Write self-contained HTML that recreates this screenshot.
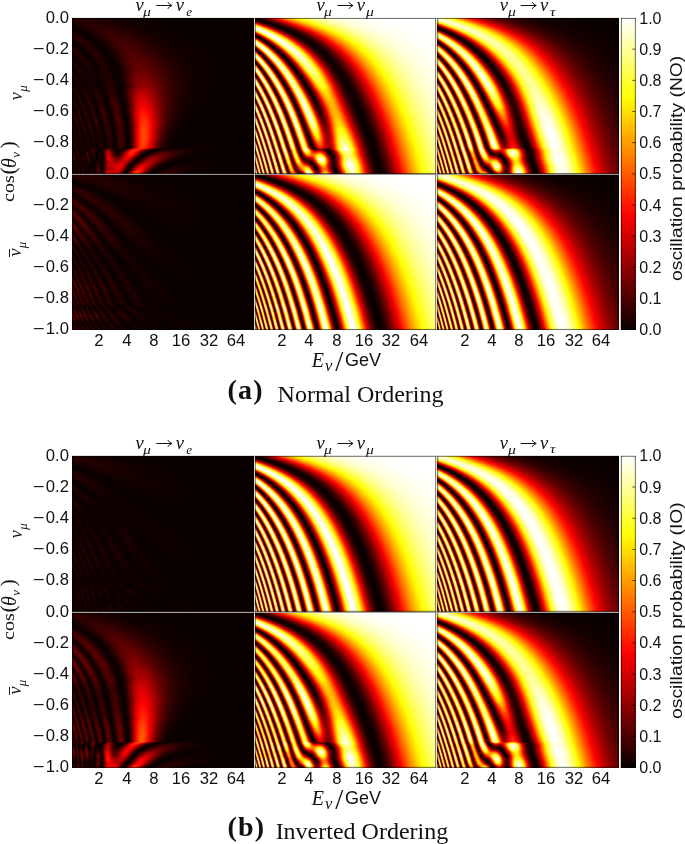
<!DOCTYPE html>
<html><head><meta charset="utf-8"><style>
html,body{margin:0;padding:0;background:#fff}
body{width:685px;height:844px;overflow:hidden;position:relative;font-family:"Liberation Sans",sans-serif;color:#111}
#c{position:absolute;left:0;top:0;width:685px;height:844px}
.t{position:absolute;white-space:nowrap;line-height:1}
.m{font-family:"Liberation Serif",serif;font-style:italic;color:#111}
.m2{font-family:"Liberation Serif",serif;color:#111}
.sans{font-family:"Liberation Sans",sans-serif}
.tk{font-size:16px;font-family:"Liberation Sans",sans-serif}
.yl{width:60px;text-align:right;transform:scaleX(1.04);transform-origin:100% 50%}
.mi{display:inline-block;transform:scaleX(1.2);transform-origin:100% 50%;margin-right:1.6px}
.xl{width:40px;text-align:center;transform:scaleX(1.04);transform-origin:50% 50%}
.cl{transform:scaleX(1.0);transform-origin:0 50%}
.cap{font-family:"Liberation Serif",serif;color:#111}
.capb{font-family:"Liberation Serif",serif;font-weight:bold;color:#111}
.cbl{font-size:17.4px;transform-origin:0 0;transform:rotate(-90deg) scaleX(1.11)}
.rl{font-size:18.5px;transform-origin:0 0;transform:rotate(-90deg)}
.rl .sb{font-size:13px;position:relative;top:4px}
.rm{font-family:"Liberation Serif",serif}
.ov{text-decoration:overline}
.fb{position:absolute}
</style></head><body>
<div class="fb" style="left:72.1px;top:17.90px;width:181.4px;height:8.20px;background:linear-gradient(90deg,#210000 1.9%,#270000 5.8%,#280000 9.6%,#250000 13.5%,#200000 17.3%,#1b0000 21.2%,#160000 25.0%,#130000 28.8%,#100000 32.7%,#0e0000 36.5%,#0d0000 40.4%,#0c0000 44.2%,#0b0000 48.1%,#0b0000 51.9%,#0b0000 55.8%,#0b0000 59.6%,#0b0000 63.5%,#0b0000 67.3%,#0b0000 71.2%,#0b0000 75.0%,#0b0000 78.8%,#0b0000 82.7%,#0b0000 86.5%,#0b0000 90.4%,#0b0000 94.2%,#0a0000 98.1%)"></div>
<div class="fb" style="left:72.1px;top:25.70px;width:181.4px;height:8.20px;background:linear-gradient(90deg,#0f0000 1.9%,#100000 5.8%,#1e0000 9.6%,#2a0000 13.5%,#2f0000 17.3%,#2e0000 21.2%,#290000 25.0%,#220000 28.8%,#1d0000 32.7%,#170000 36.5%,#130000 40.4%,#110000 44.2%,#0e0000 48.1%,#0d0000 51.9%,#0c0000 55.8%,#0b0000 59.6%,#0b0000 63.5%,#0b0000 67.3%,#0b0000 71.2%,#0b0000 75.0%,#0b0000 78.8%,#0b0000 82.7%,#0b0000 86.5%,#0b0000 90.4%,#0b0000 94.2%,#0a0000 98.1%)"></div>
<div class="fb" style="left:72.1px;top:33.50px;width:181.4px;height:8.20px;background:linear-gradient(90deg,#260000 1.9%,#1a0000 5.8%,#0c0000 9.6%,#150000 13.5%,#280000 17.3%,#360000 21.2%,#3a0000 25.0%,#360000 28.8%,#2e0000 32.7%,#260000 36.5%,#1f0000 40.4%,#190000 44.2%,#140000 48.1%,#110000 51.9%,#0f0000 55.8%,#0d0000 59.6%,#0c0000 63.5%,#0b0000 67.3%,#0b0000 71.2%,#0b0000 75.0%,#0b0000 78.8%,#0b0000 82.7%,#0b0000 86.5%,#0b0000 90.4%,#0b0000 94.2%,#0a0000 98.1%)"></div>
<div class="fb" style="left:72.1px;top:41.30px;width:181.4px;height:8.20px;background:linear-gradient(90deg,#0f0000 1.9%,#1e0000 5.8%,#210000 9.6%,#0e0000 13.5%,#110000 17.3%,#270000 21.2%,#3b0000 25.0%,#430000 28.8%,#400000 32.7%,#370000 36.5%,#2d0000 40.4%,#240000 44.2%,#1c0000 48.1%,#170000 51.9%,#130000 55.8%,#100000 59.6%,#0e0000 63.5%,#0d0000 67.3%,#0b0000 71.2%,#0b0000 75.0%,#0b0000 78.8%,#0b0000 82.7%,#0b0000 86.5%,#0b0000 90.4%,#0b0000 94.2%,#0a0000 98.1%)"></div>
<div class="fb" style="left:72.1px;top:49.10px;width:181.4px;height:8.20px;background:linear-gradient(90deg,#200000 1.9%,#110000 5.8%,#190000 9.6%,#210000 13.5%,#0e0000 17.3%,#120000 21.2%,#2c0000 25.0%,#440000 28.8%,#4d0000 32.7%,#490000 36.5%,#3e0000 40.4%,#320000 44.2%,#270000 48.1%,#1f0000 51.9%,#180000 55.8%,#130000 59.6%,#100000 63.5%,#0e0000 67.3%,#0d0000 71.2%,#0b0000 75.0%,#0b0000 78.8%,#0b0000 82.7%,#0b0000 86.5%,#0b0000 90.4%,#0b0000 94.2%,#0a0000 98.1%)"></div>
<div class="fb" style="left:72.1px;top:56.90px;width:181.4px;height:8.20px;background:linear-gradient(90deg,#140000 1.9%,#1c0000 5.8%,#100000 9.6%,#1a0000 13.5%,#1d0000 17.3%,#0c0000 21.2%,#1a0000 25.0%,#3b0000 28.8%,#530000 32.7%,#580000 36.5%,#500000 40.4%,#420000 44.2%,#340000 48.1%,#280000 51.9%,#1f0000 55.8%,#180000 59.6%,#130000 63.5%,#100000 67.3%,#0d0000 71.2%,#0d0000 75.0%,#0b0000 78.8%,#0b0000 82.7%,#0b0000 86.5%,#0b0000 90.4%,#0b0000 94.2%,#0a0000 98.1%)"></div>
<div class="fb" style="left:72.1px;top:64.70px;width:181.4px;height:8.20px;background:linear-gradient(90deg,#180000 1.9%,#100000 5.8%,#180000 9.6%,#100000 13.5%,#200000 17.3%,#140000 21.2%,#0f0000 25.0%,#2e0000 28.8%,#530000 32.7%,#640000 36.5%,#610000 40.4%,#510000 44.2%,#400000 48.1%,#310000 51.9%,#250000 55.8%,#1c0000 59.6%,#160000 63.5%,#120000 67.3%,#0f0000 71.2%,#0d0000 75.0%,#0c0000 78.8%,#0b0000 82.7%,#0b0000 86.5%,#0b0000 90.4%,#0b0000 94.2%,#0a0000 98.1%)"></div>
<div class="fb" style="left:72.1px;top:72.50px;width:181.4px;height:8.20px;background:linear-gradient(90deg,#160000 1.9%,#160000 5.8%,#130000 9.6%,#110000 13.5%,#1a0000 17.3%,#1a0000 21.2%,#0d0000 25.0%,#290000 28.8%,#590000 32.7%,#760000 36.5%,#750000 40.4%,#640000 44.2%,#4e0000 48.1%,#3a0000 51.9%,#2a0000 55.8%,#1f0000 59.6%,#180000 63.5%,#120000 67.3%,#100000 71.2%,#0d0000 75.0%,#0c0000 78.8%,#0b0000 82.7%,#0b0000 86.5%,#0b0000 90.4%,#0b0000 94.2%,#0a0000 98.1%)"></div>
<div class="fb" style="left:72.1px;top:80.30px;width:181.4px;height:8.20px;background:linear-gradient(90deg,#120000 1.9%,#130000 5.8%,#150000 9.6%,#130000 13.5%,#160000 17.3%,#230000 21.2%,#0e0000 25.0%,#1f0000 28.8%,#5a0000 32.7%,#860000 36.5%,#8d0000 40.4%,#790000 44.2%,#5d0000 48.1%,#430000 51.9%,#300000 55.8%,#220000 59.6%,#190000 63.5%,#130000 67.3%,#100000 71.2%,#0d0000 75.0%,#0c0000 78.8%,#0b0000 82.7%,#0b0000 86.5%,#0b0000 90.4%,#0b0000 94.2%,#0a0000 98.1%)"></div>
<div class="fb" style="left:72.1px;top:88.10px;width:181.4px;height:8.20px;background:linear-gradient(90deg,#170000 1.9%,#160000 5.8%,#100000 9.6%,#210000 13.5%,#0e0000 17.3%,#290000 21.2%,#120000 25.0%,#1e0000 28.8%,#6f0000 32.7%,#ad0000 36.5%,#b10000 40.4%,#910000 44.2%,#690000 48.1%,#470000 51.9%,#2f0000 55.8%,#200000 59.6%,#170000 63.5%,#110000 67.3%,#0e0000 71.2%,#0c0000 75.0%,#0b0000 78.8%,#0b0000 82.7%,#0b0000 86.5%,#0b0000 90.4%,#0b0000 94.2%,#0a0000 98.1%)"></div>
<div class="fb" style="left:72.1px;top:95.90px;width:181.4px;height:8.20px;background:linear-gradient(90deg,#150000 1.9%,#160000 5.8%,#200000 9.6%,#1c0000 13.5%,#130000 17.3%,#290000 21.2%,#230000 25.0%,#140000 28.8%,#710000 32.7%,#cb0000 36.5%,#d50000 40.4%,#aa0000 44.2%,#750000 48.1%,#4b0000 51.9%,#2f0000 55.8%,#1e0000 59.6%,#140000 63.5%,#0f0000 67.3%,#0d0000 71.2%,#0b0000 75.0%,#0b0000 78.8%,#0b0000 82.7%,#0b0000 86.5%,#0b0000 90.4%,#0b0000 94.2%,#0a0000 98.1%)"></div>
<div class="fb" style="left:72.1px;top:103.70px;width:181.4px;height:8.20px;background:linear-gradient(90deg,#1b0000 1.9%,#200000 5.8%,#1c0000 9.6%,#110000 13.5%,#260000 17.3%,#1c0000 21.2%,#380000 25.0%,#0e0000 28.8%,#670000 32.7%,#df0000 36.5%,#f50100 40.4%,#c20000 44.2%,#800000 48.1%,#4c0000 51.9%,#2d0000 55.8%,#1b0000 59.6%,#120000 63.5%,#0d0000 67.3%,#0b0000 71.2%,#0b0000 75.0%,#0b0000 78.8%,#0b0000 82.7%,#0b0000 86.5%,#0b0000 90.4%,#0b0000 94.2%,#0a0000 98.1%)"></div>
<div class="fb" style="left:72.1px;top:111.50px;width:181.4px;height:8.20px;background:linear-gradient(90deg,#1c0000 1.9%,#180000 5.8%,#150000 9.6%,#1d0000 13.5%,#2e0000 17.3%,#100000 21.2%,#3f0000 25.0%,#100000 28.8%,#5f0000 32.7%,#f20600 36.5%,#ff1900 40.4%,#d60000 44.2%,#830000 48.1%,#470000 51.9%,#260000 55.8%,#150000 59.6%,#0e0000 63.5%,#0b0000 67.3%,#0b0000 71.2%,#0b0000 75.0%,#0b0000 78.8%,#0b0000 82.7%,#0b0000 86.5%,#0b0000 90.4%,#0b0000 94.2%,#0a0000 98.1%)"></div>
<div class="fb" style="left:72.1px;top:119.30px;width:181.4px;height:8.20px;background:linear-gradient(90deg,#1c0000 1.9%,#1e0000 5.8%,#200000 9.6%,#260000 13.5%,#1f0000 17.3%,#130000 21.2%,#3e0000 25.0%,#190000 28.8%,#4a0000 32.7%,#f00a00 36.5%,#ff2f00 40.4%,#e40100 44.2%,#860000 48.1%,#430000 51.9%,#210000 55.8%,#110000 59.6%,#0c0000 63.5%,#0b0000 67.3%,#0b0000 71.2%,#0b0000 75.0%,#0b0000 78.8%,#0b0000 82.7%,#0b0000 86.5%,#0b0000 90.4%,#0b0000 94.2%,#0a0000 98.1%)"></div>
<div class="fb" style="left:72.1px;top:127.10px;width:181.4px;height:8.20px;background:linear-gradient(90deg,#190000 1.9%,#180000 5.8%,#190000 9.6%,#190000 13.5%,#130000 17.3%,#1e0000 21.2%,#2d0000 25.0%,#1f0000 28.8%,#420000 32.7%,#f21000 36.5%,#ff3c00 40.4%,#e10100 44.2%,#770000 48.1%,#340000 51.9%,#160000 55.8%,#0c0000 59.6%,#0b0000 63.5%,#0b0000 67.3%,#0b0000 71.2%,#0b0000 75.0%,#0b0000 78.8%,#0b0000 82.7%,#0b0000 86.5%,#0b0000 90.4%,#0b0000 94.2%,#0a0000 98.1%)"></div>
<div class="fb" style="left:72.1px;top:134.90px;width:181.4px;height:8.20px;background:linear-gradient(90deg,#170000 1.9%,#150000 5.8%,#130000 9.6%,#130000 13.5%,#120000 17.3%,#220000 21.2%,#230000 25.0%,#260000 28.8%,#380000 32.7%,#f01000 36.5%,#ff3c00 40.4%,#d40000 44.2%,#640000 48.1%,#260000 51.9%,#0f0000 55.8%,#0b0000 59.6%,#0b0000 63.5%,#0b0000 67.3%,#0b0000 71.2%,#0b0000 75.0%,#0b0000 78.8%,#0b0000 82.7%,#0b0000 86.5%,#0b0000 90.4%,#0b0000 94.2%,#0a0000 98.1%)"></div>
<div class="fb" style="left:72.1px;top:142.70px;width:181.4px;height:8.20px;background:linear-gradient(90deg,#130000 1.9%,#140000 5.8%,#130000 9.6%,#130000 13.5%,#140000 17.3%,#270000 21.2%,#1b0000 25.0%,#240000 28.8%,#430000 32.7%,#f31400 36.5%,#fa2900 40.4%,#a90000 44.2%,#420000 48.1%,#150000 51.9%,#0c0000 55.8%,#0c0000 59.6%,#0c0000 63.5%,#0d0000 67.3%,#0d0000 71.2%,#0b0000 75.0%,#0b0000 78.8%,#0b0000 82.7%,#0b0000 86.5%,#0b0000 90.4%,#0b0000 94.2%,#0a0000 98.1%)"></div>
<div class="fb" style="left:72.1px;top:150.50px;width:181.4px;height:8.20px;background:linear-gradient(90deg,#210000 1.9%,#130000 5.8%,#210000 9.6%,#130000 13.5%,#320000 17.3%,#9c0000 21.2%,#250000 25.0%,#900000 28.8%,#f81700 32.7%,#7a0000 36.5%,#190000 40.4%,#3a0000 44.2%,#570000 48.1%,#4e0000 51.9%,#360000 55.8%,#210000 59.6%,#150000 63.5%,#0f0000 67.3%,#0c0000 71.2%,#0b0000 75.0%,#0b0000 78.8%,#0b0000 82.7%,#0b0000 86.5%,#0b0000 90.4%,#0b0000 94.2%,#0a0000 98.1%)"></div>
<div class="fb" style="left:72.1px;top:158.30px;width:181.4px;height:8.20px;background:linear-gradient(90deg,#180000 1.9%,#1a0000 5.8%,#1b0000 9.6%,#150000 13.5%,#280000 17.3%,#c40000 21.2%,#a80000 25.0%,#c60000 28.8%,#420000 32.7%,#370000 36.5%,#a10000 40.4%,#9d0000 44.2%,#560000 48.1%,#220000 51.9%,#0f0000 55.8%,#0c0000 59.6%,#0d0000 63.5%,#0d0000 67.3%,#0d0000 71.2%,#0c0000 75.0%,#0c0000 78.8%,#0b0000 82.7%,#0b0000 86.5%,#0b0000 90.4%,#0b0000 94.2%,#0a0000 98.1%)"></div>
<div class="fb" style="left:72.1px;top:166.10px;width:181.4px;height:8.20px;background:linear-gradient(90deg,#160000 1.9%,#1c0000 5.8%,#120000 9.6%,#2b0000 13.5%,#2f0000 17.3%,#be0000 21.2%,#d30000 25.0%,#500000 28.8%,#5d0000 32.7%,#f21300 36.5%,#a20000 40.4%,#280000 44.2%,#130000 48.1%,#1e0000 51.9%,#220000 55.8%,#1d0000 59.6%,#160000 63.5%,#100000 67.3%,#0d0000 71.2%,#0c0000 75.0%,#0b0000 78.8%,#0b0000 82.7%,#0b0000 86.5%,#0b0000 90.4%,#0b0000 94.2%,#0a0000 98.1%)"></div>
<div class="fb" style="left:254.8px;top:17.90px;width:181.4px;height:8.20px;background:linear-gradient(90deg,#680800 1.9%,#2b0000 5.8%,#470000 9.6%,#970300 13.5%,#dc2300 17.3%,#fd6300 21.2%,#ffb201 25.0%,#ffe615 28.8%,#fffd3f 32.7%,#ffff74 36.5%,#ffff9c 40.4%,#ffffb8 44.2%,#ffffcc 48.1%,#ffffdc 51.9%,#ffffe6 55.8%,#ffffee 59.6%,#fffff4 63.5%,#fffff8 67.3%,#fffffa 71.2%,#fffffd 75.0%,#fffffe 78.8%,#ffffff 82.7%,#ffffff 86.5%,#ffffff 90.4%,#ffffff 94.2%,#ffffff 98.1%)"></div>
<div class="fb" style="left:254.8px;top:25.70px;width:181.4px;height:8.20px;background:linear-gradient(90deg,#fff195 1.9%,#ffd26d 5.8%,#d55808 9.6%,#6b0400 13.5%,#210000 17.3%,#3b0000 21.2%,#8e0000 25.0%,#df1700 28.8%,#fe5a00 32.7%,#ffae00 36.5%,#ffe80d 40.4%,#fffe35 44.2%,#ffff69 48.1%,#ffff95 51.9%,#ffffb4 55.8%,#ffffcb 59.6%,#ffffdb 63.5%,#ffffe6 67.3%,#ffffee 71.2%,#fffff4 75.0%,#fffff8 78.8%,#fffffa 82.7%,#fffffc 86.5%,#fffffe 90.4%,#ffffff 94.2%,#ffffff 98.1%)"></div>
<div class="fb" style="left:254.8px;top:33.50px;width:181.4px;height:8.20px;background:linear-gradient(90deg,#560400 1.9%,#cc5a0c 5.8%,#fff8a7 9.6%,#fff482 13.5%,#f26203 17.3%,#790100 21.2%,#1a0000 25.0%,#2b0000 28.8%,#7e0000 32.7%,#de0800 36.5%,#ff4d00 40.4%,#ff9e00 44.2%,#ffdf02 48.1%,#fffe26 51.9%,#ffff63 55.8%,#ffff90 59.6%,#ffffb1 63.5%,#ffffc9 67.3%,#ffffd9 71.2%,#ffffe5 75.0%,#ffffed 78.8%,#fffff3 82.7%,#fffff7 86.5%,#fffffa 90.4%,#fffffb 94.2%,#fffffe 98.1%)"></div>
<div class="fb" style="left:254.8px;top:41.30px;width:181.4px;height:8.20px;background:linear-gradient(90deg,#fdde81 1.9%,#b45114 5.8%,#5e0600 9.6%,#f5a42f 13.5%,#ffffc6 17.3%,#ffd338 21.2%,#d32300 25.0%,#460000 28.8%,#160000 32.7%,#460000 36.5%,#a40000 40.4%,#f21400 44.2%,#ff6300 48.1%,#ffb500 51.9%,#fff108 55.8%,#ffff3f 59.6%,#ffff76 63.5%,#ffff9e 67.3%,#ffffbb 71.2%,#ffffd0 75.0%,#ffffde 78.8%,#ffffe8 82.7%,#fffff0 86.5%,#fffff5 90.4%,#fffff8 94.2%,#fffffb 98.1%)"></div>
<div class="fb" style="left:254.8px;top:49.10px;width:181.4px;height:8.20px;background:linear-gradient(90deg,#84290a 1.9%,#e7a852 5.8%,#f1a846 9.6%,#420100 13.5%,#d34c04 17.3%,#fffb9b 21.2%,#fff870 25.0%,#f65600 28.8%,#730000 32.7%,#180000 36.5%,#2c0000 40.4%,#780000 44.2%,#d70300 48.1%,#ff4100 51.9%,#ff9a00 55.8%,#ffe101 59.6%,#ffff27 63.5%,#ffff65 67.3%,#ffff91 71.2%,#ffffb1 75.0%,#ffffc9 78.8%,#ffffda 82.7%,#ffffe5 86.5%,#ffffed 90.4%,#fffff3 94.2%,#fffff7 98.1%)"></div>
<div class="fb" style="left:254.8px;top:56.90px;width:181.4px;height:8.20px;background:linear-gradient(90deg,#dca454 1.9%,#943a10 5.8%,#dc8931 9.6%,#fbc95a 13.5%,#480200 17.3%,#bf2a00 21.2%,#fff672 25.0%,#fffc73 28.8%,#fb6500 32.7%,#800000 36.5%,#1a0000 40.4%,#220000 44.2%,#690000 48.1%,#cf0100 51.9%,#ff3800 55.8%,#ff9300 59.6%,#ffdc00 63.5%,#fffe21 67.3%,#ffff5f 71.2%,#ffff8e 75.0%,#ffffaf 78.8%,#ffffc7 82.7%,#ffffd8 86.5%,#ffffe4 90.4%,#ffffec 94.2%,#fffff3 98.1%)"></div>
<div class="fb" style="left:254.8px;top:64.70px;width:181.4px;height:8.20px;background:linear-gradient(90deg,#ac5c28 1.9%,#f4c96f 5.8%,#731902 9.6%,#f3ad40 13.5%,#fab136 17.3%,#2f0000 21.2%,#d73300 25.0%,#fffc6e 28.8%,#fff843 32.7%,#f83e00 36.5%,#670000 40.4%,#160000 44.2%,#260000 48.1%,#760000 51.9%,#dd0200 55.8%,#ff4600 59.6%,#ff9e00 63.5%,#ffe400 67.3%,#ffff2a 71.2%,#ffff66 75.0%,#ffff93 78.8%,#ffffb3 82.7%,#ffffca 86.5%,#ffffda 90.4%,#ffffe5 94.2%,#ffffed 98.1%)"></div>
<div class="fb" style="left:254.8px;top:72.50px;width:181.4px;height:8.20px;background:linear-gradient(90deg,#c17b3c 1.9%,#812406 5.8%,#fedf79 9.6%,#580400 13.5%,#fee276 17.3%,#e3690e 21.2%,#2c0000 25.0%,#f05d01 28.8%,#fffe58 32.7%,#ffd109 36.5%,#dd1000 40.4%,#4a0000 44.2%,#130000 48.1%,#380000 51.9%,#910000 55.8%,#f10900 59.6%,#ff5f00 63.5%,#ffb200 67.3%,#fff203 71.2%,#ffff3c 75.0%,#ffff73 78.8%,#ffff9c 82.7%,#ffffba 86.5%,#ffffcf 90.4%,#ffffdd 94.2%,#ffffe8 98.1%)"></div>
<div class="fb" style="left:254.8px;top:80.30px;width:181.4px;height:8.20px;background:linear-gradient(90deg,#cc8c45 1.9%,#f3c065 5.8%,#8d2e08 9.6%,#edaa4c 13.5%,#7e1800 17.3%,#fffc93 21.2%,#ab2100 25.0%,#4a0000 28.8%,#fd8d02 32.7%,#fffe22 36.5%,#ff7e00 40.4%,#b00000 44.2%,#300000 48.1%,#160000 51.9%,#500000 55.8%,#b20000 59.6%,#fd1e00 63.5%,#ff7b00 67.3%,#ffc900 71.2%,#fffc0e 75.0%,#ffff4f 78.8%,#ffff81 82.7%,#ffffa6 86.5%,#ffffc1 90.4%,#ffffd4 94.2%,#ffffe1 98.1%)"></div>
<div class="fb" style="left:254.8px;top:88.10px;width:181.4px;height:8.20px;background:linear-gradient(90deg,#a75421 1.9%,#90330b 5.8%,#cf893f 9.6%,#e39f48 13.5%,#9b3607 17.3%,#de7517 21.2%,#ffe266 25.0%,#560200 28.8%,#8d0400 32.7%,#ffad00 36.5%,#ffc300 40.4%,#f82300 44.2%,#6f0000 48.1%,#160000 51.9%,#250000 55.8%,#750000 59.6%,#db0100 63.5%,#ff4300 67.3%,#ff9b00 71.2%,#ffe200 75.0%,#ffff27 78.8%,#ffff64 82.7%,#ffff91 86.5%,#ffffb1 90.4%,#ffffc9 94.2%,#ffffda 98.1%)"></div>
<div class="fb" style="left:254.8px;top:95.90px;width:181.4px;height:8.20px;background:linear-gradient(90deg,#d59648 1.9%,#e9ad55 5.8%,#ce8f47 9.6%,#741401 13.5%,#ffe781 17.3%,#4e0100 21.2%,#ffec87 25.0%,#ee760f 28.8%,#280000 32.7%,#de1d00 36.5%,#ffb900 40.4%,#ff7500 44.2%,#c20200 48.1%,#350000 51.9%,#110000 55.8%,#430000 59.6%,#a10000 63.5%,#f91100 67.3%,#ff6c00 71.2%,#ffbc00 75.0%,#fff806 78.8%,#ffff44 82.7%,#ffff7a 86.5%,#ffffa1 90.4%,#ffffbd 94.2%,#ffffd1 98.1%)"></div>
<div class="fb" style="left:254.8px;top:103.70px;width:181.4px;height:8.20px;background:linear-gradient(90deg,#b05c25 1.9%,#a24412 5.8%,#92340d 9.6%,#e5a558 13.5%,#d58639 17.3%,#b9510f 21.2%,#cc5709 25.0%,#fff99d 28.8%,#890700 32.7%,#6e0000 36.5%,#ff7200 40.4%,#ffa700 44.2%,#f72300 48.1%,#6a0000 51.9%,#140000 55.8%,#220000 59.6%,#700000 63.5%,#d70000 67.3%,#ff3f00 71.2%,#ff9800 75.0%,#ffdf00 78.8%,#ffff24 82.7%,#ffff62 86.5%,#ffff8f 90.4%,#ffffb0 94.2%,#ffffc8 98.1%)"></div>
<div class="fb" style="left:254.8px;top:111.50px;width:181.4px;height:8.20px;background:linear-gradient(90deg,#c8833f 1.9%,#dd994a 5.8%,#f1b659 9.6%,#d69855 13.5%,#700c00 17.3%,#ffed8d 21.2%,#490000 25.0%,#fff18f 28.8%,#f7840f 32.7%,#4a0000 36.5%,#ec2300 40.4%,#ffb600 44.2%,#ff7300 48.1%,#b70100 51.9%,#2f0000 55.8%,#0f0000 59.6%,#440000 63.5%,#a40000 67.3%,#fb1200 71.2%,#ff6f00 75.0%,#ffbf00 78.8%,#fff907 82.7%,#ffff46 86.5%,#ffff7b 90.4%,#ffffa2 94.2%,#ffffbe 98.1%)"></div>
<div class="fb" style="left:254.8px;top:119.30px;width:181.4px;height:8.20px;background:linear-gradient(90deg,#bb7234 1.9%,#b16129 5.8%,#a65421 9.6%,#8e2804 13.5%,#cd8441 17.3%,#eaa653 21.2%,#9e3404 25.0%,#de6d0f 28.8%,#fff068 32.7%,#950300 36.5%,#be0500 40.4%,#ffa900 44.2%,#ffbd00 48.1%,#f31e00 51.9%,#5f0000 55.8%,#100000 59.6%,#260000 63.5%,#790000 67.3%,#e00100 71.2%,#ff4800 75.0%,#ff9f00 78.8%,#ffe500 82.7%,#ffff2a 86.5%,#ffff67 90.4%,#ffff93 94.2%,#ffffb3 98.1%)"></div>
<div class="fb" style="left:254.8px;top:127.10px;width:181.4px;height:8.20px;background:linear-gradient(90deg,#c17a3a 1.9%,#c7823f 5.8%,#bc7e41 9.6%,#d89b4f 13.5%,#f6c864 17.3%,#7a1901 21.2%,#fbc45a 25.0%,#580300 28.8%,#fff135 32.7%,#e83200 36.5%,#a90000 40.4%,#ff9900 44.2%,#fffc13 48.1%,#ff8100 51.9%,#aa0000 55.8%,#250000 59.6%,#120000 63.5%,#500000 67.3%,#b30000 71.2%,#fe1f00 75.0%,#ff7c00 78.8%,#ffca00 82.7%,#fffd0e 86.5%,#ffff50 90.4%,#ffff82 94.2%,#ffffa7 98.1%)"></div>
<div class="fb" style="left:254.8px;top:134.90px;width:181.4px;height:8.20px;background:linear-gradient(90deg,#b86f32 1.9%,#bb7135 5.8%,#c38642 9.6%,#c88d46 13.5%,#994411 17.3%,#943f0c 21.2%,#fdd85c 25.0%,#6a0b00 28.8%,#e75400 32.7%,#fe6000 36.5%,#a60000 40.4%,#ff7500 44.2%,#ffff58 48.1%,#ffe314 51.9%,#ed1c00 55.8%,#4f0000 59.6%,#0d0000 63.5%,#300000 67.3%,#8a0000 71.2%,#ee0500 75.0%,#ff5900 78.8%,#ffad00 82.7%,#fff001 86.5%,#ffff38 90.4%,#ffff71 94.2%,#ffff9a 98.1%)"></div>
<div class="fb" style="left:254.8px;top:142.70px;width:181.4px;height:8.20px;background:linear-gradient(90deg,#c88341 1.9%,#bb7435 5.8%,#af5b22 9.6%,#9f3c0a 13.5%,#944113 17.3%,#f4b94c 21.2%,#b75a0e 25.0%,#e17b1b 28.8%,#5e0000 32.7%,#f12400 36.5%,#930000 40.4%,#fc4900 44.2%,#ffff7c 48.1%,#ffff7e 51.9%,#ff6f00 55.8%,#880000 59.6%,#170000 63.5%,#1b0000 67.3%,#670000 71.2%,#cf0000 75.0%,#ff3800 78.8%,#ff9300 82.7%,#ffdc00 86.5%,#ffff20 90.4%,#ffff5f 94.2%,#ffff8e 98.1%)"></div>
<div class="fb" style="left:254.8px;top:150.50px;width:181.4px;height:8.20px;background:linear-gradient(90deg,#b0632e 1.9%,#c27c3c 5.8%,#ce8640 9.6%,#d39247 13.5%,#f1b24a 17.3%,#de921a 21.2%,#620600 25.0%,#fca012 28.8%,#fa5800 32.7%,#f78612 36.5%,#510100 40.4%,#750100 44.2%,#ffba0f 48.1%,#ffff7f 51.9%,#ffb101 55.8%,#c00200 59.6%,#2b0000 63.5%,#100000 67.3%,#4b0000 71.2%,#ae0000 75.0%,#fe1b00 78.8%,#ff7800 82.7%,#ffc700 86.5%,#fffc0c 90.4%,#ffff4e 94.2%,#ffff81 98.1%)"></div>
<div class="fb" style="left:254.8px;top:158.30px;width:181.4px;height:8.20px;background:linear-gradient(90deg,#cc8c46 1.9%,#b86d30 5.8%,#ba6e32 9.6%,#bb7b3b 13.5%,#ae6211 17.3%,#8c1200 21.2%,#ef8302 25.0%,#6a0100 28.8%,#9a1800 32.7%,#fff477 36.5%,#cd2800 40.4%,#3d0000 44.2%,#fd7c01 48.1%,#ffffc5 51.9%,#fff642 55.8%,#f42a00 59.6%,#540000 63.5%,#0d0000 67.3%,#300000 71.2%,#8a0000 75.0%,#ef0500 78.8%,#ff5a00 82.7%,#ffaf00 86.5%,#fff101 90.4%,#ffff39 94.2%,#ffff71 98.1%)"></div>
<div class="fb" style="left:254.8px;top:166.10px;width:181.4px;height:8.20px;background:linear-gradient(90deg,#b36730 1.9%,#c57e39 5.8%,#bb7637 9.6%,#ab5b28 13.5%,#994318 17.3%,#ce5200 21.2%,#bd2b00 25.0%,#fee64e 28.8%,#710d00 32.7%,#e73700 36.5%,#e02d00 40.4%,#1b0000 44.2%,#d82c00 48.1%,#fefc8c 51.9%,#fefe86 55.8%,#fe6900 59.6%,#810000 63.5%,#150000 67.3%,#1e0000 71.2%,#6c0000 75.0%,#d40000 78.8%,#fe3d00 82.7%,#fe9700 86.5%,#fedf00 90.4%,#fefe24 94.2%,#fefe62 98.1%)"></div>
<div class="fb" style="left:437.3px;top:17.90px;width:181.4px;height:8.20px;background:linear-gradient(90deg,#f7d762 1.9%,#ffff9f 5.8%,#fffd7f 9.6%,#ffe235 13.5%,#ffa206 17.3%,#fb4d00 21.2%,#e41500 25.0%,#b80100 28.8%,#890000 32.7%,#650000 36.5%,#4a0000 40.4%,#380000 44.2%,#2a0000 48.1%,#200000 51.9%,#190000 55.8%,#140000 59.6%,#110000 63.5%,#0f0000 67.3%,#0d0000 71.2%,#0c0000 75.0%,#0b0000 78.8%,#0b0000 82.7%,#0b0000 86.5%,#0b0000 90.4%,#0b0000 94.2%,#0b0000 98.1%)"></div>
<div class="fb" style="left:437.3px;top:25.70px;width:181.4px;height:8.20px;background:linear-gradient(90deg,#570600 1.9%,#770e00 5.8%,#e36f0a 9.6%,#ffe251 13.5%,#ffffa2 17.3%,#ffff87 21.2%,#ffed30 25.0%,#ffab02 28.8%,#fe4f00 32.7%,#eb1200 36.5%,#bc0000 40.4%,#8b0000 44.2%,#660000 48.1%,#4c0000 51.9%,#390000 55.8%,#2a0000 59.6%,#210000 63.5%,#1a0000 67.3%,#150000 71.2%,#110000 75.0%,#0f0000 78.8%,#0d0000 82.7%,#0c0000 86.5%,#0b0000 90.4%,#0b0000 94.2%,#0b0000 98.1%)"></div>
<div class="fb" style="left:437.3px;top:33.50px;width:181.4px;height:8.20px;background:linear-gradient(90deg,#f7e36c 1.9%,#ed8d23 5.8%,#540300 9.6%,#500000 13.5%,#e54400 17.3%,#ffe22d 21.2%,#ffff9a 25.0%,#ffff90 28.8%,#fff92f 32.7%,#ffb800 36.5%,#ff5a00 40.4%,#f61100 44.2%,#c40000 48.1%,#910000 51.9%,#6b0000 55.8%,#4f0000 59.6%,#3a0000 63.5%,#2c0000 67.3%,#220000 71.2%,#1a0000 75.0%,#150000 78.8%,#110000 82.7%,#0f0000 86.5%,#0d0000 90.4%,#0c0000 94.2%,#0b0000 98.1%)"></div>
<div class="fb" style="left:437.3px;top:41.30px;width:181.4px;height:8.20px;background:linear-gradient(90deg,#6d1501 1.9%,#d47a22 5.8%,#fff279 9.6%,#c84605 13.5%,#2b0000 17.3%,#860500 21.2%,#fb7c02 25.0%,#fff84c 28.8%,#ffff9c 32.7%,#ffff6a 36.5%,#ffe90f 40.4%,#ff9300 44.2%,#ff3800 48.1%,#e70400 51.9%,#af0000 55.8%,#810000 59.6%,#5f0000 63.5%,#460000 67.3%,#340000 71.2%,#280000 75.0%,#1f0000 78.8%,#180000 82.7%,#140000 86.5%,#110000 90.4%,#0e0000 94.2%,#0d0000 98.1%)"></div>
<div class="fb" style="left:437.3px;top:49.10px;width:181.4px;height:8.20px;background:linear-gradient(90deg,#e1ad48 1.9%,#b05114 5.8%,#902602 9.6%,#fff38a 13.5%,#f89c21 17.3%,#550100 21.2%,#410000 25.0%,#e63100 28.8%,#ffdf19 32.7%,#ffff88 36.5%,#ffff84 40.4%,#fffa24 44.2%,#ffb400 48.1%,#ff5700 51.9%,#f80d00 55.8%,#c30000 59.6%,#900000 63.5%,#6a0000 67.3%,#4e0000 71.2%,#3a0000 75.0%,#2c0000 78.8%,#220000 82.7%,#1a0000 86.5%,#150000 90.4%,#120000 94.2%,#0f0000 98.1%)"></div>
<div class="fb" style="left:437.3px;top:56.90px;width:181.4px;height:8.20px;background:linear-gradient(90deg,#a5551d 1.9%,#dc973c 5.8%,#d07021 9.6%,#731000 13.5%,#ffed83 17.3%,#fec236 21.2%,#6f0300 25.0%,#2e0000 28.8%,#da1a00 32.7%,#ffcf0a 36.5%,#ffff78 40.4%,#ffff85 44.2%,#fffd2b 48.1%,#ffbe00 51.9%,#ff6000 55.8%,#fb1200 59.6%,#c90000 63.5%,#950000 67.3%,#6e0000 71.2%,#510000 75.0%,#3c0000 78.8%,#2d0000 82.7%,#230000 86.5%,#1b0000 90.4%,#160000 94.2%,#110000 98.1%)"></div>
<div class="fb" style="left:437.3px;top:64.70px;width:181.4px;height:8.20px;background:linear-gradient(90deg,#b9702a 1.9%,#8f360c 5.8%,#f4bf5b 9.6%,#bd4b0c 13.5%,#901700 17.3%,#fffcac 21.2%,#feaf1e 25.0%,#560000 28.8%,#380000 32.7%,#eb2300 36.5%,#ffe00c 40.4%,#ffff7f 44.2%,#ffff7c 48.1%,#fffb1d 51.9%,#ffb200 55.8%,#ff5500 59.6%,#f90a00 63.5%,#c20000 67.3%,#8f0000 71.2%,#6a0000 75.0%,#4e0000 78.8%,#3a0000 82.7%,#2c0000 86.5%,#220000 90.4%,#1a0000 94.2%,#150000 98.1%)"></div>
<div class="fb" style="left:437.3px;top:72.50px;width:181.4px;height:8.20px;background:linear-gradient(90deg,#c17e32 1.9%,#ebb959 5.8%,#6b1000 9.6%,#ffec8c 13.5%,#791700 17.3%,#cf4e06 21.2%,#ffffcc 25.0%,#f36d06 28.8%,#320000 32.7%,#600000 36.5%,#fb4d00 40.4%,#fff523 44.2%,#ffff8a 48.1%,#ffff6b 51.9%,#fff20b 55.8%,#ff9c00 59.6%,#ff4100 63.5%,#f00300 67.3%,#b50000 71.2%,#860000 75.0%,#630000 78.8%,#490000 82.7%,#360000 86.5%,#290000 90.4%,#200000 94.2%,#190000 98.1%)"></div>
<div class="fb" style="left:437.3px;top:80.30px;width:181.4px;height:8.20px;background:linear-gradient(90deg,#9e4b19 1.9%,#8d340e 5.8%,#f8cb65 9.6%,#872704 13.5%,#fee07a 17.3%,#3e0000 21.2%,#f8a728 25.0%,#fffc9c 28.8%,#ce2200 32.7%,#200000 36.5%,#9f0100 40.4%,#ff9000 44.2%,#ffff50 48.1%,#ffff94 51.9%,#ffff54 55.8%,#ffe002 59.6%,#ff8200 63.5%,#ff2a00 67.3%,#e00000 71.2%,#a60000 75.0%,#7b0000 78.8%,#5a0000 82.7%,#430000 86.5%,#320000 90.4%,#260000 94.2%,#1d0000 98.1%)"></div>
<div class="fb" style="left:437.3px;top:88.10px;width:181.4px;height:8.20px;background:linear-gradient(90deg,#d49741 1.9%,#e6ad4f 5.8%,#9e4715 9.6%,#b35b1c 13.5%,#e5983a 17.3%,#de741a 21.2%,#640500 25.0%,#ffee64 28.8%,#ffc41b 32.7%,#730000 36.5%,#3f0000 40.4%,#ed2000 44.2%,#ffe40d 48.1%,#ffff92 51.9%,#ffff97 55.8%,#fffe34 59.6%,#ffc200 63.5%,#ff6300 67.3%,#fd1100 71.2%,#ca0000 75.0%,#960000 78.8%,#6e0000 82.7%,#510000 86.5%,#3c0000 90.4%,#2e0000 94.2%,#220000 98.1%)"></div>
<div class="fb" style="left:437.3px;top:95.90px;width:181.4px;height:8.20px;background:linear-gradient(90deg,#a04f1a 1.9%,#9a4011 5.8%,#b9722d 9.6%,#f8ce5f 13.5%,#5e0600 17.3%,#fff578 21.2%,#670900 25.0%,#d23d00 28.8%,#fffd3b 32.7%,#e32a00 36.5%,#310000 40.4%,#9b0000 44.2%,#ff8e00 48.1%,#ffff64 51.9%,#ffffba 55.8%,#ffff82 59.6%,#fff50f 63.5%,#ff9c00 67.3%,#ff3f00 71.2%,#ee0200 75.0%,#b20000 78.8%,#840000 82.7%,#610000 86.5%,#480000 90.4%,#350000 94.2%,#270000 98.1%)"></div>
<div class="fb" style="left:437.3px;top:103.70px;width:181.4px;height:8.20px;background:linear-gradient(90deg,#c78432 1.9%,#e39e3b 5.8%,#dca143 9.6%,#892b05 13.5%,#cb7322 17.3%,#d47014 21.2%,#f08c1b 25.0%,#3b0000 28.8%,#ffac02 32.7%,#ff8300 36.5%,#630000 40.4%,#530000 44.2%,#f83400 48.1%,#fff525 51.9%,#ffffbe 55.8%,#ffffbb 59.6%,#ffff4f 63.5%,#ffd100 67.3%,#ff6d00 71.2%,#fe1700 75.0%,#cf0000 78.8%,#990000 82.7%,#710000 86.5%,#530000 90.4%,#3e0000 94.2%,#2d0000 98.1%)"></div>
<div class="fb" style="left:437.3px;top:111.50px;width:181.4px;height:8.20px;background:linear-gradient(90deg,#ad6321 1.9%,#a64a12 5.8%,#943309 9.6%,#b36b25 13.5%,#fbd24f 17.3%,#540100 21.2%,#fff65d 25.0%,#730800 28.8%,#a80a00 32.7%,#ff7c00 36.5%,#a90100 40.4%,#300000 44.2%,#c90500 48.1%,#ffc503 51.9%,#ffffa5 55.8%,#ffffe3 59.6%,#ffff99 63.5%,#fff915 67.3%,#ff9f00 71.2%,#ff4000 75.0%,#ee0100 78.8%,#b20000 82.7%,#830000 86.5%,#600000 90.4%,#470000 94.2%,#340000 98.1%)"></div>
<div class="fb" style="left:437.3px;top:119.30px;width:181.4px;height:8.20px;background:linear-gradient(90deg,#b97328 1.9%,#d08830 5.8%,#e29d39 9.6%,#eeb343 13.5%,#99430c 17.3%,#b65913 21.2%,#e18119 25.0%,#ee8314 28.8%,#2b0000 32.7%,#f52500 36.5%,#d70600 40.4%,#2f0000 44.2%,#7e0000 48.1%,#ff7400 51.9%,#ffff6a 55.8%,#ffffec 59.6%,#ffffcc 63.5%,#ffff4f 67.3%,#ffcb00 71.2%,#ff6700 75.0%,#fd1200 78.8%,#ca0000 82.7%,#950000 86.5%,#6d0000 90.4%,#510000 94.2%,#3a0000 98.1%)"></div>
<div class="fb" style="left:437.3px;top:127.10px;width:181.4px;height:8.20px;background:linear-gradient(90deg,#b06825 1.9%,#b26020 5.8%,#a9591e 9.6%,#97380a 13.5%,#8d380c 17.3%,#fee062 21.2%,#660900 25.0%,#fffa86 28.8%,#700600 32.7%,#860000 36.5%,#e10000 40.4%,#420000 44.2%,#3d0000 48.1%,#ef2400 51.9%,#fff023 55.8%,#ffffda 59.6%,#fffff1 63.5%,#ffff8e 67.3%,#fff10b 71.2%,#ff9000 75.0%,#ff3200 78.8%,#e40000 82.7%,#a90000 86.5%,#7c0000 90.4%,#5c0000 94.2%,#420000 98.1%)"></div>
<div class="fb" style="left:437.3px;top:134.90px;width:181.4px;height:8.20px;background:linear-gradient(90deg,#bc7830 1.9%,#c27930 5.8%,#b97937 9.6%,#b97b3a 13.5%,#f3bb58 17.3%,#d0873e 21.2%,#832603 25.0%,#fbc25b 28.8%,#ed7612 32.7%,#4e0000 36.5%,#dc0000 40.4%,#710000 44.2%,#170000 48.1%,#b00200 51.9%,#ffb201 55.8%,#ffffa4 59.6%,#fffffb 63.5%,#ffffbe 67.3%,#ffff34 71.2%,#ffb700 75.0%,#ff5400 78.8%,#f80800 82.7%,#be0000 86.5%,#8c0000 90.4%,#670000 94.2%,#4a0000 98.1%)"></div>
<div class="fb" style="left:437.3px;top:142.70px;width:181.4px;height:8.20px;background:linear-gradient(90deg,#a96226 1.9%,#bd7533 5.8%,#c4853e 9.6%,#e0a14c 13.5%,#cc8f4e 17.3%,#7e1600 21.2%,#eca151 25.0%,#ad4205 28.8%,#ffeb6c 32.7%,#9d0100 36.5%,#ed1400 40.4%,#c30700 44.2%,#1c0000 48.1%,#5e0000 51.9%,#fe5600 55.8%,#fffe53 59.6%,#ffffec 63.5%,#ffffdb 67.3%,#ffff65 71.2%,#ffda00 75.0%,#ff7400 78.8%,#ff1b00 82.7%,#d20000 86.5%,#9b0000 90.4%,#720000 94.2%,#520000 98.1%)"></div>
<div class="fb" style="left:437.3px;top:150.50px;width:181.4px;height:8.20px;background:linear-gradient(90deg,#be7b2a 1.9%,#b66d2b 5.8%,#b15d16 9.6%,#a44a14 13.5%,#8a2404 17.3%,#9a3300 21.2%,#fcda68 25.0%,#821000 28.8%,#5e0000 32.7%,#9c0a00 36.5%,#fff272 40.4%,#ffe63b 44.2%,#8d0100 48.1%,#1d0000 51.9%,#d60d00 55.8%,#ffdd0e 59.6%,#ffffc3 63.5%,#ffffeb 67.3%,#ffff91 71.2%,#fff40e 75.0%,#ff9400 78.8%,#ff3600 82.7%,#e70000 86.5%,#ac0000 90.4%,#7e0000 94.2%,#5b0000 98.1%)"></div>
<div class="fb" style="left:437.3px;top:158.30px;width:181.4px;height:8.20px;background:linear-gradient(90deg,#b06424 1.9%,#c47f33 5.8%,#c5792d 9.6%,#c2843e 13.5%,#d99a4c 17.3%,#f16b00 21.2%,#740f00 25.0%,#fc8600 28.8%,#febc3a 32.7%,#4b0200 36.5%,#d62b00 40.4%,#ffdc01 44.2%,#c20d00 48.1%,#130000 51.9%,#9a0000 55.8%,#ffa300 59.6%,#ffff98 63.5%,#fffff6 67.3%,#ffffbb 71.2%,#ffff31 75.0%,#ffb600 78.8%,#ff5300 82.7%,#f80700 86.5%,#bd0000 90.4%,#8b0000 94.2%,#640000 98.1%)"></div>
<div class="fb" style="left:437.3px;top:166.10px;width:181.4px;height:8.20px;background:linear-gradient(90deg,#b36b28 1.9%,#ac6123 5.8%,#ba7130 9.6%,#bd7a24 13.5%,#ca8b28 17.3%,#972100 21.2%,#d04500 25.0%,#4d0100 28.8%,#f6ad30 32.7%,#a31000 36.5%,#c52400 40.4%,#fefeac 44.2%,#fc8706 48.1%,#370000 51.9%,#4b0000 55.8%,#fb4a00 59.6%,#fefc4b 63.5%,#fefee6 67.3%,#fefed5 71.2%,#fefe5e 75.0%,#fed500 78.8%,#fe6f00 82.7%,#fd1800 86.5%,#ce0000 90.4%,#980000 94.2%,#6d0000 98.1%)"></div>
<div class="fb" style="left:72.1px;top:174.90px;width:181.4px;height:8.15px;background:linear-gradient(90deg,#190000 1.9%,#200000 5.8%,#230000 9.6%,#220000 13.5%,#1f0000 17.3%,#1b0000 21.2%,#170000 25.0%,#130000 28.8%,#110000 32.7%,#0f0000 36.5%,#0d0000 40.4%,#0c0000 44.2%,#0b0000 48.1%,#0b0000 51.9%,#0b0000 55.8%,#0b0000 59.6%,#0b0000 63.5%,#0b0000 67.3%,#0b0000 71.2%,#0b0000 75.0%,#0b0000 78.8%,#0b0000 82.7%,#0b0000 86.5%,#0b0000 90.4%,#0b0000 94.2%,#0a0000 98.1%)"></div>
<div class="fb" style="left:72.1px;top:182.65px;width:181.4px;height:8.15px;background:linear-gradient(90deg,#1c0000 1.9%,#0e0000 5.8%,#0e0000 9.6%,#150000 13.5%,#1c0000 17.3%,#1f0000 21.2%,#1f0000 25.0%,#1c0000 28.8%,#180000 32.7%,#150000 36.5%,#120000 40.4%,#100000 44.2%,#0e0000 48.1%,#0d0000 51.9%,#0c0000 55.8%,#0b0000 59.6%,#0b0000 63.5%,#0b0000 67.3%,#0b0000 71.2%,#0b0000 75.0%,#0b0000 78.8%,#0b0000 82.7%,#0b0000 86.5%,#0b0000 90.4%,#0b0000 94.2%,#0a0000 98.1%)"></div>
<div class="fb" style="left:72.1px;top:190.40px;width:181.4px;height:8.15px;background:linear-gradient(90deg,#1c0000 1.9%,#2c0000 5.8%,#240000 9.6%,#130000 13.5%,#0c0000 17.3%,#0e0000 21.2%,#140000 25.0%,#180000 28.8%,#190000 32.7%,#180000 36.5%,#150000 40.4%,#130000 44.2%,#110000 48.1%,#0f0000 51.9%,#0d0000 55.8%,#0d0000 59.6%,#0b0000 63.5%,#0b0000 67.3%,#0b0000 71.2%,#0b0000 75.0%,#0b0000 78.8%,#0b0000 82.7%,#0b0000 86.5%,#0b0000 90.4%,#0b0000 94.2%,#0a0000 98.1%)"></div>
<div class="fb" style="left:72.1px;top:198.15px;width:181.4px;height:8.15px;background:linear-gradient(90deg,#380000 1.9%,#180000 5.8%,#1d0000 9.6%,#2c0000 13.5%,#210000 17.3%,#110000 21.2%,#0b0000 25.0%,#0d0000 28.8%,#100000 32.7%,#130000 36.5%,#140000 40.4%,#140000 44.2%,#120000 48.1%,#110000 51.9%,#100000 55.8%,#0d0000 59.6%,#0d0000 63.5%,#0c0000 67.3%,#0b0000 71.2%,#0b0000 75.0%,#0b0000 78.8%,#0b0000 82.7%,#0b0000 86.5%,#0b0000 90.4%,#0b0000 94.2%,#0a0000 98.1%)"></div>
<div class="fb" style="left:72.1px;top:205.90px;width:181.4px;height:8.15px;background:linear-gradient(90deg,#230000 1.9%,#370000 5.8%,#240000 9.6%,#120000 13.5%,#240000 17.3%,#270000 21.2%,#190000 25.0%,#0e0000 28.8%,#0b0000 32.7%,#0c0000 36.5%,#0f0000 40.4%,#110000 44.2%,#110000 48.1%,#100000 51.9%,#100000 55.8%,#0e0000 59.6%,#0d0000 63.5%,#0d0000 67.3%,#0b0000 71.2%,#0b0000 75.0%,#0b0000 78.8%,#0b0000 82.7%,#0b0000 86.5%,#0b0000 90.4%,#0b0000 94.2%,#0a0000 98.1%)"></div>
<div class="fb" style="left:72.1px;top:213.65px;width:181.4px;height:8.15px;background:linear-gradient(90deg,#410000 1.9%,#210000 5.8%,#310000 9.6%,#280000 13.5%,#0f0000 17.3%,#1e0000 21.2%,#260000 25.0%,#1c0000 28.8%,#100000 32.7%,#0b0000 36.5%,#0b0000 40.4%,#0c0000 44.2%,#0e0000 48.1%,#0f0000 51.9%,#0f0000 55.8%,#0d0000 59.6%,#0d0000 63.5%,#0d0000 67.3%,#0b0000 71.2%,#0b0000 75.0%,#0b0000 78.8%,#0b0000 82.7%,#0b0000 86.5%,#0b0000 90.4%,#0b0000 94.2%,#0a0000 98.1%)"></div>
<div class="fb" style="left:72.1px;top:221.40px;width:181.4px;height:8.15px;background:linear-gradient(90deg,#360000 1.9%,#3c0000 5.8%,#1d0000 9.6%,#2d0000 13.5%,#260000 17.3%,#0f0000 21.2%,#1a0000 25.0%,#230000 28.8%,#1b0000 32.7%,#110000 36.5%,#0b0000 40.4%,#0b0000 44.2%,#0b0000 48.1%,#0c0000 51.9%,#0d0000 55.8%,#0d0000 59.6%,#0d0000 63.5%,#0c0000 67.3%,#0b0000 71.2%,#0b0000 75.0%,#0b0000 78.8%,#0b0000 82.7%,#0b0000 86.5%,#0b0000 90.4%,#0b0000 94.2%,#0a0000 98.1%)"></div>
<div class="fb" style="left:72.1px;top:229.15px;width:181.4px;height:8.15px;background:linear-gradient(90deg,#2b0000 1.9%,#260000 5.8%,#340000 9.6%,#160000 13.5%,#270000 17.3%,#210000 21.2%,#0d0000 25.0%,#150000 28.8%,#1f0000 32.7%,#1b0000 36.5%,#120000 40.4%,#0d0000 44.2%,#0b0000 48.1%,#0b0000 51.9%,#0b0000 55.8%,#0b0000 59.6%,#0b0000 63.5%,#0b0000 67.3%,#0b0000 71.2%,#0b0000 75.0%,#0b0000 78.8%,#0b0000 82.7%,#0b0000 86.5%,#0b0000 90.4%,#0b0000 94.2%,#0a0000 98.1%)"></div>
<div class="fb" style="left:72.1px;top:236.90px;width:181.4px;height:8.15px;background:linear-gradient(90deg,#310000 1.9%,#280000 5.8%,#170000 9.6%,#2c0000 13.5%,#100000 17.3%,#230000 21.2%,#1b0000 25.0%,#0c0000 28.8%,#110000 32.7%,#190000 36.5%,#170000 40.4%,#120000 44.2%,#0d0000 48.1%,#0b0000 51.9%,#0b0000 55.8%,#0b0000 59.6%,#0b0000 63.5%,#0b0000 67.3%,#0b0000 71.2%,#0b0000 75.0%,#0b0000 78.8%,#0b0000 82.7%,#0b0000 86.5%,#0b0000 90.4%,#0b0000 94.2%,#0a0000 98.1%)"></div>
<div class="fb" style="left:72.1px;top:244.65px;width:181.4px;height:8.15px;background:linear-gradient(90deg,#180000 1.9%,#1c0000 5.8%,#220000 9.6%,#110000 13.5%,#1e0000 17.3%,#0d0000 21.2%,#1c0000 25.0%,#150000 28.8%,#0b0000 32.7%,#0e0000 36.5%,#140000 40.4%,#150000 44.2%,#110000 48.1%,#0e0000 51.9%,#0c0000 55.8%,#0b0000 59.6%,#0b0000 63.5%,#0b0000 67.3%,#0b0000 71.2%,#0b0000 75.0%,#0b0000 78.8%,#0b0000 82.7%,#0b0000 86.5%,#0b0000 90.4%,#0b0000 94.2%,#0a0000 98.1%)"></div>
<div class="fb" style="left:72.1px;top:252.40px;width:181.4px;height:8.15px;background:linear-gradient(90deg,#150000 1.9%,#140000 5.8%,#110000 9.6%,#180000 13.5%,#130000 17.3%,#150000 21.2%,#0d0000 25.0%,#190000 28.8%,#130000 32.7%,#0b0000 36.5%,#0c0000 40.4%,#100000 44.2%,#110000 48.1%,#100000 51.9%,#0d0000 55.8%,#0c0000 59.6%,#0b0000 63.5%,#0b0000 67.3%,#0b0000 71.2%,#0b0000 75.0%,#0b0000 78.8%,#0b0000 82.7%,#0b0000 86.5%,#0b0000 90.4%,#0b0000 94.2%,#0a0000 98.1%)"></div>
<div class="fb" style="left:72.1px;top:260.15px;width:181.4px;height:8.15px;background:linear-gradient(90deg,#180000 1.9%,#180000 5.8%,#170000 9.6%,#110000 13.5%,#120000 17.3%,#160000 21.2%,#120000 25.0%,#0d0000 28.8%,#160000 32.7%,#110000 36.5%,#0b0000 40.4%,#0b0000 44.2%,#0d0000 48.1%,#0e0000 51.9%,#0d0000 55.8%,#0d0000 59.6%,#0c0000 63.5%,#0b0000 67.3%,#0b0000 71.2%,#0b0000 75.0%,#0b0000 78.8%,#0b0000 82.7%,#0b0000 86.5%,#0b0000 90.4%,#0b0000 94.2%,#0a0000 98.1%)"></div>
<div class="fb" style="left:72.1px;top:267.90px;width:181.4px;height:8.15px;background:linear-gradient(90deg,#200000 1.9%,#1a0000 5.8%,#170000 9.6%,#1b0000 13.5%,#1a0000 17.3%,#0e0000 21.2%,#190000 25.0%,#100000 28.8%,#0d0000 32.7%,#150000 36.5%,#120000 40.4%,#0c0000 44.2%,#0b0000 48.1%,#0b0000 51.9%,#0c0000 55.8%,#0d0000 59.6%,#0d0000 63.5%,#0b0000 67.3%,#0b0000 71.2%,#0b0000 75.0%,#0b0000 78.8%,#0b0000 82.7%,#0b0000 86.5%,#0b0000 90.4%,#0b0000 94.2%,#0a0000 98.1%)"></div>
<div class="fb" style="left:72.1px;top:275.65px;width:181.4px;height:8.15px;background:linear-gradient(90deg,#280000 1.9%,#230000 5.8%,#210000 9.6%,#1a0000 13.5%,#110000 17.3%,#1f0000 21.2%,#0e0000 25.0%,#1b0000 28.8%,#0c0000 32.7%,#0f0000 36.5%,#150000 40.4%,#110000 44.2%,#0c0000 48.1%,#0b0000 51.9%,#0b0000 55.8%,#0b0000 59.6%,#0b0000 63.5%,#0b0000 67.3%,#0b0000 71.2%,#0b0000 75.0%,#0b0000 78.8%,#0b0000 82.7%,#0b0000 86.5%,#0b0000 90.4%,#0b0000 94.2%,#0a0000 98.1%)"></div>
<div class="fb" style="left:72.1px;top:283.40px;width:181.4px;height:8.15px;background:linear-gradient(90deg,#300000 1.9%,#2b0000 5.8%,#230000 9.6%,#1f0000 13.5%,#250000 17.3%,#1b0000 21.2%,#150000 25.0%,#170000 28.8%,#180000 32.7%,#0b0000 36.5%,#100000 40.4%,#140000 44.2%,#100000 48.1%,#0c0000 51.9%,#0b0000 55.8%,#0b0000 59.6%,#0b0000 63.5%,#0b0000 67.3%,#0b0000 71.2%,#0b0000 75.0%,#0b0000 78.8%,#0b0000 82.7%,#0b0000 86.5%,#0b0000 90.4%,#0b0000 94.2%,#0a0000 98.1%)"></div>
<div class="fb" style="left:72.1px;top:291.15px;width:181.4px;height:8.15px;background:linear-gradient(90deg,#2e0000 1.9%,#2a0000 5.8%,#280000 9.6%,#260000 13.5%,#1c0000 17.3%,#130000 21.2%,#220000 25.0%,#0d0000 28.8%,#1b0000 32.7%,#120000 36.5%,#0b0000 40.4%,#100000 44.2%,#120000 48.1%,#0f0000 51.9%,#0c0000 55.8%,#0b0000 59.6%,#0b0000 63.5%,#0b0000 67.3%,#0b0000 71.2%,#0b0000 75.0%,#0b0000 78.8%,#0b0000 82.7%,#0b0000 86.5%,#0b0000 90.4%,#0b0000 94.2%,#0a0000 98.1%)"></div>
<div class="fb" style="left:72.1px;top:298.90px;width:181.4px;height:8.15px;background:linear-gradient(90deg,#250000 1.9%,#220000 5.8%,#1f0000 9.6%,#1a0000 13.5%,#190000 17.3%,#200000 21.2%,#130000 25.0%,#160000 28.8%,#0f0000 32.7%,#180000 36.5%,#100000 40.4%,#0c0000 44.2%,#0e0000 48.1%,#0f0000 51.9%,#0d0000 55.8%,#0b0000 59.6%,#0b0000 63.5%,#0b0000 67.3%,#0b0000 71.2%,#0b0000 75.0%,#0b0000 78.8%,#0b0000 82.7%,#0b0000 86.5%,#0b0000 90.4%,#0b0000 94.2%,#0a0000 98.1%)"></div>
<div class="fb" style="left:72.1px;top:306.65px;width:181.4px;height:8.15px;background:linear-gradient(90deg,#250000 1.9%,#230000 5.8%,#1b0000 9.6%,#190000 13.5%,#170000 17.3%,#150000 21.2%,#180000 25.0%,#0f0000 28.8%,#190000 32.7%,#110000 36.5%,#0c0000 40.4%,#0e0000 44.2%,#0d0000 48.1%,#0b0000 51.9%,#0b0000 55.8%,#0b0000 59.6%,#0b0000 63.5%,#0b0000 67.3%,#0b0000 71.2%,#0b0000 75.0%,#0b0000 78.8%,#0b0000 82.7%,#0b0000 86.5%,#0b0000 90.4%,#0b0000 94.2%,#0a0000 98.1%)"></div>
<div class="fb" style="left:72.1px;top:314.40px;width:181.4px;height:8.15px;background:linear-gradient(90deg,#350000 1.9%,#290000 5.8%,#2a0000 9.6%,#250000 13.5%,#1e0000 17.3%,#1a0000 21.2%,#170000 25.0%,#200000 28.8%,#0f0000 32.7%,#120000 36.5%,#100000 40.4%,#0b0000 44.2%,#0d0000 48.1%,#100000 51.9%,#0e0000 55.8%,#0c0000 59.6%,#0b0000 63.5%,#0b0000 67.3%,#0b0000 71.2%,#0b0000 75.0%,#0b0000 78.8%,#0b0000 82.7%,#0b0000 86.5%,#0b0000 90.4%,#0b0000 94.2%,#0a0000 98.1%)"></div>
<div class="fb" style="left:72.1px;top:322.15px;width:181.4px;height:8.15px;background:linear-gradient(90deg,#1c0000 1.9%,#1b0000 5.8%,#1a0000 9.6%,#140000 13.5%,#160000 17.3%,#190000 21.2%,#130000 25.0%,#110000 28.8%,#0f0000 32.7%,#0d0000 36.5%,#0c0000 40.4%,#0f0000 44.2%,#0d0000 48.1%,#0b0000 51.9%,#0b0000 55.8%,#0c0000 59.6%,#0c0000 63.5%,#0c0000 67.3%,#0b0000 71.2%,#0b0000 75.0%,#0b0000 78.8%,#0b0000 82.7%,#0b0000 86.5%,#0b0000 90.4%,#0b0000 94.2%,#0a0000 98.1%)"></div>
<div class="fb" style="left:254.8px;top:174.90px;width:181.4px;height:8.15px;background:linear-gradient(90deg,#8b1c00 1.9%,#360000 5.8%,#320000 9.6%,#750000 13.5%,#c51200 17.3%,#f54600 21.2%,#ff9500 25.0%,#ffd60a 28.8%,#fff82c 32.7%,#ffff5f 36.5%,#ffff8e 40.4%,#ffffad 44.2%,#ffffc4 48.1%,#ffffd6 51.9%,#ffffe3 55.8%,#ffffec 59.6%,#fffff2 63.5%,#fffff6 67.3%,#fffff9 71.2%,#fffffc 75.0%,#fffffe 78.8%,#ffffff 82.7%,#ffffff 86.5%,#ffffff 90.4%,#ffffff 94.2%,#ffffff 98.1%)"></div>
<div class="fb" style="left:254.8px;top:182.65px;width:181.4px;height:8.15px;background:linear-gradient(90deg,#ffef91 1.9%,#ffe774 5.8%,#e76107 9.6%,#760300 13.5%,#1d0000 17.3%,#2e0000 21.2%,#7f0000 25.0%,#da0d00 28.8%,#fe4e00 32.7%,#ffa400 36.5%,#ffe407 40.4%,#fffe2c 44.2%,#ffff63 48.1%,#ffff90 51.9%,#ffffb1 55.8%,#ffffc9 59.6%,#ffffd9 63.5%,#ffffe5 67.3%,#ffffed 71.2%,#fffff3 75.0%,#fffff7 78.8%,#fffffa 82.7%,#fffffc 86.5%,#fffffe 90.4%,#ffffff 94.2%,#ffffff 98.1%)"></div>
<div class="fb" style="left:254.8px;top:190.40px;width:181.4px;height:8.15px;background:linear-gradient(90deg,#660c00 1.9%,#b54d0a 5.8%,#ffea81 9.6%,#fff27e 13.5%,#f16f08 17.3%,#830400 21.2%,#1d0000 25.0%,#260000 28.8%,#740000 32.7%,#d40700 36.5%,#fe4400 40.4%,#ff9500 44.2%,#ffd802 48.1%,#fffc21 51.9%,#ffff5d 55.8%,#ffff8c 59.6%,#ffffae 63.5%,#ffffc6 67.3%,#ffffd8 71.2%,#ffffe4 75.0%,#ffffec 78.8%,#fffff2 82.7%,#fffff7 86.5%,#fffffa 90.4%,#fffffb 94.2%,#fffffe 98.1%)"></div>
<div class="fb" style="left:254.8px;top:198.15px;width:181.4px;height:8.15px;background:linear-gradient(90deg,#f5c650 1.9%,#cc6a19 5.8%,#4a0100 9.6%,#e97e15 13.5%,#fffead 17.3%,#ffe248 21.2%,#e23400 25.0%,#540000 28.8%,#120000 32.7%,#370000 36.5%,#910000 40.4%,#e80b00 44.2%,#ff5200 48.1%,#ffa800 51.9%,#ffea04 55.8%,#ffff33 59.6%,#ffff6d 63.5%,#ffff98 67.3%,#ffffb6 71.2%,#ffffcc 75.0%,#ffffdc 78.8%,#ffffe7 82.7%,#ffffee 86.5%,#fffff4 90.4%,#fffff8 94.2%,#fffffb 98.1%)"></div>
<div class="fb" style="left:254.8px;top:205.90px;width:181.4px;height:8.15px;background:linear-gradient(90deg,#8f3609 1.9%,#d58025 5.8%,#f8b93e 9.6%,#480200 13.5%,#bf3201 17.3%,#fff57f 21.2%,#fffb83 25.0%,#fa6c02 28.8%,#820100 32.7%,#180000 36.5%,#210000 40.4%,#690000 44.2%,#c80100 48.1%,#fe3400 51.9%,#ff8e00 55.8%,#ffd800 59.6%,#fffe1e 63.5%,#ffff5c 67.3%,#ffff8c 71.2%,#ffffad 75.0%,#ffffc6 78.8%,#ffffd8 82.7%,#ffffe4 86.5%,#ffffec 90.4%,#fffff2 94.2%,#fffff7 98.1%)"></div>
<div class="fb" style="left:254.8px;top:213.65px;width:181.4px;height:8.15px;background:linear-gradient(90deg,#da9427 1.9%,#913005 5.8%,#db791a 9.6%,#fdc840 13.5%,#400100 17.3%,#c12500 21.2%,#fff97c 25.0%,#fffe88 28.8%,#fd6e00 32.7%,#830000 36.5%,#160000 40.4%,#1b0000 44.2%,#600000 48.1%,#c70000 51.9%,#ff3100 55.8%,#ff8d00 59.6%,#ffd800 63.5%,#fffe1c 67.3%,#ffff5c 71.2%,#ffff8b 75.0%,#ffffad 78.8%,#ffffc6 82.7%,#ffffd8 86.5%,#ffffe3 90.4%,#ffffec 94.2%,#fffff2 98.1%)"></div>
<div class="fb" style="left:254.8px;top:221.40px;width:181.4px;height:8.15px;background:linear-gradient(90deg,#a75211 1.9%,#efb939 5.8%,#701801 9.6%,#efa531 13.5%,#f6a328 17.3%,#2f0000 21.2%,#dc4301 25.0%,#fffe9b 28.8%,#fffa6b 32.7%,#f94f00 36.5%,#6c0000 40.4%,#130000 44.2%,#1f0000 48.1%,#6e0000 51.9%,#d50100 55.8%,#ff3f00 59.6%,#ff9900 63.5%,#ffe100 67.3%,#ffff26 71.2%,#ffff64 75.0%,#ffff91 78.8%,#ffffb1 82.7%,#ffffc9 86.5%,#ffffda 90.4%,#ffffe5 94.2%,#ffffed 98.1%)"></div>
<div class="fb" style="left:254.8px;top:229.15px;width:181.4px;height:8.15px;background:linear-gradient(90deg,#b5661a 1.9%,#7e2304 5.8%,#fed852 9.6%,#540400 13.5%,#fedd62 17.3%,#e1650c 21.2%,#2d0000 25.0%,#f67c07 28.8%,#ffffc2 32.7%,#ffef3e 36.5%,#ec2600 40.4%,#560000 44.2%,#100000 48.1%,#2b0000 51.9%,#830000 55.8%,#e80500 59.6%,#ff5400 63.5%,#ffaa00 67.3%,#ffed02 71.2%,#ffff35 75.0%,#ffff6f 78.8%,#ffff99 82.7%,#ffffb7 86.5%,#ffffcd 90.4%,#ffffdc 94.2%,#ffffe7 98.1%)"></div>
<div class="fb" style="left:254.8px;top:236.90px;width:181.4px;height:8.15px;background:linear-gradient(90deg,#ce892e 1.9%,#efb745 5.8%,#872805 9.6%,#eca63e 13.5%,#7f1800 17.3%,#fffb90 21.2%,#9c1900 25.0%,#650200 28.8%,#ffd32e 32.7%,#ffffd0 36.5%,#ffc610 40.4%,#d30900 44.2%,#3b0000 48.1%,#0e0000 51.9%,#410000 55.8%,#a30000 59.6%,#fa1400 63.5%,#ff7000 67.3%,#ffc000 71.2%,#fffa09 75.0%,#ffff49 78.8%,#ffff7d 82.7%,#ffffa3 86.5%,#ffffbf 90.4%,#ffffd3 94.2%,#ffffe0 98.1%)"></div>
<div class="fb" style="left:254.8px;top:244.65px;width:181.4px;height:8.15px;background:linear-gradient(90deg,#a6531c 1.9%,#8d2b05 5.8%,#c57b35 9.6%,#edaf54 13.5%,#872402 17.3%,#ed9429 21.2%,#fec94a 25.0%,#310000 28.8%,#d52e00 32.7%,#fffea4 36.5%,#ffff92 40.4%,#ff7700 44.2%,#940000 48.1%,#190000 51.9%,#1a0000 55.8%,#670000 59.6%,#cf0000 63.5%,#ff3a00 67.3%,#ff9400 71.2%,#ffdd00 75.0%,#ffff22 78.8%,#ffff61 82.7%,#ffff8f 86.5%,#ffffb0 90.4%,#ffffc8 94.2%,#ffffd9 98.1%)"></div>
<div class="fb" style="left:254.8px;top:252.40px;width:181.4px;height:8.15px;background:linear-gradient(90deg,#d19148 1.9%,#e7ab55 5.8%,#dfa658 9.6%,#761401 13.5%,#fcd474 17.3%,#600800 21.2%,#fffbaf 25.0%,#c33602 28.8%,#480000 32.7%,#ffbd1d 36.5%,#ffffeb 40.4%,#ffef2e 44.2%,#ec2200 48.1%,#4a0000 51.9%,#0e0000 55.8%,#380000 59.6%,#960000 63.5%,#f60c00 67.3%,#ff6600 71.2%,#ffb900 75.0%,#fff605 78.8%,#ffff42 82.7%,#ffff78 86.5%,#ffffa0 90.4%,#ffffbc 94.2%,#ffffd1 98.1%)"></div>
<div class="fb" style="left:254.8px;top:260.15px;width:181.4px;height:8.15px;background:linear-gradient(90deg,#b15f28 1.9%,#a44b19 5.8%,#91330c 9.6%,#d8944d 13.5%,#e29c4f 17.3%,#9c3807 21.2%,#e48221 25.0%,#ffdc67 28.8%,#3d0000 32.7%,#c92400 36.5%,#fffe9f 40.4%,#ffffc0 44.2%,#ff9e03 48.1%,#a00000 51.9%,#1d0000 55.8%,#180000 59.6%,#610000 63.5%,#ca0000 67.3%,#ff3400 71.2%,#ff9000 75.0%,#ffda00 78.8%,#ffff1f 82.7%,#ffff5e 86.5%,#ffff8d 90.4%,#ffffae 94.2%,#ffffc7 98.1%)"></div>
<div class="fb" style="left:254.8px;top:267.90px;width:181.4px;height:8.15px;background:linear-gradient(90deg,#c67e35 1.9%,#d59241 5.8%,#ecae51 9.6%,#dfa557 13.5%,#731000 17.3%,#fdd876 21.2%,#5d0600 25.0%,#fffcb4 28.8%,#c53601 32.7%,#450000 36.5%,#ffbd1c 40.4%,#fffff2 44.2%,#fff343 48.1%,#ed2200 51.9%,#4a0000 55.8%,#0d0000 59.6%,#380000 63.5%,#960000 67.3%,#f60c00 71.2%,#ff6600 75.0%,#ffb800 78.8%,#fff605 82.7%,#ffff42 86.5%,#ffff78 90.4%,#ffffa0 94.2%,#ffffbc 98.1%)"></div>
<div class="fb" style="left:254.8px;top:275.65px;width:181.4px;height:8.15px;background:linear-gradient(90deg,#b86a22 1.9%,#af5e21 5.8%,#a65821 9.6%,#8c2302 13.5%,#b96c29 17.3%,#f6bf64 21.2%,#791700 25.0%,#f6a436 28.8%,#febf3d 32.7%,#280000 36.5%,#e03a00 40.4%,#ffffa9 44.2%,#ffffb0 48.1%,#ff7f00 51.9%,#8b0000 55.8%,#170000 59.6%,#1d0000 63.5%,#6b0000 67.3%,#d50000 71.2%,#ff3f00 75.0%,#ff9900 78.8%,#ffe100 82.7%,#ffff26 86.5%,#ffff64 90.4%,#ffff91 94.2%,#ffffb1 98.1%)"></div>
<div class="fb" style="left:254.8px;top:283.40px;width:181.4px;height:8.15px;background:linear-gradient(90deg,#bb6d1e 1.9%,#bd7524 5.8%,#ac6723 9.6%,#c07f30 13.5%,#fccd53 17.3%,#923707 21.2%,#e79134 25.0%,#962300 28.8%,#fffda2 32.7%,#880a00 36.5%,#7c0200 40.4%,#ffe22c 44.2%,#ffffe3 48.1%,#ffd817 51.9%,#d20900 55.8%,#320000 59.6%,#0f0000 63.5%,#480000 67.3%,#ab0000 71.2%,#fd1900 75.0%,#ff7800 78.8%,#ffc700 82.7%,#fffc0d 86.5%,#ffff4e 90.4%,#ffff81 94.2%,#ffffa6 98.1%)"></div>
<div class="fb" style="left:254.8px;top:291.15px;width:181.4px;height:8.15px;background:linear-gradient(90deg,#b86a1a 1.9%,#b86e20 5.8%,#ce8a2d 9.6%,#db9d3a 13.5%,#ad6421 17.3%,#781b01 21.2%,#ffef70 25.0%,#460000 28.8%,#ffe877 32.7%,#e96908 36.5%,#270000 40.4%,#fa6900 44.2%,#ffffc7 48.1%,#fffd69 51.9%,#fa4000 55.8%,#610000 59.6%,#0f0000 63.5%,#2b0000 67.3%,#830000 71.2%,#eb0400 75.0%,#ff5500 78.8%,#ffab00 82.7%,#ffee01 86.5%,#ffff36 90.4%,#ffff6f 94.2%,#ffff9a 98.1%)"></div>
<div class="fb" style="left:254.8px;top:298.90px;width:181.4px;height:8.15px;background:linear-gradient(90deg,#c2782d 1.9%,#b96d28 5.8%,#ad5619 9.6%,#a03f0c 13.5%,#8c2907 17.3%,#da9343 21.2%,#e29740 25.0%,#9c3404 28.8%,#e47c17 32.7%,#ffdc5c 36.5%,#390000 40.4%,#bc0d00 44.2%,#fff86a 48.1%,#ffffc6 51.9%,#ff9d01 55.8%,#a00000 59.6%,#1d0000 63.5%,#170000 67.3%,#600000 71.2%,#c80000 75.0%,#ff3300 78.8%,#ff8e00 82.7%,#ffd900 86.5%,#ffff1d 90.4%,#ffff5d 94.2%,#ffff8c 98.1%)"></div>
<div class="fb" style="left:254.8px;top:306.65px;width:181.4px;height:8.15px;background:linear-gradient(90deg,#b06022 1.9%,#c0752b 5.8%,#c78134 9.6%,#b77b39 13.5%,#d09346 17.3%,#fbd167 21.2%,#862903 25.0%,#f3a64c 28.8%,#871800 32.7%,#ffffb8 36.5%,#981000 40.4%,#550000 44.2%,#ffc31d 48.1%,#fffff0 51.9%,#ffe321 55.8%,#db0d00 59.6%,#380000 63.5%,#0e0000 67.3%,#440000 71.2%,#a60000 75.0%,#fc1500 78.8%,#ff7300 82.7%,#ffc300 86.5%,#fffb0a 90.4%,#ffff4b 94.2%,#ffff7f 98.1%)"></div>
<div class="fb" style="left:254.8px;top:314.40px;width:181.4px;height:8.15px;background:linear-gradient(90deg,#c77c26 1.9%,#bd6f20 5.8%,#b97123 9.6%,#d79032 13.5%,#e6a742 17.3%,#b7712b 21.2%,#711200 25.0%,#fff073 28.8%,#450000 32.7%,#fff28c 36.5%,#e45d05 40.4%,#1d0000 44.2%,#f46101 48.1%,#ffffd2 51.9%,#fffc62 55.8%,#f93900 59.6%,#5d0000 63.5%,#0e0000 67.3%,#2d0000 71.2%,#860000 75.0%,#ed0400 78.8%,#ff5800 82.7%,#ffad00 86.5%,#fff001 90.4%,#ffff38 94.2%,#ffff70 98.1%)"></div>
<div class="fb" style="left:254.8px;top:322.15px;width:181.4px;height:8.15px;background:linear-gradient(90deg,#ab5e25 1.9%,#bb6f2e 5.8%,#b97031 9.6%,#af5d23 13.5%,#a4521f 17.3%,#8d2302 21.2%,#c17635 25.0%,#f3b867 28.8%,#7f1c00 32.7%,#f39f34 36.5%,#fdc748 40.4%,#2f0000 44.2%,#bb1700 48.1%,#fefc8b 51.9%,#fefeba 55.8%,#fe8800 59.6%,#900000 63.5%,#180000 67.3%,#1b0000 71.2%,#670000 75.0%,#d00000 78.8%,#fe3b00 82.7%,#fe9500 86.5%,#fedd00 90.4%,#fefe23 94.2%,#fefe61 98.1%)"></div>
<div class="fb" style="left:437.3px;top:174.90px;width:181.4px;height:8.15px;background:linear-gradient(90deg,#f4bb48 1.9%,#fffc97 5.8%,#ffffa1 9.6%,#fff257 13.5%,#ffc114 17.3%,#fe6e00 21.2%,#f02700 25.0%,#cc0500 28.8%,#9b0000 32.7%,#720000 36.5%,#540000 40.4%,#3e0000 44.2%,#2f0000 48.1%,#240000 51.9%,#1c0000 55.8%,#160000 59.6%,#120000 63.5%,#100000 67.3%,#0e0000 71.2%,#0c0000 75.0%,#0c0000 78.8%,#0b0000 82.7%,#0b0000 86.5%,#0b0000 90.4%,#0b0000 94.2%,#0b0000 98.1%)"></div>
<div class="fb" style="left:437.3px;top:182.65px;width:181.4px;height:8.15px;background:linear-gradient(90deg,#520500 1.9%,#680500 5.8%,#e76404 9.6%,#ffea55 13.5%,#ffffc4 17.3%,#ffffaf 21.2%,#fff846 25.0%,#ffbf05 28.8%,#ff6000 32.7%,#f31700 36.5%,#c60000 40.4%,#920000 44.2%,#6b0000 48.1%,#4f0000 51.9%,#3b0000 55.8%,#2c0000 59.6%,#220000 63.5%,#1a0000 67.3%,#150000 71.2%,#120000 75.0%,#0f0000 78.8%,#0d0000 82.7%,#0c0000 86.5%,#0b0000 90.4%,#0b0000 94.2%,#0b0000 98.1%)"></div>
<div class="fb" style="left:437.3px;top:190.40px;width:181.4px;height:8.15px;background:linear-gradient(90deg,#f5d768 1.9%,#ea9435 5.8%,#600800 9.6%,#570100 13.5%,#e25302 17.3%,#ffe74c 21.2%,#ffffcd 25.0%,#ffffc5 28.8%,#fffc59 32.7%,#ffcd07 36.5%,#ff6d00 40.4%,#f81c00 44.2%,#cd0000 48.1%,#980000 51.9%,#700000 55.8%,#520000 59.6%,#3d0000 63.5%,#2e0000 67.3%,#230000 71.2%,#1b0000 75.0%,#160000 78.8%,#120000 82.7%,#0f0000 86.5%,#0d0000 90.4%,#0c0000 94.2%,#0b0000 98.1%)"></div>
<div class="fb" style="left:437.3px;top:198.15px;width:181.4px;height:8.15px;background:linear-gradient(90deg,#7b2505 1.9%,#c36519 5.8%,#fff892 9.6%,#d65b0c 13.5%,#300000 17.3%,#830500 21.2%,#fb8806 25.0%,#fffc7f 28.8%,#ffffe7 32.7%,#ffffb5 36.5%,#fffa38 40.4%,#ffb500 44.2%,#ff5300 48.1%,#f30c00 51.9%,#bd0000 55.8%,#8b0000 59.6%,#660000 63.5%,#4b0000 67.3%,#380000 71.2%,#2a0000 75.0%,#210000 78.8%,#1a0000 82.7%,#150000 86.5%,#110000 90.4%,#0f0000 94.2%,#0d0000 98.1%)"></div>
<div class="fb" style="left:437.3px;top:205.90px;width:181.4px;height:8.15px;background:linear-gradient(90deg,#d69b46 1.9%,#c36723 5.8%,#821d01 9.6%,#ffef92 13.5%,#faab2f 17.3%,#5a0200 21.2%,#450000 25.0%,#ed4400 28.8%,#fff247 32.7%,#ffffe1 36.5%,#ffffda 40.4%,#ffff67 44.2%,#ffd804 48.1%,#ff7400 51.9%,#fd1c00 55.8%,#d10000 59.6%,#9a0000 63.5%,#710000 67.3%,#530000 71.2%,#3e0000 75.0%,#2e0000 78.8%,#240000 82.7%,#1c0000 86.5%,#160000 90.4%,#120000 94.2%,#0f0000 98.1%)"></div>
<div class="fb" style="left:437.3px;top:213.65px;width:181.4px;height:8.15px;background:linear-gradient(90deg,#a8551e 1.9%,#e19b42 5.8%,#d36e1f 9.6%,#760f00 13.5%,#fff59b 17.3%,#febb2d 21.2%,#5c0100 25.0%,#3c0000 28.8%,#f03a00 32.7%,#fff541 36.5%,#ffffe6 40.4%,#ffffe1 44.2%,#ffff6e 48.1%,#ffdd03 51.9%,#ff7700 55.8%,#fe1e00 59.6%,#d30000 63.5%,#9c0000 67.3%,#720000 71.2%,#540000 75.0%,#3e0000 78.8%,#2f0000 82.7%,#240000 86.5%,#1c0000 90.4%,#160000 94.2%,#110000 98.1%)"></div>
<div class="fb" style="left:437.3px;top:221.40px;width:181.4px;height:8.15px;background:linear-gradient(90deg,#b97331 1.9%,#913a11 5.8%,#f2c064 9.6%,#b5490f 13.5%,#9a2301 17.3%,#fffcb8 21.2%,#fa9919 25.0%,#420000 28.8%,#510000 32.7%,#f85600 36.5%,#fffb5c 40.4%,#fffff0 44.2%,#ffffd9 48.1%,#ffff5d 51.9%,#ffd201 55.8%,#ff6b00 59.6%,#fd1500 63.5%,#cc0000 67.3%,#960000 71.2%,#6e0000 75.0%,#510000 78.8%,#3c0000 82.7%,#2d0000 86.5%,#220000 90.4%,#1b0000 94.2%,#150000 98.1%)"></div>
<div class="fb" style="left:437.3px;top:229.15px;width:181.4px;height:8.15px;background:linear-gradient(90deg,#ca8b3d 1.9%,#e5b158 5.8%,#6e1301 9.6%,#feea8d 13.5%,#7e1a01 17.3%,#ce4f07 21.2%,#ffffcc 25.0%,#ee6005 28.8%,#240000 32.7%,#770000 36.5%,#fe8401 40.4%,#ffff85 44.2%,#fffff8 48.1%,#ffffc7 51.9%,#fffe41 55.8%,#ffbe00 59.6%,#ff5900 63.5%,#f90a00 67.3%,#c00000 71.2%,#8d0000 75.0%,#670000 78.8%,#4c0000 82.7%,#380000 86.5%,#2b0000 90.4%,#210000 94.2%,#190000 98.1%)"></div>
<div class="fb" style="left:437.3px;top:236.90px;width:181.4px;height:8.15px;background:linear-gradient(90deg,#9a4617 1.9%,#933b13 5.8%,#face6a 9.6%,#832303 13.5%,#fee27e 17.3%,#3e0100 21.2%,#f9ac2e 25.0%,#fffa97 28.8%,#bd1900 32.7%,#170000 36.5%,#b80700 40.4%,#ffc70a 44.2%,#ffffbb 48.1%,#fffff6 51.9%,#ffffa4 55.8%,#fff81a 59.6%,#ff9f00 63.5%,#ff3e00 67.3%,#ec0200 71.2%,#af0000 75.0%,#810000 78.8%,#5e0000 82.7%,#460000 86.5%,#340000 90.4%,#270000 94.2%,#1e0000 98.1%)"></div>
<div class="fb" style="left:437.3px;top:244.65px;width:181.4px;height:8.15px;background:linear-gradient(90deg,#d99a43 1.9%,#ebb353 5.8%,#a04c16 9.6%,#ac5416 13.5%,#eda445 17.3%,#d66612 21.2%,#790a00 25.0%,#fffba3 28.8%,#ffbb20 32.7%,#530000 36.5%,#3b0000 40.4%,#f63900 44.2%,#fff940 48.1%,#ffffe6 51.9%,#ffffde 55.8%,#ffff69 59.6%,#ffdb01 63.5%,#ff7400 67.3%,#fe1b00 71.2%,#d20000 75.0%,#9a0000 78.8%,#710000 82.7%,#530000 86.5%,#3e0000 90.4%,#2e0000 94.2%,#220000 98.1%)"></div>
<div class="fb" style="left:437.3px;top:252.40px;width:181.4px;height:8.15px;background:linear-gradient(90deg,#a14e1a 1.9%,#983c0e 5.8%,#aa5f24 9.6%,#fcd768 13.5%,#660a00 17.3%,#fff58b 21.2%,#4c0300 25.0%,#ef8111 28.8%,#fffead 32.7%,#d72b00 36.5%,#160000 40.4%,#9d0100 44.2%,#ffac02 48.1%,#ffffa2 51.9%,#fffff3 55.8%,#ffffaf 59.6%,#fffc25 63.5%,#ffaa00 67.3%,#ff4800 71.2%,#f20300 75.0%,#b60000 78.8%,#860000 82.7%,#620000 86.5%,#480000 90.4%,#360000 94.2%,#280000 98.1%)"></div>
<div class="fb" style="left:437.3px;top:260.15px;width:181.4px;height:8.15px;background:linear-gradient(90deg,#c78436 1.9%,#e09e40 5.8%,#e1a84b 9.6%,#933b0c 13.5%,#bc651f 17.3%,#e49032 21.2%,#e07518 25.0%,#690500 28.8%,#fff88e 32.7%,#ffc527 36.5%,#5c0000 40.4%,#350000 44.2%,#f23000 48.1%,#fff736 51.9%,#ffffe2 55.8%,#ffffe1 59.6%,#ffff6f 63.5%,#ffe002 67.3%,#ff7900 71.2%,#ff1f00 75.0%,#d50000 78.8%,#9d0000 82.7%,#730000 86.5%,#550000 90.4%,#3f0000 94.2%,#2e0000 98.1%)"></div>
<div class="fb" style="left:437.3px;top:267.90px;width:181.4px;height:8.15px;background:linear-gradient(90deg,#ad6524 1.9%,#a74f18 5.8%,#96360a 9.6%,#a75c23 13.5%,#fedc68 17.3%,#650900 21.2%,#fff68b 25.0%,#470100 28.8%,#f38712 32.7%,#ffffad 36.5%,#d52600 40.4%,#150000 44.2%,#a20100 48.1%,#ffb102 51.9%,#ffffa7 55.8%,#fffff6 59.6%,#ffffaf 63.5%,#fffc24 67.3%,#ffa900 71.2%,#ff4800 75.0%,#f20300 78.8%,#b50000 82.7%,#850000 86.5%,#620000 90.4%,#480000 94.2%,#340000 98.1%)"></div>
<div class="fb" style="left:437.3px;top:275.65px;width:181.4px;height:8.15px;background:linear-gradient(90deg,#bb7632 1.9%,#d38b3a 5.8%,#df9c45 9.6%,#f7c155 13.5%,#af6321 17.3%,#973d09 21.2%,#f9bb59 25.0%,#c54d06 28.8%,#911000 32.7%,#ffffb9 36.5%,#ffa511 40.4%,#410000 44.2%,#480000 48.1%,#fc4a00 51.9%,#fffd52 55.8%,#ffffee 59.6%,#ffffdb 63.5%,#ffff61 67.3%,#ffd500 71.2%,#ff6e00 75.0%,#fe1600 78.8%,#ce0000 82.7%,#970000 86.5%,#6f0000 90.4%,#520000 94.2%,#3b0000 98.1%)"></div>
<div class="fb" style="left:437.3px;top:283.40px;width:181.4px;height:8.15px;background:linear-gradient(90deg,#b36b2c 1.9%,#b4682b 5.8%,#b36e35 9.6%,#a2531f 13.5%,#821f03 17.3%,#f8c569 21.2%,#9a3704 25.0%,#fed26a 28.8%,#330000 32.7%,#ffce46 36.5%,#fff77a 40.4%,#a50800 44.2%,#190000 48.1%,#cf0c00 51.9%,#ffdc10 55.8%,#ffffcc 59.6%,#fffff5 63.5%,#ffff99 67.3%,#fff510 71.2%,#ff9500 75.0%,#ff3600 78.8%,#e70000 82.7%,#ab0000 86.5%,#7e0000 90.4%,#5c0000 94.2%,#420000 98.1%)"></div>
<div class="fb" style="left:437.3px;top:291.15px;width:181.4px;height:8.15px;background:linear-gradient(90deg,#bd7838 1.9%,#bf7a37 5.8%,#af6932 9.6%,#a65f2d 13.5%,#dc9e54 17.3%,#efb768 21.2%,#600700 25.0%,#fff69f 28.8%,#7c1000 32.7%,#d54d02 36.5%,#ffffdb 40.4%,#f25901 44.2%,#1f0000 48.1%,#780000 51.9%,#ff8800 55.8%,#ffff8a 59.6%,#fffffa 63.5%,#ffffc8 67.3%,#ffff3f 71.2%,#ffbe00 75.0%,#ff5900 78.8%,#fa0900 82.7%,#c00000 86.5%,#8d0000 90.4%,#680000 94.2%,#4a0000 98.1%)"></div>
<div class="fb" style="left:437.3px;top:298.90px;width:181.4px;height:8.15px;background:linear-gradient(90deg,#ac6229 1.9%,#be7635 5.8%,#cc8a3d 9.6%,#e8a44a 13.5%,#e1a958 17.3%,#8e3709 21.2%,#c16b24 25.0%,#e69037 28.8%,#e57c1d 32.7%,#670300 36.5%,#fffa9a 40.4%,#ffcc2c 44.2%,#5e0000 48.1%,#330000 51.9%,#f33000 55.8%,#fff838 59.6%,#ffffe8 63.5%,#ffffe7 67.3%,#ffff75 71.2%,#ffe302 75.0%,#ff7b00 78.8%,#ff2000 82.7%,#d60000 86.5%,#9e0000 90.4%,#740000 94.2%,#530000 98.1%)"></div>
<div class="fb" style="left:437.3px;top:306.65px;width:181.4px;height:8.15px;background:linear-gradient(90deg,#c18439 1.9%,#b76b2b 5.8%,#b46323 9.6%,#aa5b27 13.5%,#99400f 17.3%,#842905 21.2%,#fed56b 25.0%,#882300 28.8%,#ffdf72 32.7%,#2e0000 36.5%,#ffc135 40.4%,#fffc8a 44.2%,#b40c00 48.1%,#150000 51.9%,#c50600 55.8%,#ffd30a 59.6%,#ffffc2 63.5%,#fffff5 67.3%,#ffff9f 71.2%,#fff814 75.0%,#ff9a00 78.8%,#ff3b00 82.7%,#eb0100 86.5%,#ae0000 90.4%,#800000 94.2%,#5b0000 98.1%)"></div>
<div class="fb" style="left:437.3px;top:314.40px;width:181.4px;height:8.15px;background:linear-gradient(90deg,#a75e24 1.9%,#c37c36 5.8%,#be7935 9.6%,#ab602d 13.5%,#a05424 17.3%,#d3934f 21.2%,#f5c26d 25.0%,#5b0300 28.8%,#fffaa2 32.7%,#700900 36.5%,#de5803 40.4%,#ffffda 44.2%,#ef4e00 48.1%,#1b0000 51.9%,#7f0000 55.8%,#ff9000 59.6%,#ffff90 63.5%,#fffffb 67.3%,#ffffc4 71.2%,#ffff3b 75.0%,#ffba00 78.8%,#ff5600 82.7%,#f90800 86.5%,#be0000 90.4%,#8c0000 94.2%,#650000 98.1%)"></div>
<div class="fb" style="left:437.3px;top:322.15px;width:181.4px;height:8.15px;background:linear-gradient(90deg,#c07d34 1.9%,#b76a26 5.8%,#bc762f 9.6%,#d68a3b 13.5%,#e7a143 17.3%,#f4bc50 21.2%,#a45616 25.0%,#a0470c 28.8%,#f5b052 32.7%,#ce5809 36.5%,#850b00 40.4%,#fefdb3 44.2%,#feb116 48.1%,#480000 51.9%,#400000 55.8%,#f94000 59.6%,#fefb47 63.5%,#fefeea 67.3%,#fefedc 71.2%,#fefe66 75.0%,#fed800 78.8%,#fe7200 82.7%,#fd1900 86.5%,#cf0000 90.4%,#990000 94.2%,#6e0000 98.1%)"></div>
<div class="fb" style="left:620.9px;top:17.9px;width:14.9px;height:312px;background:linear-gradient(0deg,#0b0000,#ff0000 36.5%,#ffff00 74.6%,#fff);box-shadow:inset 0 0 0 1px rgba(0,0,0,.55)"></div>
<div class="fb" style="left:72.1px;top:455.80px;width:181.4px;height:8.20px;background:linear-gradient(90deg,#220000 1.9%,#230000 5.8%,#210000 9.6%,#1d0000 13.5%,#190000 17.3%,#150000 21.2%,#120000 25.0%,#100000 28.8%,#0e0000 32.7%,#0c0000 36.5%,#0c0000 40.4%,#0b0000 44.2%,#0b0000 48.1%,#0b0000 51.9%,#0b0000 55.8%,#0b0000 59.6%,#0b0000 63.5%,#0b0000 67.3%,#0b0000 71.2%,#0b0000 75.0%,#0b0000 78.8%,#0b0000 82.7%,#0b0000 86.5%,#0b0000 90.4%,#0b0000 94.2%,#0a0000 98.1%)"></div>
<div class="fb" style="left:72.1px;top:463.60px;width:181.4px;height:8.20px;background:linear-gradient(90deg,#0c0000 1.9%,#100000 5.8%,#170000 9.6%,#1d0000 13.5%,#1e0000 17.3%,#1d0000 21.2%,#190000 25.0%,#160000 28.8%,#130000 32.7%,#110000 36.5%,#0f0000 40.4%,#0d0000 44.2%,#0c0000 48.1%,#0b0000 51.9%,#0b0000 55.8%,#0b0000 59.6%,#0b0000 63.5%,#0b0000 67.3%,#0b0000 71.2%,#0b0000 75.0%,#0b0000 78.8%,#0b0000 82.7%,#0b0000 86.5%,#0b0000 90.4%,#0b0000 94.2%,#0a0000 98.1%)"></div>
<div class="fb" style="left:72.1px;top:471.40px;width:181.4px;height:8.20px;background:linear-gradient(90deg,#200000 1.9%,#160000 5.8%,#0d0000 9.6%,#0c0000 13.5%,#0f0000 17.3%,#140000 21.2%,#160000 25.0%,#170000 28.8%,#150000 32.7%,#130000 36.5%,#120000 40.4%,#100000 44.2%,#0e0000 48.1%,#0d0000 51.9%,#0c0000 55.8%,#0b0000 59.6%,#0b0000 63.5%,#0b0000 67.3%,#0b0000 71.2%,#0b0000 75.0%,#0b0000 78.8%,#0b0000 82.7%,#0b0000 86.5%,#0b0000 90.4%,#0b0000 94.2%,#0a0000 98.1%)"></div>
<div class="fb" style="left:72.1px;top:479.20px;width:181.4px;height:8.20px;background:linear-gradient(90deg,#0e0000 1.9%,#140000 5.8%,#1a0000 9.6%,#130000 13.5%,#0c0000 17.3%,#0b0000 21.2%,#0d0000 25.0%,#100000 28.8%,#110000 32.7%,#120000 36.5%,#120000 40.4%,#100000 44.2%,#100000 48.1%,#0e0000 51.9%,#0d0000 55.8%,#0d0000 59.6%,#0b0000 63.5%,#0b0000 67.3%,#0b0000 71.2%,#0b0000 75.0%,#0b0000 78.8%,#0b0000 82.7%,#0b0000 86.5%,#0b0000 90.4%,#0b0000 94.2%,#0a0000 98.1%)"></div>
<div class="fb" style="left:72.1px;top:487.00px;width:181.4px;height:8.20px;background:linear-gradient(90deg,#1b0000 1.9%,#120000 5.8%,#0d0000 9.6%,#150000 13.5%,#150000 17.3%,#0f0000 21.2%,#0b0000 25.0%,#0b0000 28.8%,#0c0000 32.7%,#0e0000 36.5%,#0f0000 40.4%,#100000 44.2%,#100000 48.1%,#0d0000 51.9%,#0d0000 55.8%,#0d0000 59.6%,#0c0000 63.5%,#0b0000 67.3%,#0b0000 71.2%,#0b0000 75.0%,#0b0000 78.8%,#0b0000 82.7%,#0b0000 86.5%,#0b0000 90.4%,#0b0000 94.2%,#0a0000 98.1%)"></div>
<div class="fb" style="left:72.1px;top:494.80px;width:181.4px;height:8.20px;background:linear-gradient(90deg,#140000 1.9%,#140000 5.8%,#120000 9.6%,#0c0000 13.5%,#100000 17.3%,#120000 21.2%,#100000 25.0%,#0d0000 28.8%,#0b0000 32.7%,#0b0000 36.5%,#0b0000 40.4%,#0c0000 44.2%,#0d0000 48.1%,#0d0000 51.9%,#0d0000 55.8%,#0d0000 59.6%,#0b0000 63.5%,#0b0000 67.3%,#0b0000 71.2%,#0b0000 75.0%,#0b0000 78.8%,#0b0000 82.7%,#0b0000 86.5%,#0b0000 90.4%,#0b0000 94.2%,#0a0000 98.1%)"></div>
<div class="fb" style="left:72.1px;top:502.60px;width:181.4px;height:8.20px;background:linear-gradient(90deg,#160000 1.9%,#0f0000 5.8%,#120000 9.6%,#100000 13.5%,#0c0000 17.3%,#0e0000 21.2%,#100000 25.0%,#100000 28.8%,#0e0000 32.7%,#0b0000 36.5%,#0b0000 40.4%,#0b0000 44.2%,#0b0000 48.1%,#0b0000 51.9%,#0b0000 55.8%,#0b0000 59.6%,#0b0000 63.5%,#0b0000 67.3%,#0b0000 71.2%,#0b0000 75.0%,#0b0000 78.8%,#0b0000 82.7%,#0b0000 86.5%,#0b0000 90.4%,#0b0000 94.2%,#0a0000 98.1%)"></div>
<div class="fb" style="left:72.1px;top:510.40px;width:181.4px;height:8.20px;background:linear-gradient(90deg,#150000 1.9%,#140000 5.8%,#0d0000 9.6%,#100000 13.5%,#0d0000 17.3%,#0e0000 21.2%,#0c0000 25.0%,#0e0000 28.8%,#100000 32.7%,#0f0000 36.5%,#0d0000 40.4%,#0b0000 44.2%,#0b0000 48.1%,#0b0000 51.9%,#0b0000 55.8%,#0b0000 59.6%,#0b0000 63.5%,#0b0000 67.3%,#0b0000 71.2%,#0b0000 75.0%,#0b0000 78.8%,#0b0000 82.7%,#0b0000 86.5%,#0b0000 90.4%,#0b0000 94.2%,#0a0000 98.1%)"></div>
<div class="fb" style="left:72.1px;top:518.20px;width:181.4px;height:8.20px;background:linear-gradient(90deg,#110000 1.9%,#0e0000 5.8%,#110000 9.6%,#0f0000 13.5%,#0e0000 17.3%,#0f0000 21.2%,#100000 25.0%,#0b0000 28.8%,#0c0000 32.7%,#100000 36.5%,#100000 40.4%,#0e0000 44.2%,#0c0000 48.1%,#0b0000 51.9%,#0b0000 55.8%,#0b0000 59.6%,#0b0000 63.5%,#0b0000 67.3%,#0b0000 71.2%,#0b0000 75.0%,#0b0000 78.8%,#0b0000 82.7%,#0b0000 86.5%,#0b0000 90.4%,#0b0000 94.2%,#0a0000 98.1%)"></div>
<div class="fb" style="left:72.1px;top:526.00px;width:181.4px;height:8.20px;background:linear-gradient(90deg,#130000 1.9%,#130000 5.8%,#120000 9.6%,#0d0000 13.5%,#140000 17.3%,#0c0000 21.2%,#120000 25.0%,#110000 28.8%,#0b0000 32.7%,#0c0000 36.5%,#100000 40.4%,#120000 44.2%,#100000 48.1%,#0d0000 51.9%,#0c0000 55.8%,#0b0000 59.6%,#0b0000 63.5%,#0b0000 67.3%,#0b0000 71.2%,#0b0000 75.0%,#0b0000 78.8%,#0b0000 82.7%,#0b0000 86.5%,#0b0000 90.4%,#0b0000 94.2%,#0a0000 98.1%)"></div>
<div class="fb" style="left:72.1px;top:533.80px;width:181.4px;height:8.20px;background:linear-gradient(90deg,#110000 1.9%,#100000 5.8%,#0f0000 9.6%,#160000 13.5%,#0f0000 17.3%,#140000 21.2%,#0c0000 25.0%,#160000 28.8%,#120000 32.7%,#0b0000 36.5%,#0b0000 40.4%,#0e0000 44.2%,#100000 48.1%,#100000 51.9%,#0d0000 55.8%,#0c0000 59.6%,#0b0000 63.5%,#0b0000 67.3%,#0b0000 71.2%,#0b0000 75.0%,#0b0000 78.8%,#0b0000 82.7%,#0b0000 86.5%,#0b0000 90.4%,#0b0000 94.2%,#0a0000 98.1%)"></div>
<div class="fb" style="left:72.1px;top:541.60px;width:181.4px;height:8.20px;background:linear-gradient(90deg,#160000 1.9%,#170000 5.8%,#180000 9.6%,#120000 13.5%,#0f0000 17.3%,#180000 21.2%,#0f0000 25.0%,#0e0000 28.8%,#170000 32.7%,#100000 36.5%,#0b0000 40.4%,#0b0000 44.2%,#0d0000 48.1%,#0e0000 51.9%,#0d0000 55.8%,#0d0000 59.6%,#0b0000 63.5%,#0b0000 67.3%,#0b0000 71.2%,#0b0000 75.0%,#0b0000 78.8%,#0b0000 82.7%,#0b0000 86.5%,#0b0000 90.4%,#0b0000 94.2%,#0a0000 98.1%)"></div>
<div class="fb" style="left:72.1px;top:549.40px;width:181.4px;height:8.20px;background:linear-gradient(90deg,#150000 1.9%,#130000 5.8%,#110000 9.6%,#110000 13.5%,#1b0000 17.3%,#0d0000 21.2%,#180000 25.0%,#0c0000 28.8%,#100000 32.7%,#150000 36.5%,#0e0000 40.4%,#0b0000 44.2%,#0b0000 48.1%,#0c0000 51.9%,#0d0000 55.8%,#0d0000 59.6%,#0d0000 63.5%,#0b0000 67.3%,#0b0000 71.2%,#0b0000 75.0%,#0b0000 78.8%,#0b0000 82.7%,#0b0000 86.5%,#0b0000 90.4%,#0b0000 94.2%,#0a0000 98.1%)"></div>
<div class="fb" style="left:72.1px;top:557.20px;width:181.4px;height:8.20px;background:linear-gradient(90deg,#160000 1.9%,#170000 5.8%,#170000 9.6%,#190000 13.5%,#100000 17.3%,#110000 21.2%,#120000 25.0%,#120000 28.8%,#0b0000 32.7%,#110000 36.5%,#120000 40.4%,#0d0000 44.2%,#0b0000 48.1%,#0b0000 51.9%,#0b0000 55.8%,#0b0000 59.6%,#0b0000 63.5%,#0b0000 67.3%,#0b0000 71.2%,#0b0000 75.0%,#0b0000 78.8%,#0b0000 82.7%,#0b0000 86.5%,#0b0000 90.4%,#0b0000 94.2%,#0a0000 98.1%)"></div>
<div class="fb" style="left:72.1px;top:565.00px;width:181.4px;height:8.20px;background:linear-gradient(90deg,#150000 1.9%,#130000 5.8%,#110000 9.6%,#0e0000 13.5%,#0f0000 17.3%,#150000 21.2%,#0c0000 25.0%,#130000 28.8%,#0e0000 32.7%,#0b0000 36.5%,#0f0000 40.4%,#100000 44.2%,#0c0000 48.1%,#0b0000 51.9%,#0b0000 55.8%,#0b0000 59.6%,#0b0000 63.5%,#0b0000 67.3%,#0b0000 71.2%,#0b0000 75.0%,#0b0000 78.8%,#0b0000 82.7%,#0b0000 86.5%,#0b0000 90.4%,#0b0000 94.2%,#0a0000 98.1%)"></div>
<div class="fb" style="left:72.1px;top:572.80px;width:181.4px;height:8.20px;background:linear-gradient(90deg,#150000 1.9%,#130000 5.8%,#110000 9.6%,#110000 13.5%,#110000 17.3%,#0d0000 21.2%,#100000 25.0%,#0c0000 28.8%,#100000 32.7%,#0c0000 36.5%,#0b0000 40.4%,#0d0000 44.2%,#0d0000 48.1%,#0c0000 51.9%,#0b0000 55.8%,#0b0000 59.6%,#0b0000 63.5%,#0b0000 67.3%,#0b0000 71.2%,#0b0000 75.0%,#0b0000 78.8%,#0b0000 82.7%,#0b0000 86.5%,#0b0000 90.4%,#0b0000 94.2%,#0a0000 98.1%)"></div>
<div class="fb" style="left:72.1px;top:580.60px;width:181.4px;height:8.20px;background:linear-gradient(90deg,#120000 1.9%,#100000 5.8%,#0f0000 9.6%,#0f0000 13.5%,#0e0000 17.3%,#100000 21.2%,#0e0000 25.0%,#0e0000 28.8%,#0c0000 32.7%,#100000 36.5%,#0d0000 40.4%,#0b0000 44.2%,#0c0000 48.1%,#0d0000 51.9%,#0c0000 55.8%,#0b0000 59.6%,#0b0000 63.5%,#0b0000 67.3%,#0b0000 71.2%,#0b0000 75.0%,#0b0000 78.8%,#0b0000 82.7%,#0b0000 86.5%,#0b0000 90.4%,#0b0000 94.2%,#0a0000 98.1%)"></div>
<div class="fb" style="left:72.1px;top:588.40px;width:181.4px;height:8.20px;background:linear-gradient(90deg,#170000 1.9%,#160000 5.8%,#130000 9.6%,#140000 13.5%,#100000 17.3%,#0e0000 21.2%,#150000 25.0%,#0e0000 28.8%,#170000 32.7%,#0c0000 36.5%,#0d0000 40.4%,#0e0000 44.2%,#0b0000 48.1%,#0b0000 51.9%,#0b0000 55.8%,#0b0000 59.6%,#0b0000 63.5%,#0b0000 67.3%,#0b0000 71.2%,#0b0000 75.0%,#0b0000 78.8%,#0b0000 82.7%,#0b0000 86.5%,#0b0000 90.4%,#0b0000 94.2%,#0a0000 98.1%)"></div>
<div class="fb" style="left:72.1px;top:596.20px;width:181.4px;height:8.20px;background:linear-gradient(90deg,#170000 1.9%,#140000 5.8%,#130000 9.6%,#0f0000 13.5%,#0d0000 17.3%,#100000 21.2%,#0f0000 25.0%,#0f0000 28.8%,#0d0000 32.7%,#0c0000 36.5%,#0c0000 40.4%,#0b0000 44.2%,#0b0000 48.1%,#0c0000 51.9%,#0c0000 55.8%,#0b0000 59.6%,#0b0000 63.5%,#0b0000 67.3%,#0b0000 71.2%,#0b0000 75.0%,#0b0000 78.8%,#0b0000 82.7%,#0b0000 86.5%,#0b0000 90.4%,#0b0000 94.2%,#0a0000 98.1%)"></div>
<div class="fb" style="left:72.1px;top:604.00px;width:181.4px;height:8.20px;background:linear-gradient(90deg,#140000 1.9%,#140000 5.8%,#140000 9.6%,#120000 13.5%,#140000 17.3%,#190000 21.2%,#110000 25.0%,#0e0000 28.8%,#0f0000 32.7%,#0c0000 36.5%,#0c0000 40.4%,#0f0000 44.2%,#0c0000 48.1%,#0b0000 51.9%,#0b0000 55.8%,#0c0000 59.6%,#0c0000 63.5%,#0c0000 67.3%,#0b0000 71.2%,#0b0000 75.0%,#0b0000 78.8%,#0b0000 82.7%,#0b0000 86.5%,#0b0000 90.4%,#0b0000 94.2%,#0a0000 98.1%)"></div>
<div class="fb" style="left:254.8px;top:455.80px;width:181.4px;height:8.20px;background:linear-gradient(90deg,#6c0a00 1.9%,#2c0000 5.8%,#440000 9.6%,#930300 13.5%,#da2100 17.3%,#fc6000 21.2%,#ffaf01 25.0%,#ffe514 28.8%,#fffc3c 32.7%,#ffff71 36.5%,#ffff9a 40.4%,#ffffb7 44.2%,#ffffcb 48.1%,#ffffdb 51.9%,#ffffe6 55.8%,#ffffee 59.6%,#fffff4 63.5%,#fffff8 67.3%,#fffffa 71.2%,#fffffd 75.0%,#fffffe 78.8%,#ffffff 82.7%,#ffffff 86.5%,#ffffff 90.4%,#ffffff 94.2%,#ffffff 98.1%)"></div>
<div class="fb" style="left:254.8px;top:463.60px;width:181.4px;height:8.20px;background:linear-gradient(90deg,#fffcad 1.9%,#ffcd57 5.8%,#d03f01 9.6%,#560000 13.5%,#1a0000 17.3%,#400000 21.2%,#9a0000 25.0%,#e91900 28.8%,#ff6600 32.7%,#ffb800 36.5%,#ffef0e 40.4%,#ffff3c 44.2%,#ffff70 48.1%,#ffff9a 51.9%,#ffffb8 55.8%,#ffffce 59.6%,#ffffdc 63.5%,#ffffe7 67.3%,#ffffef 71.2%,#fffff4 75.0%,#fffff8 78.8%,#fffffb 82.7%,#fffffc 86.5%,#ffffff 90.4%,#ffffff 94.2%,#ffffff 98.1%)"></div>
<div class="fb" style="left:254.8px;top:471.40px;width:181.4px;height:8.20px;background:linear-gradient(90deg,#660700 1.9%,#d1721e 5.8%,#fff8ab 9.6%,#ffe672 13.5%,#e45504 17.3%,#6b0100 21.2%,#190000 25.0%,#320000 28.8%,#870000 32.7%,#e10f00 36.5%,#ff5500 40.4%,#ffa500 44.2%,#ffe205 48.1%,#fffe2d 51.9%,#ffff67 55.8%,#ffff94 59.6%,#ffffb3 63.5%,#ffffca 67.3%,#ffffda 71.2%,#ffffe6 75.0%,#ffffee 78.8%,#fffff3 82.7%,#fffff8 86.5%,#fffffa 90.4%,#fffffc 94.2%,#fffffe 98.1%)"></div>
<div class="fb" style="left:254.8px;top:479.20px;width:181.4px;height:8.20px;background:linear-gradient(90deg,#fcdd80 1.9%,#b75516 5.8%,#5c0600 9.6%,#f5a22f 13.5%,#ffffcf 17.3%,#ffd63f 21.2%,#d52600 25.0%,#460000 28.8%,#120000 32.7%,#410000 36.5%,#9f0000 40.4%,#f01200 44.2%,#ff5f00 48.1%,#ffb300 51.9%,#fff008 55.8%,#ffff3d 59.6%,#ffff74 63.5%,#ffff9d 67.3%,#ffffba 71.2%,#ffffcf 75.0%,#ffffde 78.8%,#ffffe8 82.7%,#ffffef 86.5%,#fffff5 90.4%,#fffff8 94.2%,#fffffb 98.1%)"></div>
<div class="fb" style="left:254.8px;top:487.00px;width:181.4px;height:8.20px;background:linear-gradient(90deg,#862b0b 1.9%,#e6a550 5.8%,#f2ab4b 9.6%,#420100 13.5%,#d34e04 17.3%,#fffcae 21.2%,#fff985 25.0%,#f75f01 28.8%,#750000 32.7%,#150000 36.5%,#270000 40.4%,#720000 44.2%,#d20200 48.1%,#ff3d00 51.9%,#ff9700 55.8%,#ffdf01 59.6%,#fffe25 63.5%,#ffff62 67.3%,#ffff90 71.2%,#ffffb1 75.0%,#ffffc9 78.8%,#ffffd9 82.7%,#ffffe4 86.5%,#ffffed 90.4%,#fffff3 94.2%,#fffff7 98.1%)"></div>
<div class="fb" style="left:254.8px;top:494.80px;width:181.4px;height:8.20px;background:linear-gradient(90deg,#dba153 1.9%,#963c11 5.8%,#db8833 9.6%,#fcca62 13.5%,#470200 17.3%,#c43001 21.2%,#fff997 25.0%,#fffe9d 28.8%,#fc7502 32.7%,#850000 36.5%,#170000 40.4%,#1c0000 44.2%,#610000 48.1%,#c80000 51.9%,#ff3300 55.8%,#ff8e00 59.6%,#ffd900 63.5%,#fffe1e 67.3%,#ffff5d 71.2%,#ffff8c 75.0%,#ffffae 78.8%,#ffffc6 82.7%,#ffffd8 86.5%,#ffffe3 90.4%,#ffffec 94.2%,#fffff2 98.1%)"></div>
<div class="fb" style="left:254.8px;top:502.60px;width:181.4px;height:8.20px;background:linear-gradient(90deg,#ae5f2a 1.9%,#f3c871 5.8%,#741a02 9.6%,#f3b048 13.5%,#fab23c 17.3%,#2e0000 21.2%,#e04601 25.0%,#ffffb7 28.8%,#fffd80 32.7%,#fb5500 36.5%,#6e0000 40.4%,#130000 44.2%,#1e0000 48.1%,#6d0000 51.9%,#d60100 55.8%,#ff3f00 59.6%,#ff9900 63.5%,#ffe100 67.3%,#ffff26 71.2%,#ffff64 75.0%,#ffff91 78.8%,#ffffb2 82.7%,#ffffc9 86.5%,#ffffda 90.4%,#ffffe5 94.2%,#ffffed 98.1%)"></div>
<div class="fb" style="left:254.8px;top:510.40px;width:181.4px;height:8.20px;background:linear-gradient(90deg,#c07a3c 1.9%,#822507 5.8%,#fedf81 9.6%,#590500 13.5%,#ffe78c 17.3%,#df640f 21.2%,#320000 25.0%,#f98d0c 28.8%,#ffffda 32.7%,#ffef42 36.5%,#ea2500 40.4%,#530000 44.2%,#0f0000 48.1%,#2d0000 51.9%,#860000 55.8%,#eb0600 59.6%,#ff5700 63.5%,#ffad00 67.3%,#ffef02 71.2%,#ffff37 75.0%,#ffff70 78.8%,#ffff9a 82.7%,#ffffb8 86.5%,#ffffce 90.4%,#ffffdd 94.2%,#ffffe7 98.1%)"></div>
<div class="fb" style="left:254.8px;top:518.20px;width:181.4px;height:8.20px;background:linear-gradient(90deg,#cd8d47 1.9%,#f2c069 5.8%,#8e300a 9.6%,#eca850 13.5%,#871f01 17.3%,#fffcac 21.2%,#9a1900 25.0%,#6c0300 28.8%,#ffda39 32.7%,#ffffdc 36.5%,#ffc611 40.4%,#d10800 44.2%,#390000 48.1%,#0e0000 51.9%,#430000 55.8%,#a50000 59.6%,#fa1500 63.5%,#ff7200 67.3%,#ffc200 71.2%,#fffa0a 75.0%,#ffff4a 78.8%,#ffff7e 82.7%,#ffffa4 86.5%,#ffffbf 90.4%,#ffffd3 94.2%,#ffffe0 98.1%)"></div>
<div class="fb" style="left:254.8px;top:526.00px;width:181.4px;height:8.20px;background:linear-gradient(90deg,#a75522 1.9%,#91340b 5.8%,#cc8641 9.6%,#e6a856 13.5%,#912e06 17.3%,#e88c29 21.2%,#fed058 25.0%,#380000 28.8%,#cf2b00 32.7%,#fffea1 36.5%,#ffff9c 40.4%,#ff7f00 44.2%,#990000 48.1%,#1b0000 51.9%,#190000 55.8%,#640000 59.6%,#cd0000 63.5%,#ff3700 67.3%,#ff9200 71.2%,#ffdc00 75.0%,#ffff21 78.8%,#ffff5f 82.7%,#ffff8e 86.5%,#ffffaf 90.4%,#ffffc7 94.2%,#ffffd9 98.1%)"></div>
<div class="fb" style="left:254.8px;top:533.80px;width:181.4px;height:8.20px;background:linear-gradient(90deg,#d59648 1.9%,#e9ad57 5.8%,#d1944e 9.6%,#751300 13.5%,#fee180 17.3%,#550400 21.2%,#fff7a6 25.0%,#d14804 28.8%,#3b0000 32.7%,#feac14 36.5%,#ffffec 40.4%,#fff53c 44.2%,#f22c00 48.1%,#520000 51.9%,#0d0000 55.8%,#330000 59.6%,#900000 63.5%,#f20900 67.3%,#ff6000 71.2%,#ffb400 75.0%,#fff404 78.8%,#ffff3e 82.7%,#ffff75 86.5%,#ffff9e 90.4%,#ffffbb 94.2%,#ffffd0 98.1%)"></div>
<div class="fb" style="left:254.8px;top:541.60px;width:181.4px;height:8.20px;background:linear-gradient(90deg,#b05c25 1.9%,#a24613 5.8%,#91320c 9.6%,#de9c53 13.5%,#df9447 17.3%,#a33d08 21.2%,#e17a1a 25.0%,#ffe26e 28.8%,#400000 32.7%,#c51e00 36.5%,#fffe98 40.4%,#ffffc6 44.2%,#ffa403 48.1%,#a50000 51.9%,#1e0000 55.8%,#160000 59.6%,#5e0000 63.5%,#c70000 67.3%,#ff3100 71.2%,#ff8e00 75.0%,#ffd800 78.8%,#ffff1d 82.7%,#ffff5d 86.5%,#ffff8c 90.4%,#ffffae 94.2%,#ffffc7 98.1%)"></div>
<div class="fb" style="left:254.8px;top:549.40px;width:181.4px;height:8.20px;background:linear-gradient(90deg,#c88240 1.9%,#d59449 5.8%,#ebaf57 9.6%,#e2aa5e 13.5%,#751100 17.3%,#fcd679 21.2%,#5f0700 25.0%,#fffdb9 28.8%,#c43501 32.7%,#470000 36.5%,#ffc01e 40.4%,#fffff3 44.2%,#fff343 48.1%,#ed2100 51.9%,#490000 55.8%,#0d0000 59.6%,#380000 63.5%,#960000 67.3%,#f60c00 71.2%,#ff6600 75.0%,#ffb900 78.8%,#fff705 82.7%,#ffff42 86.5%,#ffff79 90.4%,#ffffa0 94.2%,#ffffbc 98.1%)"></div>
<div class="fb" style="left:254.8px;top:557.20px;width:181.4px;height:8.20px;background:linear-gradient(90deg,#bb7234 1.9%,#b1632b 5.8%,#a85825 9.6%,#8f2a04 13.5%,#c07537 17.3%,#f3ba69 21.2%,#801f01 25.0%,#f3a035 28.8%,#fec74a 32.7%,#2d0000 36.5%,#dc3600 40.4%,#ffffa6 44.2%,#ffffb8 48.1%,#ff8700 51.9%,#900000 55.8%,#180000 59.6%,#1b0000 63.5%,#690000 67.3%,#d20000 71.2%,#ff3c00 75.0%,#ff9600 78.8%,#ffdf00 82.7%,#ffff24 86.5%,#ffff62 90.4%,#ffff90 94.2%,#ffffb1 98.1%)"></div>
<div class="fb" style="left:254.8px;top:565.00px;width:181.4px;height:8.20px;background:linear-gradient(90deg,#c07a3a 1.9%,#c5813f 5.8%,#b87a3f 9.6%,#cf924d 13.5%,#facf6c 17.3%,#892c04 21.2%,#f1a74f 25.0%,#881a00 28.8%,#fffeb9 32.7%,#991200 36.5%,#6d0100 40.4%,#ffda24 44.2%,#ffffeb 48.1%,#ffe121 51.9%,#da0e00 55.8%,#380000 59.6%,#0e0000 63.5%,#430000 67.3%,#a60000 71.2%,#fc1500 75.0%,#ff7300 78.8%,#ffc300 82.7%,#fffb0a 86.5%,#ffff4b 90.4%,#ffff7f 94.2%,#ffffa4 98.1%)"></div>
<div class="fb" style="left:254.8px;top:572.80px;width:181.4px;height:8.20px;background:linear-gradient(90deg,#b87033 1.9%,#bb7337 5.8%,#c78a47 9.6%,#cf9750 13.5%,#a35720 17.3%,#842d07 21.2%,#ffef88 25.0%,#4c0200 28.8%,#ffe075 32.7%,#f17f12 36.5%,#230000 40.4%,#f75800 44.2%,#ffffc3 48.1%,#fffe7d 51.9%,#fc4e00 55.8%,#6a0000 59.6%,#100000 63.5%,#270000 67.3%,#7e0000 71.2%,#e60200 75.0%,#ff5000 78.8%,#ffa700 82.7%,#ffec00 86.5%,#ffff32 90.4%,#ffff6d 94.2%,#ffff98 98.1%)"></div>
<div class="fb" style="left:254.8px;top:580.60px;width:181.4px;height:8.20px;background:linear-gradient(90deg,#c88442 1.9%,#bb7337 5.8%,#b05c22 9.6%,#a23f0c 13.5%,#90340b 17.3%,#e5a156 21.2%,#db8d3e 25.0%,#a84107 28.8%,#de7213 32.7%,#ffe66d 36.5%,#410000 40.4%,#b20900 44.2%,#fff663 48.1%,#ffffd0 51.9%,#ffa702 55.8%,#a70000 59.6%,#1f0000 63.5%,#150000 67.3%,#5d0000 71.2%,#c50000 75.0%,#ff2f00 78.8%,#ff8c00 82.7%,#ffd700 86.5%,#ffff1b 90.4%,#ffff5b 94.2%,#ffff8b 98.1%)"></div>
<div class="fb" style="left:254.8px;top:588.40px;width:181.4px;height:8.20px;background:linear-gradient(90deg,#b2642e 1.9%,#c17c3b 5.8%,#ca843f 9.6%,#bf8344 13.5%,#d99d53 17.3%,#f9cd6e 21.2%,#812302 25.0%,#f5b15a 28.8%,#801400 32.7%,#ffffc1 36.5%,#a11600 40.4%,#4d0000 44.2%,#ffbb19 48.1%,#fffff1 51.9%,#ffe727 55.8%,#df1100 59.6%,#3b0000 63.5%,#0d0000 67.3%,#410000 71.2%,#a20000 75.0%,#fb1300 78.8%,#ff7000 82.7%,#ffc100 86.5%,#fffa08 90.4%,#ffff49 94.2%,#ffff7d 98.1%)"></div>
<div class="fb" style="left:254.8px;top:596.20px;width:181.4px;height:8.20px;background:linear-gradient(90deg,#cc8d47 1.9%,#bc7234 5.8%,#bb7538 9.6%,#cd9149 13.5%,#d9a155 17.3%,#aa6329 21.2%,#7c2102 25.0%,#fff489 28.8%,#470000 32.7%,#ffea85 36.5%,#ed720c 40.4%,#1a0000 44.2%,#ee5200 48.1%,#ffffce 51.9%,#fffe74 55.8%,#fc4600 59.6%,#650000 63.5%,#0f0000 67.3%,#290000 71.2%,#810000 75.0%,#e90300 78.8%,#ff5300 82.7%,#ffa900 86.5%,#ffed00 90.4%,#ffff34 94.2%,#ffff6e 98.1%)"></div>
<div class="fb" style="left:254.8px;top:604.00px;width:181.4px;height:8.20px;background:linear-gradient(90deg,#aa6129 1.9%,#bf7735 5.8%,#b87035 9.6%,#ae591f 13.5%,#a04714 17.3%,#8b2403 21.2%,#cd8645 25.0%,#e9a659 28.8%,#8e2902 32.7%,#ea8c26 36.5%,#fbd258 40.4%,#390000 44.2%,#ad0f00 48.1%,#fbf77a 51.9%,#fbfbc3 55.8%,#fb9301 59.6%,#970000 63.5%,#1a0000 67.3%,#180000 71.2%,#610000 75.0%,#c80000 78.8%,#fb3500 82.7%,#fb8f00 86.5%,#fbd700 90.4%,#fbfb1f 94.2%,#fbfb5d 98.1%)"></div>
<div class="fb" style="left:437.3px;top:455.80px;width:181.4px;height:8.20px;background:linear-gradient(90deg,#f7d35e 1.9%,#ffffa4 5.8%,#fffe8d 9.6%,#ffe740 13.5%,#ffab0a 17.3%,#fc5600 21.2%,#e71a00 25.0%,#be0200 28.8%,#8e0000 32.7%,#680000 36.5%,#4d0000 40.4%,#390000 44.2%,#2b0000 48.1%,#210000 51.9%,#1a0000 55.8%,#150000 59.6%,#110000 63.5%,#0f0000 67.3%,#0d0000 71.2%,#0c0000 75.0%,#0b0000 78.8%,#0b0000 82.7%,#0b0000 86.5%,#0b0000 90.4%,#0b0000 94.2%,#0b0000 98.1%)"></div>
<div class="fb" style="left:437.3px;top:463.60px;width:181.4px;height:8.20px;background:linear-gradient(90deg,#420100 1.9%,#870f00 5.8%,#f4850d 9.6%,#fff570 13.5%,#ffffc9 17.3%,#ffff9a 21.2%,#fff031 25.0%,#ffaa01 28.8%,#ff4c00 32.7%,#ec0e00 36.5%,#b90000 40.4%,#890000 44.2%,#640000 48.1%,#4a0000 51.9%,#370000 55.8%,#2a0000 59.6%,#200000 63.5%,#190000 67.3%,#140000 71.2%,#110000 75.0%,#0f0000 78.8%,#0d0000 82.7%,#0c0000 86.5%,#0b0000 90.4%,#0b0000 94.2%,#0b0000 98.1%)"></div>
<div class="fb" style="left:437.3px;top:471.40px;width:181.4px;height:8.20px;background:linear-gradient(90deg,#f7df67 1.9%,#da7a22 5.8%,#4d0300 9.6%,#6d0500 13.5%,#ee6c05 17.3%,#fff160 21.2%,#ffffd3 25.0%,#ffffb7 28.8%,#fff946 32.7%,#ffbf04 36.5%,#ff5f00 40.4%,#f41500 44.2%,#c50000 48.1%,#910000 51.9%,#6b0000 55.8%,#4e0000 59.6%,#3a0000 63.5%,#2c0000 67.3%,#220000 71.2%,#1a0000 75.0%,#150000 78.8%,#110000 82.7%,#0f0000 86.5%,#0d0000 90.4%,#0c0000 94.2%,#0b0000 98.1%)"></div>
<div class="fb" style="left:437.3px;top:479.20px;width:181.4px;height:8.20px;background:linear-gradient(90deg,#6f1702 1.9%,#d47b26 5.8%,#fff285 9.6%,#c64505 13.5%,#2a0000 17.3%,#960a00 21.2%,#fd9c0b 25.0%,#fffe90 28.8%,#ffffe6 32.7%,#ffffa9 36.5%,#fff62c 40.4%,#ffaa00 44.2%,#ff4900 48.1%,#ee0800 51.9%,#b70000 55.8%,#860000 59.6%,#630000 63.5%,#490000 67.3%,#360000 71.2%,#290000 75.0%,#200000 78.8%,#190000 82.7%,#140000 86.5%,#110000 90.4%,#0f0000 94.2%,#0d0000 98.1%)"></div>
<div class="fb" style="left:437.3px;top:487.00px;width:181.4px;height:8.20px;background:linear-gradient(90deg,#e0ac4c 1.9%,#b15317 5.8%,#922902 9.6%,#fff598 13.5%,#f69721 17.3%,#4b0100 21.2%,#510000 25.0%,#f35300 28.8%,#fff654 32.7%,#ffffe5 36.5%,#ffffd3 40.4%,#ffff5b 44.2%,#ffd103 48.1%,#ff6c00 51.9%,#fb1700 55.8%,#cd0000 59.6%,#970000 63.5%,#6f0000 67.3%,#510000 71.2%,#3c0000 75.0%,#2d0000 78.8%,#220000 82.7%,#1b0000 86.5%,#160000 90.4%,#120000 94.2%,#0f0000 98.1%)"></div>
<div class="fb" style="left:437.3px;top:494.80px;width:181.4px;height:8.20px;background:linear-gradient(90deg,#a7581f 1.9%,#db973f 5.8%,#cf6f22 9.6%,#771300 13.5%,#fff092 17.3%,#fdb830 21.2%,#5e0200 25.0%,#3d0000 28.8%,#ed3c00 32.7%,#fff341 36.5%,#ffffe4 40.4%,#ffffe1 44.2%,#ffff6e 48.1%,#ffdd05 51.9%,#ff7800 55.8%,#fe1f00 59.6%,#d40000 63.5%,#9c0000 67.3%,#730000 71.2%,#540000 75.0%,#3e0000 78.8%,#2f0000 82.7%,#230000 86.5%,#1c0000 90.4%,#160000 94.2%,#120000 98.1%)"></div>
<div class="fb" style="left:437.3px;top:502.60px;width:181.4px;height:8.20px;background:linear-gradient(90deg,#b76e2a 1.9%,#90370d 5.8%,#f4c05e 9.6%,#b9480c 13.5%,#971d00 17.3%,#fffdb9 21.2%,#fc9d16 25.0%,#420000 28.8%,#4e0000 32.7%,#f95200 36.5%,#fffc59 40.4%,#fffff0 44.2%,#ffffda 48.1%,#ffff5f 51.9%,#ffd301 55.8%,#ff6d00 59.6%,#fd1600 63.5%,#cc0000 67.3%,#960000 71.2%,#6e0000 75.0%,#510000 78.8%,#3c0000 82.7%,#2d0000 86.5%,#220000 90.4%,#1b0000 94.2%,#150000 98.1%)"></div>
<div class="fb" style="left:437.3px;top:510.40px;width:181.4px;height:8.20px;background:linear-gradient(90deg,#c28033 1.9%,#eab959 5.8%,#6b1000 9.6%,#ffed8c 13.5%,#741500 17.3%,#d55909 21.2%,#ffffc9 25.0%,#ea5503 28.8%,#210000 32.7%,#7f0000 36.5%,#ff8c01 40.4%,#ffff8c 44.2%,#fffff9 48.1%,#ffffc4 51.9%,#fffe3c 55.8%,#ffbb00 59.6%,#ff5600 63.5%,#f80900 67.3%,#be0000 71.2%,#8c0000 75.0%,#670000 78.8%,#4b0000 82.7%,#380000 86.5%,#2a0000 90.4%,#210000 94.2%,#190000 98.1%)"></div>
<div class="fb" style="left:437.3px;top:518.20px;width:181.4px;height:8.20px;background:linear-gradient(90deg,#9d4a19 1.9%,#8e350f 5.8%,#f8ca66 9.6%,#892904 13.5%,#fedd78 17.3%,#3d0000 21.2%,#fab435 25.0%,#fff992 28.8%,#b71500 32.7%,#180000 36.5%,#bd0900 40.4%,#ffcc0c 44.2%,#ffffbf 48.1%,#fffff6 51.9%,#ffffa2 55.8%,#fff818 59.6%,#ff9c00 63.5%,#ff3c00 67.3%,#eb0100 71.2%,#ae0000 75.0%,#800000 78.8%,#5e0000 82.7%,#450000 86.5%,#340000 90.4%,#270000 94.2%,#1e0000 98.1%)"></div>
<div class="fb" style="left:437.3px;top:526.00px;width:181.4px;height:8.20px;background:linear-gradient(90deg,#d59843 1.9%,#e5ac52 5.8%,#9e4816 9.6%,#b25b1e 13.5%,#e89d42 17.3%,#d96d19 21.2%,#740a00 25.0%,#fff99f 28.8%,#ffbf27 32.7%,#580000 36.5%,#390000 40.4%,#f33600 44.2%,#fff73d 48.1%,#ffffe5 51.9%,#ffffe1 55.8%,#ffff6d 59.6%,#ffde02 63.5%,#ff7700 67.3%,#ff1d00 71.2%,#d30000 75.0%,#9c0000 78.8%,#720000 82.7%,#540000 86.5%,#3e0000 90.4%,#2f0000 94.2%,#230000 98.1%)"></div>
<div class="fb" style="left:437.3px;top:533.80px;width:181.4px;height:8.20px;background:linear-gradient(90deg,#a1511c 1.9%,#9b4214 5.8%,#b97431 9.6%,#f9d169 13.5%,#610700 17.3%,#fff792 21.2%,#5b0600 25.0%,#e76e0b 28.8%,#ffffbb 32.7%,#e13900 36.5%,#180000 40.4%,#900000 44.2%,#ff9f01 48.1%,#ffff98 51.9%,#fffff5 55.8%,#ffffb6 59.6%,#fffd2d 63.5%,#ffb000 67.3%,#ff4e00 71.2%,#f50500 75.0%,#b90000 78.8%,#880000 82.7%,#640000 86.5%,#4a0000 90.4%,#370000 94.2%,#280000 98.1%)"></div>
<div class="fb" style="left:437.3px;top:541.60px;width:181.4px;height:8.20px;background:linear-gradient(90deg,#c78538 1.9%,#e3a042 5.8%,#dda34d 9.6%,#8d3208 13.5%,#c46e24 17.3%,#e0872b 21.2%,#e77e1d 25.0%,#610300 28.8%,#fff787 32.7%,#ffcd2c 36.5%,#620000 40.4%,#300000 44.2%,#f02b00 48.1%,#fff531 51.9%,#ffffe0 55.8%,#ffffe3 59.6%,#ffff74 63.5%,#ffe302 67.3%,#ff7c00 71.2%,#ff2100 75.0%,#d70000 78.8%,#9e0000 82.7%,#740000 86.5%,#550000 90.4%,#3f0000 94.2%,#2e0000 98.1%)"></div>
<div class="fb" style="left:437.3px;top:549.40px;width:181.4px;height:8.20px;background:linear-gradient(90deg,#ad6424 1.9%,#a74f18 5.8%,#96360a 9.6%,#a65c22 13.5%,#fedc67 17.3%,#650900 21.2%,#fff68a 25.0%,#470100 28.8%,#f38712 32.7%,#ffffac 36.5%,#d42600 40.4%,#150000 44.2%,#a20100 48.1%,#ffb202 51.9%,#ffffa7 55.8%,#fffff6 59.6%,#ffffb0 63.5%,#fffc24 67.3%,#ffa900 71.2%,#ff4800 75.0%,#f20300 78.8%,#b50000 82.7%,#860000 86.5%,#620000 90.4%,#480000 94.2%,#350000 98.1%)"></div>
<div class="fb" style="left:437.3px;top:557.20px;width:181.4px;height:8.20px;background:linear-gradient(90deg,#b9752e 1.9%,#d08a36 5.8%,#e09d41 9.6%,#f2ba50 13.5%,#a8581a 17.3%,#a0460e 21.2%,#f4b14f 25.0%,#cc560a 28.8%,#870d00 32.7%,#fffeaf 36.5%,#ffad16 40.4%,#470000 44.2%,#430000 48.1%,#fa4400 51.9%,#fffc4b 55.8%,#ffffed 59.6%,#ffffde 63.5%,#ffff65 67.3%,#ffd801 71.2%,#ff7200 75.0%,#ff1900 78.8%,#d00000 82.7%,#990000 86.5%,#700000 90.4%,#530000 94.2%,#3c0000 98.1%)"></div>
<div class="fb" style="left:437.3px;top:565.00px;width:181.4px;height:8.20px;background:linear-gradient(90deg,#b16928 1.9%,#b46324 5.8%,#ab6027 9.6%,#9b4312 13.5%,#862a08 17.3%,#fcd36b 21.2%,#8a2601 25.0%,#ffdf77 28.8%,#320000 32.7%,#febe36 36.5%,#fffa8b 40.4%,#b30d00 44.2%,#160000 48.1%,#c50700 51.9%,#ffd30b 55.8%,#ffffc5 59.6%,#fffff7 63.5%,#ffffa0 67.3%,#fff815 71.2%,#ff9b00 75.0%,#ff3b00 78.8%,#ea0100 82.7%,#ae0000 86.5%,#7f0000 90.4%,#5e0000 94.2%,#430000 98.1%)"></div>
<div class="fb" style="left:437.3px;top:572.80px;width:181.4px;height:8.20px;background:linear-gradient(90deg,#bc7a32 1.9%,#c17933 5.8%,#b57436 9.6%,#af6f37 13.5%,#e8ac57 17.3%,#e4a45a 21.2%,#670e00 25.0%,#ffee94 28.8%,#8d1a00 32.7%,#c93c00 36.5%,#ffffdc 40.4%,#f76a02 44.2%,#240000 48.1%,#6c0000 51.9%,#ff7900 55.8%,#ffff7e 59.6%,#fffffa 63.5%,#ffffcd 67.3%,#ffff47 71.2%,#ffc400 75.0%,#ff5e00 78.8%,#fb0c00 82.7%,#c30000 86.5%,#900000 90.4%,#690000 94.2%,#4c0000 98.1%)"></div>
<div class="fb" style="left:437.3px;top:580.60px;width:181.4px;height:8.20px;background:linear-gradient(90deg,#a86127 1.9%,#be7634 5.8%,#c8883f 9.6%,#e6a34b 13.5%,#daa258 17.3%,#882e05 21.2%,#cb762d 25.0%,#e0862e 28.8%,#ec8724 32.7%,#5d0200 36.5%,#fff992 40.4%,#ffd535 44.2%,#660000 48.1%,#2e0000 51.9%,#f12a00 55.8%,#fff632 59.6%,#ffffe6 63.5%,#ffffea 67.3%,#ffff7a 71.2%,#ffe603 75.0%,#ff7f00 78.8%,#ff2300 82.7%,#d80000 86.5%,#9f0000 90.4%,#750000 94.2%,#540000 98.1%)"></div>
<div class="fb" style="left:437.3px;top:588.40px;width:181.4px;height:8.20px;background:linear-gradient(90deg,#c08034 1.9%,#b56b29 5.8%,#b36323 9.6%,#a8561e 13.5%,#97390a 17.3%,#89330a 21.2%,#fedc6c 25.0%,#7f1b00 28.8%,#ffe678 32.7%,#310000 36.5%,#feb52c 40.4%,#fffd94 44.2%,#bc1000 48.1%,#140000 51.9%,#be0500 55.8%,#ffcd07 59.6%,#ffffbe 63.5%,#fffff6 67.3%,#ffffa3 71.2%,#fff918 75.0%,#ff9e00 78.8%,#ff3e00 82.7%,#ec0100 86.5%,#b00000 90.4%,#810000 94.2%,#5c0000 98.1%)"></div>
<div class="fb" style="left:437.3px;top:596.20px;width:181.4px;height:8.20px;background:linear-gradient(90deg,#ac6023 1.9%,#c57e37 5.8%,#c07932 9.6%,#af6d34 13.5%,#a76532 17.3%,#e1a355 21.2%,#edb063 25.0%,#600800 28.8%,#fff59c 32.7%,#811100 36.5%,#d24701 40.4%,#ffffdd 44.2%,#f55e01 48.1%,#200000 51.9%,#730000 55.8%,#ff8200 59.6%,#ffff85 63.5%,#fffffa 67.3%,#ffffca 71.2%,#ffff43 75.0%,#ffc000 78.8%,#ff5b00 82.7%,#fb0a00 86.5%,#c20000 90.4%,#8f0000 94.2%,#660000 98.1%)"></div>
<div class="fb" style="left:437.3px;top:604.00px;width:181.4px;height:8.20px;background:linear-gradient(90deg,#b7752f 1.9%,#af6227 5.8%,#ba7530 9.6%,#d0893a 13.5%,#e8a245 17.3%,#e8b150 21.2%,#94430d 25.0%,#af5815 28.8%,#ec9d41 32.7%,#d86910 36.5%,#730500 40.4%,#fbf9a3 44.2%,#fbbe20 48.1%,#520000 51.9%,#370000 55.8%,#f33500 59.6%,#fbf63c 63.5%,#fbfbe4 67.3%,#fbfbdf 71.2%,#fbfb6d 75.0%,#fbdb01 78.8%,#fb7600 82.7%,#fb1d00 86.5%,#d10000 90.4%,#9a0000 94.2%,#6e0000 98.1%)"></div>
<div class="fb" style="left:72.1px;top:612.80px;width:181.4px;height:8.15px;background:linear-gradient(90deg,#290000 1.9%,#2b0000 5.8%,#280000 9.6%,#220000 13.5%,#1d0000 17.3%,#180000 21.2%,#140000 25.0%,#110000 28.8%,#0f0000 32.7%,#0d0000 36.5%,#0c0000 40.4%,#0b0000 44.2%,#0b0000 48.1%,#0b0000 51.9%,#0b0000 55.8%,#0b0000 59.6%,#0b0000 63.5%,#0b0000 67.3%,#0b0000 71.2%,#0b0000 75.0%,#0b0000 78.8%,#0b0000 82.7%,#0b0000 86.5%,#0b0000 90.4%,#0b0000 94.2%,#0a0000 98.1%)"></div>
<div class="fb" style="left:72.1px;top:620.55px;width:181.4px;height:8.15px;background:linear-gradient(90deg,#100000 1.9%,#1f0000 5.8%,#2f0000 9.6%,#350000 13.5%,#320000 17.3%,#2c0000 21.2%,#240000 25.0%,#1e0000 28.8%,#180000 32.7%,#140000 36.5%,#110000 40.4%,#0f0000 44.2%,#0d0000 48.1%,#0c0000 51.9%,#0b0000 55.8%,#0b0000 59.6%,#0b0000 63.5%,#0b0000 67.3%,#0b0000 71.2%,#0b0000 75.0%,#0b0000 78.8%,#0b0000 82.7%,#0b0000 86.5%,#0b0000 90.4%,#0b0000 94.2%,#0a0000 98.1%)"></div>
<div class="fb" style="left:72.1px;top:628.30px;width:181.4px;height:8.15px;background:linear-gradient(90deg,#310000 1.9%,#120000 5.8%,#140000 9.6%,#2c0000 13.5%,#3f0000 17.3%,#430000 21.2%,#3e0000 25.0%,#340000 28.8%,#2a0000 32.7%,#210000 36.5%,#1a0000 40.4%,#150000 44.2%,#110000 48.1%,#0f0000 51.9%,#0d0000 55.8%,#0c0000 59.6%,#0b0000 63.5%,#0b0000 67.3%,#0b0000 71.2%,#0b0000 75.0%,#0b0000 78.8%,#0b0000 82.7%,#0b0000 86.5%,#0b0000 90.4%,#0b0000 94.2%,#0a0000 98.1%)"></div>
<div class="fb" style="left:72.1px;top:636.05px;width:181.4px;height:8.15px;background:linear-gradient(90deg,#270000 1.9%,#460000 5.8%,#230000 9.6%,#0f0000 13.5%,#270000 17.3%,#450000 21.2%,#520000 25.0%,#4e0000 28.8%,#420000 32.7%,#350000 36.5%,#290000 40.4%,#200000 44.2%,#190000 48.1%,#140000 51.9%,#110000 55.8%,#0e0000 59.6%,#0d0000 63.5%,#0b0000 67.3%,#0b0000 71.2%,#0b0000 75.0%,#0b0000 78.8%,#0b0000 82.7%,#0b0000 86.5%,#0b0000 90.4%,#0b0000 94.2%,#0a0000 98.1%)"></div>
<div class="fb" style="left:72.1px;top:643.80px;width:181.4px;height:8.15px;background:linear-gradient(90deg,#460000 1.9%,#1f0000 5.8%,#4d0000 9.6%,#2d0000 13.5%,#0f0000 17.3%,#280000 21.2%,#4f0000 25.0%,#610000 28.8%,#5d0000 32.7%,#4e0000 36.5%,#3d0000 40.4%,#2e0000 44.2%,#230000 48.1%,#1b0000 51.9%,#150000 55.8%,#110000 59.6%,#0f0000 63.5%,#0d0000 67.3%,#0c0000 71.2%,#0b0000 75.0%,#0b0000 78.8%,#0b0000 82.7%,#0b0000 86.5%,#0b0000 90.4%,#0b0000 94.2%,#0a0000 98.1%)"></div>
<div class="fb" style="left:72.1px;top:651.55px;width:181.4px;height:8.15px;background:linear-gradient(90deg,#350000 1.9%,#430000 5.8%,#210000 9.6%,#520000 13.5%,#270000 17.3%,#100000 21.2%,#380000 25.0%,#640000 28.8%,#720000 32.7%,#680000 36.5%,#540000 40.4%,#3f0000 44.2%,#2f0000 48.1%,#230000 51.9%,#1a0000 55.8%,#140000 59.6%,#110000 63.5%,#0e0000 67.3%,#0d0000 71.2%,#0b0000 75.0%,#0b0000 78.8%,#0b0000 82.7%,#0b0000 86.5%,#0b0000 90.4%,#0b0000 94.2%,#0a0000 98.1%)"></div>
<div class="fb" style="left:72.1px;top:659.30px;width:181.4px;height:8.15px;background:linear-gradient(90deg,#4a0000 1.9%,#430000 5.8%,#2e0000 9.6%,#310000 13.5%,#4f0000 17.3%,#180000 21.2%,#1b0000 25.0%,#540000 28.8%,#7d0000 32.7%,#800000 36.5%,#6e0000 40.4%,#540000 44.2%,#3e0000 48.1%,#2d0000 51.9%,#210000 55.8%,#190000 59.6%,#130000 63.5%,#100000 67.3%,#0d0000 71.2%,#0c0000 75.0%,#0b0000 78.8%,#0b0000 82.7%,#0b0000 86.5%,#0b0000 90.4%,#0b0000 94.2%,#0a0000 98.1%)"></div>
<div class="fb" style="left:72.1px;top:667.05px;width:181.4px;height:8.15px;background:linear-gradient(90deg,#340000 1.9%,#290000 5.8%,#4e0000 9.6%,#170000 13.5%,#450000 17.3%,#350000 21.2%,#0e0000 25.0%,#410000 28.8%,#840000 32.7%,#9c0000 36.5%,#8d0000 40.4%,#6d0000 44.2%,#4f0000 48.1%,#370000 51.9%,#270000 55.8%,#1c0000 59.6%,#150000 63.5%,#110000 67.3%,#0e0000 71.2%,#0d0000 75.0%,#0b0000 78.8%,#0b0000 82.7%,#0b0000 86.5%,#0b0000 90.4%,#0b0000 94.2%,#0a0000 98.1%)"></div>
<div class="fb" style="left:72.1px;top:674.80px;width:181.4px;height:8.15px;background:linear-gradient(90deg,#3a0000 1.9%,#410000 5.8%,#200000 9.6%,#360000 13.5%,#1f0000 17.3%,#4b0000 21.2%,#150000 25.0%,#260000 28.8%,#7b0000 32.7%,#ae0000 36.5%,#aa0000 40.4%,#870000 44.2%,#610000 48.1%,#420000 51.9%,#2d0000 55.8%,#1f0000 59.6%,#170000 63.5%,#110000 67.3%,#0e0000 71.2%,#0d0000 75.0%,#0b0000 78.8%,#0b0000 82.7%,#0b0000 86.5%,#0b0000 90.4%,#0b0000 94.2%,#0a0000 98.1%)"></div>
<div class="fb" style="left:72.1px;top:682.55px;width:181.4px;height:8.15px;background:linear-gradient(90deg,#210000 1.9%,#1a0000 5.8%,#1b0000 9.6%,#390000 13.5%,#0f0000 17.3%,#3b0000 21.2%,#1b0000 25.0%,#1f0000 28.8%,#820000 32.7%,#c90000 36.5%,#c70000 40.4%,#9c0000 44.2%,#6c0000 48.1%,#460000 51.9%,#2d0000 55.8%,#1e0000 59.6%,#150000 63.5%,#100000 67.3%,#0d0000 71.2%,#0b0000 75.0%,#0b0000 78.8%,#0b0000 82.7%,#0b0000 86.5%,#0b0000 90.4%,#0b0000 94.2%,#0a0000 98.1%)"></div>
<div class="fb" style="left:72.1px;top:690.30px;width:181.4px;height:8.15px;background:linear-gradient(90deg,#190000 1.9%,#1c0000 5.8%,#290000 9.6%,#200000 13.5%,#160000 17.3%,#2e0000 21.2%,#280000 25.0%,#150000 28.8%,#7a0000 32.7%,#d80000 36.5%,#df0000 40.4%,#af0000 44.2%,#760000 48.1%,#490000 51.9%,#2d0000 55.8%,#1d0000 59.6%,#130000 63.5%,#0f0000 67.3%,#0c0000 71.2%,#0b0000 75.0%,#0b0000 78.8%,#0b0000 82.7%,#0b0000 86.5%,#0b0000 90.4%,#0b0000 94.2%,#0a0000 98.1%)"></div>
<div class="fb" style="left:72.1px;top:698.05px;width:181.4px;height:8.15px;background:linear-gradient(90deg,#200000 1.9%,#240000 5.8%,#200000 9.6%,#120000 13.5%,#250000 17.3%,#200000 21.2%,#360000 25.0%,#0f0000 28.8%,#700000 32.7%,#e50000 36.5%,#f40000 40.4%,#be0000 44.2%,#7b0000 48.1%,#490000 51.9%,#2a0000 55.8%,#1a0000 59.6%,#110000 63.5%,#0d0000 67.3%,#0b0000 71.2%,#0b0000 75.0%,#0b0000 78.8%,#0b0000 82.7%,#0b0000 86.5%,#0b0000 90.4%,#0b0000 94.2%,#0a0000 98.1%)"></div>
<div class="fb" style="left:72.1px;top:705.80px;width:181.4px;height:8.15px;background:linear-gradient(90deg,#240000 1.9%,#1e0000 5.8%,#180000 9.6%,#180000 13.5%,#330000 17.3%,#160000 21.2%,#410000 25.0%,#0e0000 28.8%,#710000 32.7%,#f50500 36.5%,#fe0c00 40.4%,#c40000 44.2%,#770000 48.1%,#410000 51.9%,#230000 55.8%,#140000 59.6%,#0e0000 63.5%,#0b0000 67.3%,#0b0000 71.2%,#0b0000 75.0%,#0b0000 78.8%,#0b0000 82.7%,#0b0000 86.5%,#0b0000 90.4%,#0b0000 94.2%,#0a0000 98.1%)"></div>
<div class="fb" style="left:72.1px;top:713.55px;width:181.4px;height:8.15px;background:linear-gradient(90deg,#310000 1.9%,#2b0000 5.8%,#260000 9.6%,#2f0000 13.5%,#340000 17.3%,#120000 21.2%,#4f0000 25.0%,#130000 28.8%,#650000 32.7%,#f90f00 36.5%,#ff1e00 40.4%,#cb0000 44.2%,#740000 48.1%,#3a0000 51.9%,#1d0000 55.8%,#100000 59.6%,#0c0000 63.5%,#0b0000 67.3%,#0b0000 71.2%,#0b0000 75.0%,#0b0000 78.8%,#0b0000 82.7%,#0b0000 86.5%,#0b0000 90.4%,#0b0000 94.2%,#0a0000 98.1%)"></div>
<div class="fb" style="left:72.1px;top:721.30px;width:181.4px;height:8.15px;background:linear-gradient(90deg,#3a0000 1.9%,#380000 5.8%,#390000 9.6%,#3b0000 13.5%,#2b0000 17.3%,#1c0000 21.2%,#4f0000 25.0%,#1a0000 28.8%,#670000 32.7%,#fe2300 36.5%,#ff2d00 40.4%,#c30000 44.2%,#610000 48.1%,#2a0000 51.9%,#130000 55.8%,#0c0000 59.6%,#0b0000 63.5%,#0b0000 67.3%,#0b0000 71.2%,#0b0000 75.0%,#0b0000 78.8%,#0b0000 82.7%,#0b0000 86.5%,#0b0000 90.4%,#0b0000 94.2%,#0a0000 98.1%)"></div>
<div class="fb" style="left:72.1px;top:729.05px;width:181.4px;height:8.15px;background:linear-gradient(90deg,#360000 1.9%,#320000 5.8%,#2f0000 9.6%,#2c0000 13.5%,#1c0000 17.3%,#330000 21.2%,#460000 25.0%,#290000 28.8%,#590000 32.7%,#fe2f00 36.5%,#ff3800 40.4%,#b90000 44.2%,#4f0000 48.1%,#1d0000 51.9%,#0d0000 55.8%,#0b0000 59.6%,#0b0000 63.5%,#0b0000 67.3%,#0b0000 71.2%,#0b0000 75.0%,#0b0000 78.8%,#0b0000 82.7%,#0b0000 86.5%,#0b0000 90.4%,#0b0000 94.2%,#0a0000 98.1%)"></div>
<div class="fb" style="left:72.1px;top:736.80px;width:181.4px;height:8.15px;background:linear-gradient(90deg,#2e0000 1.9%,#2e0000 5.8%,#260000 9.6%,#210000 13.5%,#200000 17.3%,#500000 21.2%,#2a0000 25.0%,#2b0000 28.8%,#730100 32.7%,#fe3400 36.5%,#e32500 40.4%,#7d0000 44.2%,#2c0000 48.1%,#130000 51.9%,#100000 55.8%,#100000 59.6%,#0f0000 63.5%,#0e0000 67.3%,#0c0000 71.2%,#0c0000 75.0%,#0b0000 78.8%,#0b0000 82.7%,#0b0000 86.5%,#0b0000 90.4%,#0b0000 94.2%,#0a0000 98.1%)"></div>
<div class="fb" style="left:72.1px;top:744.55px;width:181.4px;height:8.15px;background:linear-gradient(90deg,#330000 1.9%,#220000 5.8%,#230000 9.6%,#160000 13.5%,#490000 17.3%,#880000 21.2%,#2b0000 25.0%,#a90000 28.8%,#dd0100 32.7%,#460000 36.5%,#1a0000 40.4%,#470000 44.2%,#590000 48.1%,#490000 51.9%,#300000 55.8%,#1d0000 59.6%,#120000 63.5%,#0d0000 67.3%,#0c0000 71.2%,#0b0000 75.0%,#0b0000 78.8%,#0b0000 82.7%,#0b0000 86.5%,#0b0000 90.4%,#0b0000 94.2%,#0a0000 98.1%)"></div>
<div class="fb" style="left:72.1px;top:752.30px;width:181.4px;height:8.15px;background:linear-gradient(90deg,#3a0000 1.9%,#410000 5.8%,#300000 9.6%,#350000 13.5%,#590000 17.3%,#c50200 21.2%,#830000 25.0%,#cc0000 28.8%,#300000 32.7%,#590000 36.5%,#c20000 40.4%,#960000 44.2%,#430000 48.1%,#180000 51.9%,#0d0000 55.8%,#0d0000 59.6%,#0d0000 63.5%,#0d0000 67.3%,#0d0000 71.2%,#0c0000 75.0%,#0b0000 78.8%,#0b0000 82.7%,#0b0000 86.5%,#0b0000 90.4%,#0b0000 94.2%,#0a0000 98.1%)"></div>
<div class="fb" style="left:72.1px;top:760.05px;width:181.4px;height:8.15px;background:linear-gradient(90deg,#220000 1.9%,#230000 5.8%,#190000 9.6%,#340000 13.5%,#3f0000 17.3%,#ec0000 21.2%,#b70000 25.0%,#2d0000 28.8%,#7a0200 32.7%,#f00700 36.5%,#890000 40.4%,#210000 44.2%,#120000 48.1%,#1d0000 51.9%,#200000 55.8%,#1b0000 59.6%,#150000 63.5%,#100000 67.3%,#0d0000 71.2%,#0b0000 75.0%,#0b0000 78.8%,#0b0000 82.7%,#0b0000 86.5%,#0b0000 90.4%,#0b0000 94.2%,#0a0000 98.1%)"></div>
<div class="fb" style="left:254.8px;top:612.80px;width:181.4px;height:8.15px;background:linear-gradient(90deg,#902000 1.9%,#390000 5.8%,#310000 9.6%,#710000 13.5%,#c31000 17.3%,#f44300 21.2%,#ff9100 25.0%,#ffd409 28.8%,#fff72a 32.7%,#ffff5d 36.5%,#ffff8c 40.4%,#ffffac 44.2%,#ffffc3 48.1%,#ffffd5 51.9%,#ffffe2 55.8%,#ffffeb 59.6%,#fffff2 63.5%,#fffff6 67.3%,#fffff9 71.2%,#fffffc 75.0%,#fffffd 78.8%,#ffffff 82.7%,#ffffff 86.5%,#ffffff 90.4%,#ffffff 94.2%,#ffffff 98.1%)"></div>
<div class="fb" style="left:254.8px;top:620.55px;width:181.4px;height:8.15px;background:linear-gradient(90deg,#ffec8c 1.9%,#ffea77 5.8%,#e96708 9.6%,#7b0400 13.5%,#1f0000 17.3%,#2d0000 21.2%,#7d0000 25.0%,#d80c00 28.8%,#fe4b00 32.7%,#ffa100 36.5%,#ffe306 40.4%,#fffd2a 44.2%,#ffff61 48.1%,#ffff8f 51.9%,#ffffb0 55.8%,#ffffc8 59.6%,#ffffd9 63.5%,#ffffe4 67.3%,#ffffed 71.2%,#fffff3 75.0%,#fffff7 78.8%,#fffffa 82.7%,#fffffc 86.5%,#fffffe 90.4%,#ffffff 94.2%,#ffffff 98.1%)"></div>
<div class="fb" style="left:254.8px;top:628.30px;width:181.4px;height:8.15px;background:linear-gradient(90deg,#6a0f00 1.9%,#ad4507 5.8%,#ffe374 9.6%,#fff47a 13.5%,#f37308 17.3%,#890500 21.2%,#210000 25.0%,#270000 28.8%,#720000 32.7%,#d20700 36.5%,#fe4200 40.4%,#ff9300 44.2%,#ffd701 48.1%,#fffc20 51.9%,#ffff5b 55.8%,#ffff8b 59.6%,#ffffad 63.5%,#ffffc6 67.3%,#ffffd7 71.2%,#ffffe3 75.0%,#ffffec 78.8%,#fffff2 82.7%,#fffff7 86.5%,#fffffa 90.4%,#fffffb 94.2%,#fffffe 98.1%)"></div>
<div class="fb" style="left:254.8px;top:636.05px;width:181.4px;height:8.15px;background:linear-gradient(90deg,#f0b944 1.9%,#d4741b 5.8%,#470100 9.6%,#e16d0d 13.5%,#fffc8e 17.3%,#ffe33f 21.2%,#e43500 25.0%,#590000 28.8%,#150000 32.7%,#370000 36.5%,#900000 40.4%,#e80a00 44.2%,#ff5000 48.1%,#ffa600 51.9%,#ffe904 55.8%,#ffff31 59.6%,#ffff6c 63.5%,#ffff97 67.3%,#ffffb6 71.2%,#ffffcc 75.0%,#ffffdc 78.8%,#ffffe6 82.7%,#ffffee 86.5%,#fffff4 90.4%,#fffff8 94.2%,#fffffb 98.1%)"></div>
<div class="fb" style="left:254.8px;top:643.80px;width:181.4px;height:8.15px;background:linear-gradient(90deg,#9d430b 1.9%,#c66917 5.8%,#fac43a 9.6%,#530400 13.5%,#ab2100 17.3%,#ffe94d 21.2%,#fffa61 25.0%,#fb6801 28.8%,#850000 32.7%,#1b0000 36.5%,#230000 40.4%,#690000 44.2%,#c80100 48.1%,#fe3200 51.9%,#ff8d00 55.8%,#ffd700 59.6%,#fffe1d 63.5%,#ffff5b 67.3%,#ffff8b 71.2%,#ffffad 75.0%,#ffffc6 78.8%,#ffffd7 82.7%,#ffffe3 86.5%,#ffffec 90.4%,#fffff2 94.2%,#fffff7 98.1%)"></div>
<div class="fb" style="left:254.8px;top:651.55px;width:181.4px;height:8.15px;background:linear-gradient(90deg,#c67316 1.9%,#a84308 5.8%,#c5560a 9.6%,#fed53a 13.5%,#520200 17.3%,#a11000 21.2%,#ffe530 25.0%,#fffc4d 28.8%,#fd6100 32.7%,#830000 36.5%,#190000 40.4%,#1d0000 44.2%,#610000 48.1%,#c70000 51.9%,#ff3000 55.8%,#ff8c00 59.6%,#ffd600 63.5%,#fffe1b 67.3%,#ffff5b 71.2%,#ffff8a 75.0%,#ffffac 78.8%,#ffffc5 82.7%,#ffffd7 86.5%,#ffffe3 90.4%,#ffffec 94.2%,#fffff2 98.1%)"></div>
<div class="fb" style="left:254.8px;top:659.30px;width:181.4px;height:8.15px;background:linear-gradient(90deg,#bf6e11 1.9%,#dd9720 5.8%,#892903 9.6%,#dc7713 13.5%,#fbb926 17.3%,#3d0000 21.2%,#b61900 25.0%,#ffea29 28.8%,#fff221 32.7%,#f73c00 36.5%,#6a0000 40.4%,#160000 44.2%,#220000 48.1%,#6f0000 51.9%,#d50100 55.8%,#ff3e00 59.6%,#ff9800 63.5%,#ffdf00 67.3%,#ffff24 71.2%,#ffff62 75.0%,#ffff90 78.8%,#ffffb0 82.7%,#ffffc8 86.5%,#ffffd9 90.4%,#ffffe4 94.2%,#ffffed 98.1%)"></div>
<div class="fb" style="left:254.8px;top:667.05px;width:181.4px;height:8.15px;background:linear-gradient(90deg,#9d410b 1.9%,#943b0b 5.8%,#f8c835 9.6%,#5f0b00 13.5%,#f6b029 17.3%,#f38d14 21.2%,#280000 25.0%,#d12500 28.8%,#ffee12 32.7%,#ffc901 36.5%,#e21200 40.4%,#510000 44.2%,#120000 48.1%,#2e0000 51.9%,#850000 55.8%,#e90500 59.6%,#ff5300 63.5%,#ffa900 67.3%,#ffec01 71.2%,#ffff33 75.0%,#ffff6d 78.8%,#ffff98 82.7%,#ffffb6 86.5%,#ffffcc 90.4%,#ffffdc 94.2%,#ffffe6 98.1%)"></div>
<div class="fb" style="left:254.8px;top:674.80px;width:181.4px;height:8.15px;background:linear-gradient(90deg,#de9a2c 1.9%,#da9a2d 5.8%,#731300 9.6%,#facb44 13.5%,#560400 17.3%,#ffef5b 21.2%,#cf4002 25.0%,#2b0000 28.8%,#f24a00 32.7%,#ffea00 36.5%,#ff7c00 40.4%,#b90100 44.2%,#350000 48.1%,#110000 51.9%,#450000 55.8%,#a50000 59.6%,#fa1400 63.5%,#ff7000 67.3%,#ffc000 71.2%,#fff908 75.0%,#ffff47 78.8%,#ffff7c 82.7%,#ffffa2 86.5%,#ffffbe 90.4%,#ffffd2 94.2%,#ffffdf 98.1%)"></div>
<div class="fb" style="left:254.8px;top:682.55px;width:181.4px;height:8.15px;background:linear-gradient(90deg,#a04312 1.9%,#943b12 5.8%,#e8aa4a 9.6%,#cb7724 13.5%,#ba520f 17.3%,#c44c06 21.2%,#fff37c 25.0%,#760500 28.8%,#690000 32.7%,#ff8200 36.5%,#ffb700 40.4%,#fa2600 44.2%,#750000 48.1%,#160000 51.9%,#1f0000 55.8%,#6b0000 59.6%,#d20000 63.5%,#ff3a00 67.3%,#ff9400 71.2%,#ffdc00 75.0%,#ffff21 78.8%,#ffff60 82.7%,#ffff8e 86.5%,#ffffaf 90.4%,#ffffc7 94.2%,#ffffd8 98.1%)"></div>
<div class="fb" style="left:254.8px;top:690.30px;width:181.4px;height:8.15px;background:linear-gradient(90deg,#d59548 1.9%,#e4a953 5.8%,#bf7a38 9.6%,#791b03 13.5%,#ffec84 17.3%,#4e0200 21.2%,#ffe175 25.0%,#f68e19 28.8%,#2e0000 32.7%,#d41400 36.5%,#ffb000 40.4%,#ff7900 44.2%,#c80300 48.1%,#380000 51.9%,#0e0000 55.8%,#3d0000 59.6%,#9a0000 63.5%,#f70d00 67.3%,#ff6700 71.2%,#ffb800 75.0%,#fff605 78.8%,#ffff41 82.7%,#ffff77 86.5%,#ffff9e 90.4%,#ffffbb 94.2%,#ffffd0 98.1%)"></div>
<div class="fb" style="left:254.8px;top:698.05px;width:181.4px;height:8.15px;background:linear-gradient(90deg,#b2662b 1.9%,#a34a19 5.8%,#9e4e20 9.6%,#f2be66 13.5%,#bd6823 17.3%,#d17022 21.2%,#b33d04 25.0%,#fffdb4 28.8%,#a61200 32.7%,#690000 36.5%,#ff6d00 40.4%,#ffb500 44.2%,#fb3300 48.1%,#770000 51.9%,#160000 55.8%,#1c0000 59.6%,#660000 63.5%,#cd0000 67.3%,#ff3500 71.2%,#ff9000 75.0%,#ffd900 78.8%,#ffff1d 82.7%,#ffff5d 86.5%,#ffff8c 90.4%,#ffffad 94.2%,#ffffc6 98.1%)"></div>
<div class="fb" style="left:254.8px;top:705.80px;width:181.4px;height:8.15px;background:linear-gradient(90deg,#c07a33 1.9%,#d99541 5.8%,#e8ac50 9.6%,#bf7c3b 13.5%,#771701 17.3%,#fff086 21.2%,#4b0100 25.0%,#ffde69 28.8%,#fb9815 32.7%,#5b0000 36.5%,#ee2900 40.4%,#ffcd00 44.2%,#ff9200 48.1%,#cb0400 51.9%,#370000 55.8%,#0d0000 59.6%,#3c0000 63.5%,#9a0000 67.3%,#f70c00 71.2%,#ff6600 75.0%,#ffb800 78.8%,#fff604 82.7%,#ffff40 86.5%,#ffff77 90.4%,#ffff9f 94.2%,#ffffbb 98.1%)"></div>
<div class="fb" style="left:254.8px;top:713.55px;width:181.4px;height:8.15px;background:linear-gradient(90deg,#b86b20 1.9%,#ad5316 5.8%,#9f3e0c 9.6%,#8c2905 13.5%,#e09943 17.3%,#d9862f 21.2%,#b24506 25.0%,#ca4a03 28.8%,#fff24f 32.7%,#a40300 36.5%,#c80800 40.4%,#ffc200 44.2%,#ffe001 48.1%,#fb3400 51.9%,#6e0000 55.8%,#120000 59.6%,#200000 63.5%,#6f0000 67.3%,#d60000 71.2%,#ff3f00 75.0%,#ff9800 78.8%,#ffe000 82.7%,#ffff24 86.5%,#ffff62 90.4%,#ffff90 94.2%,#ffffb1 98.1%)"></div>
<div class="fb" style="left:254.8px;top:721.30px;width:181.4px;height:8.15px;background:linear-gradient(90deg,#bd6e19 1.9%,#c6781d 5.8%,#c57f25 9.6%,#e19c30 13.5%,#edb23a 17.3%,#6d0c00 21.2%,#fcca3f 25.0%,#460100 28.8%,#ffcf05 32.7%,#e22300 36.5%,#b20100 40.4%,#ffb100 44.2%,#ffff3e 48.1%,#ff9d00 51.9%,#b90200 55.8%,#2a0000 59.6%,#100000 63.5%,#4a0000 67.3%,#ac0000 71.2%,#fd1900 75.0%,#ff7700 78.8%,#ffc600 82.7%,#fffc0b 86.5%,#ffff4c 90.4%,#ffff80 94.2%,#ffffa5 98.1%)"></div>
<div class="fb" style="left:254.8px;top:729.05px;width:181.4px;height:8.15px;background:linear-gradient(90deg,#af5d13 1.9%,#b56316 5.8%,#b66f1d 9.6%,#b5721f 13.5%,#8c2a04 17.3%,#a24a0b 21.2%,#f8bb2c 25.0%,#7a1100 28.8%,#cc2300 32.7%,#f72e00 36.5%,#9a0000 40.4%,#ff7f00 44.2%,#ffff7c 48.1%,#fff029 51.9%,#f42900 55.8%,#580000 59.6%,#0e0000 63.5%,#2c0000 67.3%,#830000 71.2%,#ea0300 75.0%,#ff5300 78.8%,#ffa900 82.7%,#ffed01 86.5%,#ffff34 90.4%,#ffff6e 94.2%,#ffff98 98.1%)"></div>
<div class="fb" style="left:254.8px;top:736.80px;width:181.4px;height:8.15px;background:linear-gradient(90deg,#c58028 1.9%,#b96c21 5.8%,#af6423 9.6%,#9d4410 13.5%,#a75d22 17.3%,#fac02e 21.2%,#963302 25.0%,#f1a235 28.8%,#4c0000 32.7%,#bf0100 36.5%,#630000 40.4%,#f43a00 44.2%,#fffe80 48.1%,#ffffa1 51.9%,#ff8800 55.8%,#980000 59.6%,#1b0000 63.5%,#170000 67.3%,#5f0000 71.2%,#c60000 75.0%,#ff3000 78.8%,#ff8c00 82.7%,#ffd700 86.5%,#ffff1b 90.4%,#ffff5b 94.2%,#ffff8b 98.1%)"></div>
<div class="fb" style="left:254.8px;top:744.55px;width:181.4px;height:8.15px;background:linear-gradient(90deg,#ac5d20 1.9%,#c0782d 5.8%,#cc8639 9.6%,#e39c45 13.5%,#f4a826 17.3%,#d38327 21.2%,#6f1300 25.0%,#e96101 28.8%,#ff9201 32.7%,#ffd23c 36.5%,#730400 40.4%,#580000 44.2%,#ffa605 48.1%,#ffff8b 51.9%,#ffc606 55.8%,#cf0600 59.6%,#330000 63.5%,#0e0000 67.3%,#430000 71.2%,#a50000 75.0%,#fc1400 78.8%,#ff7100 82.7%,#ffc100 86.5%,#fffa09 90.4%,#ffff49 94.2%,#ffff7d 98.1%)"></div>
<div class="fb" style="left:254.8px;top:752.30px;width:181.4px;height:8.15px;background:linear-gradient(90deg,#c2751e 1.9%,#ad5a0f 5.8%,#b4621b 9.6%,#ae6217 13.5%,#972900 17.3%,#7e0d00 21.2%,#fab916 25.0%,#790c00 28.8%,#750b00 32.7%,#ffdc46 36.5%,#c92200 40.4%,#330000 44.2%,#fc7501 48.1%,#ffffd0 51.9%,#fffa57 55.8%,#f83600 59.6%,#5c0000 63.5%,#0e0000 67.3%,#2b0000 71.2%,#840000 75.0%,#eb0300 78.8%,#ff5400 82.7%,#ffaa00 86.5%,#ffee01 90.4%,#ffff35 94.2%,#ffff6e 98.1%)"></div>
<div class="fb" style="left:254.8px;top:760.05px;width:181.4px;height:8.15px;background:linear-gradient(90deg,#ba712d 1.9%,#c4843e 5.8%,#bb7434 9.6%,#ae652f 13.5%,#a55a28 17.3%,#cd3f00 21.2%,#9b2100 25.0%,#fbf176 28.8%,#8a1300 32.7%,#e54100 36.5%,#ea4d01 40.4%,#1c0000 44.2%,#c71e00 48.1%,#fbf87a 51.9%,#fbfb95 55.8%,#fb7800 59.6%,#8a0000 63.5%,#170000 67.3%,#1a0000 71.2%,#650000 75.0%,#cb0000 78.8%,#fb3700 82.7%,#fb9000 86.5%,#fbd800 90.4%,#fbfb1f 94.2%,#fbfb5e 98.1%)"></div>
<div class="fb" style="left:437.3px;top:612.80px;width:181.4px;height:8.15px;background:linear-gradient(90deg,#f1ad3d 1.9%,#fff987 5.8%,#ffff9b 9.6%,#fff458 13.5%,#ffc616 17.3%,#ff7500 21.2%,#f22b00 25.0%,#d00600 28.8%,#9f0000 32.7%,#750000 36.5%,#560000 40.4%,#400000 44.2%,#300000 48.1%,#240000 51.9%,#1c0000 55.8%,#170000 59.6%,#130000 63.5%,#100000 67.3%,#0e0000 71.2%,#0c0000 75.0%,#0c0000 78.8%,#0b0000 82.7%,#0b0000 86.5%,#0b0000 90.4%,#0b0000 94.2%,#0b0000 98.1%)"></div>
<div class="fb" style="left:437.3px;top:620.55px;width:181.4px;height:8.15px;background:linear-gradient(90deg,#610b00 1.9%,#560200 5.8%,#d84b01 9.6%,#ffd737 13.5%,#ffff9e 17.3%,#ffff9c 21.2%,#fff83f 25.0%,#ffc004 28.8%,#ff6200 32.7%,#f51800 36.5%,#c90000 40.4%,#950000 44.2%,#6e0000 48.1%,#510000 51.9%,#3c0000 55.8%,#2d0000 59.6%,#220000 63.5%,#1b0000 67.3%,#160000 71.2%,#120000 75.0%,#0f0000 78.8%,#0d0000 82.7%,#0c0000 86.5%,#0b0000 90.4%,#0b0000 94.2%,#0b0000 98.1%)"></div>
<div class="fb" style="left:437.3px;top:628.30px;width:181.4px;height:8.15px;background:linear-gradient(90deg,#f0c65b 1.9%,#f4ab44 5.8%,#771200 9.6%,#420000 13.5%,#cb3200 17.3%,#ffc821 21.2%,#ffff89 25.0%,#ffff99 28.8%,#fffb42 32.7%,#ffc804 36.5%,#ff6b00 40.4%,#f91c00 44.2%,#cf0000 48.1%,#990000 51.9%,#710000 55.8%,#530000 59.6%,#3e0000 63.5%,#2e0000 67.3%,#240000 71.2%,#1c0000 75.0%,#160000 78.8%,#120000 82.7%,#100000 86.5%,#0e0000 90.4%,#0d0000 94.2%,#0b0000 98.1%)"></div>
<div class="fb" style="left:437.3px;top:636.05px;width:181.4px;height:8.15px;background:linear-gradient(90deg,#8e390d 1.9%,#aa470b 5.8%,#fff688 9.6%,#e97b18 13.5%,#440100 17.3%,#5b0000 21.2%,#ef4f00 25.0%,#ffea30 28.8%,#ffff98 32.7%,#ffff82 36.5%,#fff620 40.4%,#ffab00 44.2%,#ff4e00 48.1%,#f20b00 51.9%,#bd0000 55.8%,#8b0000 59.6%,#670000 63.5%,#4c0000 67.3%,#380000 71.2%,#2b0000 75.0%,#210000 78.8%,#1a0000 82.7%,#150000 86.5%,#110000 90.4%,#0f0000 94.2%,#0d0000 98.1%)"></div>
<div class="fb" style="left:437.3px;top:643.80px;width:181.4px;height:8.15px;background:linear-gradient(90deg,#c37b32 1.9%,#da8a35 5.8%,#680c00 9.6%,#fedb6d 13.5%,#fecc4b 17.3%,#810a00 21.2%,#2a0000 25.0%,#cd1700 28.8%,#ffc40b 32.7%,#ffff79 36.5%,#ffff92 40.4%,#fffe3b 44.2%,#ffca01 48.1%,#ff6b00 51.9%,#fc1900 55.8%,#d00000 59.6%,#9a0000 63.5%,#710000 67.3%,#540000 71.2%,#3e0000 75.0%,#2f0000 78.8%,#240000 82.7%,#1c0000 86.5%,#170000 90.4%,#120000 94.2%,#100000 98.1%)"></div>
<div class="fb" style="left:437.3px;top:651.55px;width:181.4px;height:8.15px;background:linear-gradient(90deg,#c47a31 1.9%,#c97327 5.8%,#e99738 9.6%,#560400 13.5%,#ffe26e 17.3%,#ffdf53 21.2%,#8c0700 25.0%,#210000 28.8%,#ca0d00 32.7%,#ffc004 36.5%,#ffff72 40.4%,#ffff90 44.2%,#ffff3b 48.1%,#ffcb00 51.9%,#ff6c00 55.8%,#fe1900 59.6%,#d10000 63.5%,#9b0000 67.3%,#720000 71.2%,#540000 75.0%,#3e0000 78.8%,#2f0000 82.7%,#240000 86.5%,#1c0000 90.4%,#170000 94.2%,#120000 98.1%)"></div>
<div class="fb" style="left:437.3px;top:659.30px;width:181.4px;height:8.15px;background:linear-gradient(90deg,#a4521f 1.9%,#ad5922 5.8%,#e29e46 9.6%,#d47021 13.5%,#730e00 17.3%,#fff296 21.2%,#ffc939 25.0%,#710200 28.8%,#2d0000 32.7%,#dd1800 36.5%,#ffd209 40.4%,#ffff7b 44.2%,#ffff87 48.1%,#fffd2b 51.9%,#ffbe00 55.8%,#ff6000 59.6%,#fc1100 63.5%,#c90000 67.3%,#950000 71.2%,#6e0000 75.0%,#510000 78.8%,#3c0000 82.7%,#2d0000 86.5%,#230000 90.4%,#1b0000 94.2%,#150000 98.1%)"></div>
<div class="fb" style="left:437.3px;top:667.05px;width:181.4px;height:8.15px;background:linear-gradient(90deg,#dba14a 1.9%,#d09044 5.8%,#7e2406 9.6%,#fad579 13.5%,#a63606 17.3%,#a92901 21.2%,#fffec2 25.0%,#fc9913 28.8%,#490000 32.7%,#4a0000 36.5%,#f43400 40.4%,#ffec17 44.2%,#ffff8c 48.1%,#ffff7d 51.9%,#fffa19 55.8%,#ffac00 59.6%,#ff4f00 63.5%,#f70700 67.3%,#be0000 71.2%,#8c0000 75.0%,#680000 78.8%,#4c0000 82.7%,#390000 86.5%,#2b0000 90.4%,#210000 94.2%,#190000 98.1%)"></div>
<div class="fb" style="left:437.3px;top:674.80px;width:181.4px;height:8.15px;background:linear-gradient(90deg,#943e11 1.9%,#a75923 5.8%,#fbd26b 9.6%,#6d1000 13.5%,#fff28c 17.3%,#520500 21.2%,#ea7810 25.0%,#ffffaf 28.8%,#e43d00 32.7%,#260000 36.5%,#870000 40.4%,#ff7800 44.2%,#fffe44 48.1%,#ffff9c 51.9%,#ffff68 55.8%,#ffed07 59.6%,#ff9100 63.5%,#ff3700 67.3%,#e90100 71.2%,#ae0000 75.0%,#800000 78.8%,#5f0000 82.7%,#460000 86.5%,#340000 90.4%,#280000 94.2%,#1e0000 98.1%)"></div>
<div class="fb" style="left:437.3px;top:682.55px;width:181.4px;height:8.15px;background:linear-gradient(90deg,#d7993f 1.9%,#d59943 5.8%,#892a06 9.6%,#ce7b2b 13.5%,#d2741f 17.3%,#ef9428 21.2%,#480100 25.0%,#ffde3d 28.8%,#ffd21f 32.7%,#830100 36.5%,#370000 40.4%,#e61700 44.2%,#ffdd0a 48.1%,#ffff94 51.9%,#ffffa4 55.8%,#ffff44 59.6%,#ffce00 63.5%,#ff6d00 67.3%,#fe1800 71.2%,#d00000 75.0%,#9a0000 78.8%,#720000 82.7%,#540000 86.5%,#3e0000 90.4%,#2f0000 94.2%,#230000 98.1%)"></div>
<div class="fb" style="left:437.3px;top:690.30px;width:181.4px;height:8.15px;background:linear-gradient(90deg,#a3531a 1.9%,#9e4a17 5.8%,#c98432 9.6%,#f1bf51 13.5%,#5e0700 17.3%,#ffef6b 21.2%,#790f00 25.0%,#c02900 28.8%,#fffb24 32.7%,#e72e00 36.5%,#320000 40.4%,#930000 44.2%,#ff8700 48.1%,#ffff62 51.9%,#ffffc1 55.8%,#ffff8d 59.6%,#fff916 63.5%,#ffa300 67.3%,#ff4500 71.2%,#f20300 75.0%,#b60000 78.8%,#860000 82.7%,#630000 86.5%,#490000 90.4%,#370000 94.2%,#280000 98.1%)"></div>
<div class="fb" style="left:437.3px;top:698.05px;width:181.4px;height:8.15px;background:linear-gradient(90deg,#bc772b 1.9%,#d28f35 5.8%,#c28232 9.6%,#7f1c01 13.5%,#e19333 17.3%,#b74e08 21.2%,#f8ac2c 25.0%,#2f0000 28.8%,#fa7c00 32.7%,#ff8000 36.5%,#6a0000 40.4%,#490000 44.2%,#f32900 48.1%,#fff01e 51.9%,#ffffbf 55.8%,#ffffc7 59.6%,#ffff60 63.5%,#ffdb01 67.3%,#ff7700 71.2%,#ff1f00 75.0%,#d50000 78.8%,#9e0000 82.7%,#740000 86.5%,#550000 90.4%,#3f0000 94.2%,#2e0000 98.1%)"></div>
<div class="fb" style="left:437.3px;top:705.80px;width:181.4px;height:8.15px;background:linear-gradient(90deg,#b36c28 1.9%,#a9591d 5.8%,#9d4a18 9.6%,#cf8b36 13.5%,#f0b949 17.3%,#5c0700 21.2%,#ffea59 25.0%,#951900 28.8%,#830300 32.7%,#ff6600 36.5%,#af0100 40.4%,#2b0000 44.2%,#ba0300 48.1%,#ffb701 51.9%,#ffff9d 55.8%,#ffffe9 59.6%,#ffffa6 63.5%,#fffc20 67.3%,#ffa900 71.2%,#ff4800 75.0%,#f30400 78.8%,#b70000 82.7%,#870000 86.5%,#630000 90.4%,#490000 94.2%,#350000 98.1%)"></div>
<div class="fb" style="left:437.3px;top:713.55px;width:181.4px;height:8.15px;background:linear-gradient(90deg,#b6712d 1.9%,#ce8837 5.8%,#e7a240 9.6%,#dea348 13.5%,#862803 17.3%,#d37c29 21.2%,#cc630d 25.0%,#faaa2c 28.8%,#250000 32.7%,#e81200 36.5%,#db0600 40.4%,#2f0000 44.2%,#6d0000 48.1%,#ff6000 51.9%,#fffe5a 55.8%,#ffffec 59.6%,#ffffd6 63.5%,#ffff5e 67.3%,#ffd500 71.2%,#ff6f00 75.0%,#ff1800 78.8%,#cf0000 82.7%,#990000 86.5%,#700000 90.4%,#530000 94.2%,#3c0000 98.1%)"></div>
<div class="fb" style="left:437.3px;top:721.30px;width:181.4px;height:8.15px;background:linear-gradient(90deg,#b26b2d 1.9%,#b46428 5.8%,#a8511a 9.6%,#963307 13.5%,#9b4e1a 17.3%,#ffe571 21.2%,#5d0400 25.0%,#fffd9b 28.8%,#8a0e00 32.7%,#7e0000 36.5%,#e80000 40.4%,#480000 44.2%,#320000 48.1%,#e81b00 51.9%,#ffe91a 55.8%,#ffffd4 59.6%,#fffff4 63.5%,#ffff97 67.3%,#fff510 71.2%,#ff9600 75.0%,#ff3800 78.8%,#e80000 82.7%,#ac0000 86.5%,#7f0000 90.4%,#5d0000 94.2%,#430000 98.1%)"></div>
<div class="fb" style="left:437.3px;top:729.05px;width:181.4px;height:8.15px;background:linear-gradient(90deg,#bc7b36 1.9%,#c37b37 5.8%,#c58441 9.6%,#c88d48 13.5%,#f9c561 17.3%,#c17532 21.2%,#953808 25.0%,#f6b14e 28.8%,#f58e1e 32.7%,#5b0000 36.5%,#ec0000 40.4%,#830000 44.2%,#140000 48.1%,#9f0000 51.9%,#ffa300 55.8%,#ffff98 59.6%,#fffffb 63.5%,#ffffc5 67.3%,#ffff3e 71.2%,#ffbe00 75.0%,#ff5a00 78.8%,#fa0a00 82.7%,#c20000 86.5%,#8f0000 90.4%,#690000 94.2%,#4c0000 98.1%)"></div>
<div class="fb" style="left:437.3px;top:736.80px;width:181.4px;height:8.15px;background:linear-gradient(90deg,#b1682a 1.9%,#bd732e 5.8%,#ba7634 9.6%,#ca9148 13.5%,#b47035 17.3%,#7a1000 21.2%,#f6be66 25.0%,#892601 28.8%,#ffcf54 32.7%,#c10700 36.5%,#f94e0a 40.4%,#e12d01 44.2%,#2f0000 48.1%,#480000 51.9%,#f83e00 55.8%,#fff93d 59.6%,#ffffe2 63.5%,#ffffe0 67.3%,#ffff71 71.2%,#ffe202 75.0%,#ff7c00 78.8%,#ff2200 82.7%,#d80000 86.5%,#9f0000 90.4%,#750000 94.2%,#540000 98.1%)"></div>
<div class="fb" style="left:437.3px;top:744.55px;width:181.4px;height:8.15px;background:linear-gradient(90deg,#b97027 1.9%,#b76e2f 5.8%,#b26521 9.6%,#a44610 13.5%,#90380f 17.3%,#b24700 21.2%,#f5bb51 25.0%,#b82700 28.8%,#570000 32.7%,#690200 36.5%,#ffdf4c 40.4%,#ffef46 44.2%,#a00300 48.1%,#180000 51.9%,#ca0700 55.8%,#ffd308 59.6%,#ffffbe 63.5%,#fffff2 67.3%,#ffff9f 71.2%,#fff815 75.0%,#ff9d00 78.8%,#ff3e00 82.7%,#ed0100 86.5%,#b00000 90.4%,#810000 94.2%,#5d0000 98.1%)"></div>
<div class="fb" style="left:437.3px;top:752.30px;width:181.4px;height:8.15px;background:linear-gradient(90deg,#b9732f 1.9%,#c38136 5.8%,#c37e36 9.6%,#cf8c3c 13.5%,#e7a548 17.3%,#ee7900 21.2%,#5e0400 25.0%,#f16a00 28.8%,#ffe25d 32.7%,#630500 36.5%,#ca2100 40.4%,#ffea06 44.2%,#d21800 48.1%,#150000 51.9%,#8a0000 55.8%,#ff9300 59.6%,#ffff8c 63.5%,#fffff5 67.3%,#ffffc1 71.2%,#ffff3b 75.0%,#ffbc00 78.8%,#ff5900 82.7%,#fa0900 86.5%,#c10000 90.4%,#8e0000 94.2%,#660000 98.1%)"></div>
<div class="fb" style="left:437.3px;top:760.05px;width:181.4px;height:8.15px;background:linear-gradient(90deg,#a95c21 1.9%,#ab5e1d 5.8%,#b86f2d 9.6%,#b16a19 13.5%,#b2680e 17.3%,#8a1500 21.2%,#e86c00 25.0%,#4c0400 28.8%,#e88514 32.7%,#a31000 36.5%,#b61b00 40.4%,#fbfbb1 44.2%,#fb9d0d 48.1%,#410000 51.9%,#400000 55.8%,#f63c00 59.6%,#fbf840 63.5%,#fbfbe2 67.3%,#fbfbd9 71.2%,#fbfb67 75.0%,#fbd901 78.8%,#fb7400 82.7%,#fb1c00 86.5%,#d00000 90.4%,#990000 94.2%,#6e0000 98.1%)"></div>
<div class="fb" style="left:620.9px;top:455.8px;width:14.9px;height:312px;background:linear-gradient(0deg,#0b0000,#ff0000 36.5%,#ffff00 74.6%,#fff);box-shadow:inset 0 0 0 1px rgba(0,0,0,.55)"></div>
<canvas id="c" width="685" height="844"></canvas>
<div class="t m" style="left:135.50px;top:-4.14px;font-size:18.5px;">ν</div>
<div class="t m" style="left:143.26px;top:4.79px;font-size:13px;transform:scaleX(1.2);transform-origin:0 0;">μ</div>
<svg class="t" style="left:155px;top:1px" width="19" height="8" viewBox="155 1 19 8"><path d="M156.40 5.5H171.40M167.80 2.1Q169.40 4.8 172.00 5.5Q169.40 6.2 167.80 8.9" fill="none" stroke="#111" stroke-width="1.0"/></svg>
<div class="t m" style="left:175.70px;top:-4.14px;font-size:18.5px;">ν</div>
<div class="t m" style="left:186.28px;top:4.92px;font-size:13px;">e</div>
<div class="t m" style="left:316.60px;top:-4.14px;font-size:18.5px;">ν</div>
<div class="t m" style="left:324.36px;top:4.79px;font-size:13px;transform:scaleX(1.2);transform-origin:0 0;">μ</div>
<svg class="t" style="left:336px;top:1px" width="19" height="8" viewBox="336 1 19 8"><path d="M337.50 5.5H352.50M348.90 2.1Q350.50 4.8 353.10 5.5Q350.50 6.2 348.90 8.9" fill="none" stroke="#111" stroke-width="1.0"/></svg>
<div class="t m" style="left:356.80px;top:-4.14px;font-size:18.5px;">ν</div>
<div class="t m" style="left:365.76px;top:4.79px;font-size:13px;transform:scaleX(1.2);transform-origin:0 0;">μ</div>
<div class="t m" style="left:499.80px;top:-4.14px;font-size:18.5px;">ν</div>
<div class="t m" style="left:507.56px;top:4.79px;font-size:13px;transform:scaleX(1.2);transform-origin:0 0;">μ</div>
<svg class="t" style="left:519px;top:1px" width="19" height="8" viewBox="519 1 19 8"><path d="M520.70 5.5H535.70M532.10 2.1Q533.70 4.8 536.30 5.5Q533.70 6.2 532.10 8.9" fill="none" stroke="#111" stroke-width="1.0"/></svg>
<div class="t m" style="left:540.00px;top:-4.14px;font-size:18.5px;">ν</div>
<div class="t m" style="left:549.74px;top:4.59px;font-size:13px;transform:scaleX(1.15);transform-origin:0 0;">τ</div>
<div class="t tk yl" style="left:8.67px;top:9.76px">0.0</div>
<div class="t tk yl" style="left:8.67px;top:40.76px"><span class="mi">−</span>0.2</div>
<div class="t tk yl" style="left:8.67px;top:71.76px"><span class="mi">−</span>0.4</div>
<div class="t tk yl" style="left:8.67px;top:102.76px"><span class="mi">−</span>0.6</div>
<div class="t tk yl" style="left:8.67px;top:133.86px"><span class="mi">−</span>0.8</div>
<div class="t tk yl" style="left:8.67px;top:166.16px">0.0</div>
<div class="t tk yl" style="left:8.67px;top:197.16px"><span class="mi">−</span>0.2</div>
<div class="t tk yl" style="left:8.67px;top:228.16px"><span class="mi">−</span>0.4</div>
<div class="t tk yl" style="left:8.67px;top:259.16px"><span class="mi">−</span>0.6</div>
<div class="t tk yl" style="left:8.67px;top:290.16px"><span class="mi">−</span>0.8</div>
<div class="t tk yl" style="left:8.67px;top:320.96px"><span class="mi">−</span>1.0</div>
<div class="t tk xl" style="left:79.32px;top:332.71px">2</div>
<div class="t tk xl" style="left:106.64px;top:332.71px">4</div>
<div class="t tk xl" style="left:133.96px;top:332.71px">8</div>
<div class="t tk xl" style="left:161.27px;top:332.71px">16</div>
<div class="t tk xl" style="left:188.59px;top:332.71px">32</div>
<div class="t tk xl" style="left:215.91px;top:332.71px">64</div>
<div class="t tk xl" style="left:261.92px;top:332.71px">2</div>
<div class="t tk xl" style="left:289.24px;top:332.71px">4</div>
<div class="t tk xl" style="left:316.56px;top:332.71px">8</div>
<div class="t tk xl" style="left:343.87px;top:332.71px">16</div>
<div class="t tk xl" style="left:371.19px;top:332.71px">32</div>
<div class="t tk xl" style="left:398.51px;top:332.71px">64</div>
<div class="t tk xl" style="left:444.52px;top:332.71px">2</div>
<div class="t tk xl" style="left:471.84px;top:332.71px">4</div>
<div class="t tk xl" style="left:499.16px;top:332.71px">8</div>
<div class="t tk xl" style="left:526.47px;top:332.71px">16</div>
<div class="t tk xl" style="left:553.79px;top:332.71px">32</div>
<div class="t tk xl" style="left:581.11px;top:332.71px">64</div>
<div class="t tk cl" style="left:639.26px;top:10.51px">1.0</div>
<div class="t tk cl" style="left:639.26px;top:41.69px">0.9</div>
<div class="t tk cl" style="left:639.26px;top:72.87px">0.8</div>
<div class="t tk cl" style="left:639.26px;top:104.05px">0.7</div>
<div class="t tk cl" style="left:639.26px;top:135.23px">0.6</div>
<div class="t tk cl" style="left:639.26px;top:166.41px">0.5</div>
<div class="t tk cl" style="left:639.26px;top:197.59px">0.4</div>
<div class="t tk cl" style="left:639.26px;top:228.77px">0.3</div>
<div class="t tk cl" style="left:639.26px;top:259.95px">0.2</div>
<div class="t tk cl" style="left:639.26px;top:291.13px">0.1</div>
<div class="t tk cl" style="left:639.26px;top:322.31px">0.0</div>
<div class="t m" style="left:311.70px;top:350.30px;font-size:20px;">E</div>
<div class="t m" style="left:324.90px;top:357.79px;font-size:16.5px;">ν</div>
<div class="t m2" style="left:335.30px;top:346.78px;font-size:29px;">/</div>
<div class="t sans" style="left:344.88px;top:350.86px;font-size:18px;">GeV</div>
<div class="t capb" style="left:227.38px;top:375.88px;font-size:28px;letter-spacing:1.3px">(a)</div>
<div class="t cap" style="left:277.58px;top:381.64px;font-size:24px;">Normal Ordering</div>
<div class="t cbl" style="left:668.3px;top:281.00px">oscillation probability (NO)</div>
<div class="t" style="left:0px;top:110.00px;width:1px;height:1px;transform:rotate(-90deg);transform-origin:0 0"><div class="t m" style="left:9.70px;top:7.03px;font-size:18.3px;">ν</div><div class="t m" style="left:18.38px;top:17.06px;font-size:12.8px;">μ</div></div>
<div class="t" style="left:0px;top:210.00px;width:1px;height:1px;transform:rotate(-90deg);transform-origin:0 0"><div class="t m2" style="left:7.90px;top:0.10px;font-size:17.5px;transform:scaleX(1.15);transform-origin:0 0">cos</div><div class="t m2" style="left:35.42px;top:-2.78px;font-size:22px;">(</div><div class="t m" style="left:41.90px;top:-1.40px;font-size:20px;">θ</div><div class="t m" style="left:52.20px;top:9.09px;font-size:13px;">ν</div><div class="t m2" style="left:61.52px;top:-2.78px;font-size:22px;">)</div></div>
<div class="t" style="left:0px;top:265.00px;width:1px;height:1px;transform:rotate(-90deg);transform-origin:0 0"><div class="t m" style="left:8.40px;top:6.03px;font-size:18.3px;">ν</div><div class="t m" style="left:16.78px;top:15.86px;font-size:12.8px;">μ</div><div class="t" style="left:8.4px;top:9.1px;width:7.2px;height:1.3px;background:#222"></div></div>
<div class="t m" style="left:135.50px;top:433.75px;font-size:18.5px;">ν</div>
<div class="t m" style="left:143.26px;top:442.69px;font-size:13px;transform:scaleX(1.2);transform-origin:0 0;">μ</div>
<svg class="t" style="left:155px;top:439px" width="19" height="8" viewBox="155 439 19 8"><path d="M156.40 443.5H171.40M167.80 440.1Q169.40 442.8 172.00 443.5Q169.40 444.2 167.80 446.9" fill="none" stroke="#111" stroke-width="1.0"/></svg>
<div class="t m" style="left:175.70px;top:433.75px;font-size:18.5px;">ν</div>
<div class="t m" style="left:186.28px;top:442.82px;font-size:13px;">e</div>
<div class="t m" style="left:316.60px;top:433.75px;font-size:18.5px;">ν</div>
<div class="t m" style="left:324.36px;top:442.69px;font-size:13px;transform:scaleX(1.2);transform-origin:0 0;">μ</div>
<svg class="t" style="left:336px;top:439px" width="19" height="8" viewBox="336 439 19 8"><path d="M337.50 443.5H352.50M348.90 440.1Q350.50 442.8 353.10 443.5Q350.50 444.2 348.90 446.9" fill="none" stroke="#111" stroke-width="1.0"/></svg>
<div class="t m" style="left:356.80px;top:433.75px;font-size:18.5px;">ν</div>
<div class="t m" style="left:365.76px;top:442.69px;font-size:13px;transform:scaleX(1.2);transform-origin:0 0;">μ</div>
<div class="t m" style="left:499.80px;top:433.75px;font-size:18.5px;">ν</div>
<div class="t m" style="left:507.56px;top:442.69px;font-size:13px;transform:scaleX(1.2);transform-origin:0 0;">μ</div>
<svg class="t" style="left:519px;top:439px" width="19" height="8" viewBox="519 439 19 8"><path d="M520.70 443.5H535.70M532.10 440.1Q533.70 442.8 536.30 443.5Q533.70 444.2 532.10 446.9" fill="none" stroke="#111" stroke-width="1.0"/></svg>
<div class="t m" style="left:540.00px;top:433.75px;font-size:18.5px;">ν</div>
<div class="t m" style="left:549.74px;top:442.49px;font-size:13px;transform:scaleX(1.15);transform-origin:0 0;">τ</div>
<div class="t tk yl" style="left:8.67px;top:447.66px">0.0</div>
<div class="t tk yl" style="left:8.67px;top:478.66px"><span class="mi">−</span>0.2</div>
<div class="t tk yl" style="left:8.67px;top:509.66px"><span class="mi">−</span>0.4</div>
<div class="t tk yl" style="left:8.67px;top:540.66px"><span class="mi">−</span>0.6</div>
<div class="t tk yl" style="left:8.67px;top:571.76px"><span class="mi">−</span>0.8</div>
<div class="t tk yl" style="left:8.67px;top:604.06px">0.0</div>
<div class="t tk yl" style="left:8.67px;top:635.06px"><span class="mi">−</span>0.2</div>
<div class="t tk yl" style="left:8.67px;top:666.06px"><span class="mi">−</span>0.4</div>
<div class="t tk yl" style="left:8.67px;top:697.06px"><span class="mi">−</span>0.6</div>
<div class="t tk yl" style="left:8.67px;top:728.06px"><span class="mi">−</span>0.8</div>
<div class="t tk yl" style="left:8.67px;top:758.86px"><span class="mi">−</span>1.0</div>
<div class="t tk xl" style="left:79.32px;top:770.61px">2</div>
<div class="t tk xl" style="left:106.64px;top:770.61px">4</div>
<div class="t tk xl" style="left:133.96px;top:770.61px">8</div>
<div class="t tk xl" style="left:161.27px;top:770.61px">16</div>
<div class="t tk xl" style="left:188.59px;top:770.61px">32</div>
<div class="t tk xl" style="left:215.91px;top:770.61px">64</div>
<div class="t tk xl" style="left:261.92px;top:770.61px">2</div>
<div class="t tk xl" style="left:289.24px;top:770.61px">4</div>
<div class="t tk xl" style="left:316.56px;top:770.61px">8</div>
<div class="t tk xl" style="left:343.87px;top:770.61px">16</div>
<div class="t tk xl" style="left:371.19px;top:770.61px">32</div>
<div class="t tk xl" style="left:398.51px;top:770.61px">64</div>
<div class="t tk xl" style="left:444.52px;top:770.61px">2</div>
<div class="t tk xl" style="left:471.84px;top:770.61px">4</div>
<div class="t tk xl" style="left:499.16px;top:770.61px">8</div>
<div class="t tk xl" style="left:526.47px;top:770.61px">16</div>
<div class="t tk xl" style="left:553.79px;top:770.61px">32</div>
<div class="t tk xl" style="left:581.11px;top:770.61px">64</div>
<div class="t tk cl" style="left:639.26px;top:448.41px">1.0</div>
<div class="t tk cl" style="left:639.26px;top:479.59px">0.9</div>
<div class="t tk cl" style="left:639.26px;top:510.77px">0.8</div>
<div class="t tk cl" style="left:639.26px;top:541.95px">0.7</div>
<div class="t tk cl" style="left:639.26px;top:573.13px">0.6</div>
<div class="t tk cl" style="left:639.26px;top:604.31px">0.5</div>
<div class="t tk cl" style="left:639.26px;top:635.49px">0.4</div>
<div class="t tk cl" style="left:639.26px;top:666.67px">0.3</div>
<div class="t tk cl" style="left:639.26px;top:697.85px">0.2</div>
<div class="t tk cl" style="left:639.26px;top:729.03px">0.1</div>
<div class="t tk cl" style="left:639.26px;top:760.21px">0.0</div>
<div class="t m" style="left:311.70px;top:788.20px;font-size:20px;">E</div>
<div class="t m" style="left:324.90px;top:795.69px;font-size:16.5px;">ν</div>
<div class="t m2" style="left:335.30px;top:784.68px;font-size:29px;">/</div>
<div class="t sans" style="left:344.88px;top:788.76px;font-size:18px;">GeV</div>
<div class="t capb" style="left:227.38px;top:813.38px;font-size:28px;letter-spacing:1.3px">(b)</div>
<div class="t cap" style="left:275.64px;top:819.14px;font-size:24px;">Inverted Ordering</div>
<div class="t cbl" style="left:668.3px;top:718.90px">oscillation probability (IO)</div>
<div class="t" style="left:0px;top:547.90px;width:1px;height:1px;transform:rotate(-90deg);transform-origin:0 0"><div class="t m" style="left:9.70px;top:7.03px;font-size:18.3px;">ν</div><div class="t m" style="left:18.38px;top:17.06px;font-size:12.8px;">μ</div></div>
<div class="t" style="left:0px;top:647.90px;width:1px;height:1px;transform:rotate(-90deg);transform-origin:0 0"><div class="t m2" style="left:7.90px;top:0.10px;font-size:17.5px;transform:scaleX(1.15);transform-origin:0 0">cos</div><div class="t m2" style="left:35.42px;top:-2.78px;font-size:22px;">(</div><div class="t m" style="left:41.90px;top:-1.40px;font-size:20px;">θ</div><div class="t m" style="left:52.20px;top:9.09px;font-size:13px;">ν</div><div class="t m2" style="left:61.52px;top:-2.78px;font-size:22px;">)</div></div>
<div class="t" style="left:0px;top:702.90px;width:1px;height:1px;transform:rotate(-90deg);transform-origin:0 0"><div class="t m" style="left:8.40px;top:6.03px;font-size:18.3px;">ν</div><div class="t m" style="left:16.78px;top:15.86px;font-size:12.8px;">μ</div><div class="t" style="left:8.4px;top:9.1px;width:7.2px;height:1.3px;background:#222"></div></div>
<script>
(function(){
var D2R=Math.PI/180,R=6371,HATM=20;
var EMIN=1,EMAX=100;
function prem(r){var x=r/6371;
 if(r<1221.5)return 13.0885-8.8381*x*x;
 if(r<3480)return 12.5815-1.2638*x-3.6426*x*x-5.5281*x*x*x;
 if(r<5701)return 7.9565-6.4761*x+5.5283*x*x-3.0807*x*x*x;
 if(r<5771)return 5.3197-1.4836*x;
 if(r<5971)return 11.2494-8.0298*x;
 if(r<6151)return 7.1089-3.8045*x;
 if(r<6346.6)return 2.6910+0.6924*x;
 if(r<6356)return 2.9;
 if(r<6368)return 2.6;
 return 1.02;}
var RAD=[6371,6346.6,6151,5971,5701,5200,4600,4000,3480,2900,2300,1221.5,0],RHO=null;
var NS=RAD.length-1,SV=[];
for(var s=0;s<NS;s++){var a=RAD[s+1],b=RAD[s],sum=0,n=50;
 for(var k=0;k<n;k++){sum+=prem(a+(b-a)*(k+0.5)/n);}
 var rho=RHO?RHO[s]:sum/n,ye=(b<=3480.01)?0.4656:0.4957;SV.push(3.8679e-4*rho*ye);}
SV.push(0);// vacuum index NS
function mixM(th12,th13,th23,dcp,dm21,dm31,anti){
 var s12=Math.sin(th12*D2R),c12=Math.cos(th12*D2R),s13=Math.sin(th13*D2R),c13=Math.cos(th13*D2R),
 s23=Math.sin(th23*D2R),c23=Math.cos(th23*D2R),cd=Math.cos(dcp*D2R),sd=Math.sin(dcp*D2R);
 var Ur=[c12*c13,s12*c13,s13*cd,-s12*c23-c12*s23*s13*cd,c12*c23-s12*s23*s13*cd,s23*c13,s12*s23-c12*c23*s13*cd,-c12*s23-s12*c23*s13*cd,c23*c13];
 var Ui=[0,0,-s13*sd,-c12*s23*s13*sd,-s12*s23*s13*sd,0,-c12*c23*s13*sd,-s12*c23*s13*sd,0];
 if(anti){for(var i=0;i<9;i++)Ui[i]=-Ui[i];}
 var d=[0,dm21*2.53386,dm31*2.53386],Mr=new Float64Array(9),Mi=new Float64Array(9);
 for(var a=0;a<3;a++)for(var b=0;b<3;b++){var r=0,im=0;
  for(var k=0;k<3;k++){r+=d[k]*(Ur[a*3+k]*Ur[b*3+k]+Ui[a*3+k]*Ui[b*3+k]);im+=d[k]*(Ui[a*3+k]*Ur[b*3+k]-Ur[a*3+k]*Ui[b*3+k]);}
  Mr[a*3+b]=r;Mi[a*3+b]=im;}
 return [Mr,Mi];}
// eigen decomposition: returns 3 eigenvalues + 3 projectors (re,im 9 each)
function eig(Hr,Hi,out,o){
 var tr=(Hr[0]+Hr[4]+Hr[8])/3,Tr=new Float64Array(9),Ti=new Float64Array(9),i,j,k;
 for(i=0;i<9;i++){Tr[i]=Hr[i];Ti[i]=Hi[i];}Tr[0]-=tr;Tr[4]-=tr;Tr[8]-=tr;
 var t2=0;for(i=0;i<9;i++)t2+=Tr[i]*Tr[i]+Ti[i]*Ti[i];
 var p=-0.5*t2;
 // det
 function cm(ar,ai,br,bi){return [ar*br-ai*bi,ar*bi+ai*br];}
 var m1=cm(Tr[4],Ti[4],Tr[8],Ti[8]),m2=cm(Tr[5],Ti[5],Tr[7],Ti[7]);
 var A=cm(Tr[0],Ti[0],m1[0]-m2[0],m1[1]-m2[1]);
 m1=cm(Tr[3],Ti[3],Tr[8],Ti[8]);m2=cm(Tr[5],Ti[5],Tr[6],Ti[6]);
 var B=cm(Tr[1],Ti[1],m1[0]-m2[0],m1[1]-m2[1]);
 m1=cm(Tr[3],Ti[3],Tr[7],Ti[7]);m2=cm(Tr[4],Ti[4],Tr[6],Ti[6]);
 var C=cm(Tr[2],Ti[2],m1[0]-m2[0],m1[1]-m2[1]);
 var det=A[0]-B[0]+C[0],q=-det;
 var mm=2*Math.sqrt(-p/3),arg=(3*q/(2*p))*Math.sqrt(-3/p);if(arg>1)arg=1;if(arg<-1)arg=-1;
 var th=Math.acos(arg)/3,L=[mm*Math.cos(th),mm*Math.cos(th-2*Math.PI/3),mm*Math.cos(th-4*Math.PI/3)];
 // T^2
 var Sr=new Float64Array(9),Si=new Float64Array(9);
 for(i=0;i<3;i++)for(j=0;j<3;j++){var r=0,im=0;for(k=0;k<3;k++){r+=Tr[i*3+k]*Tr[k*3+j]-Ti[i*3+k]*Ti[k*3+j];im+=Tr[i*3+k]*Ti[k*3+j]+Ti[i*3+k]*Tr[k*3+j];}Sr[i*3+j]=r;Si[i*3+j]=im;}
 for(k=0;k<3;k++){var a=L[(k+1)%3],b=L[(k+2)%3],den=(L[k]-a)*(L[k]-b),s1=a+b,pr=a*b;
  out[o+k]=L[k];
  for(i=0;i<9;i++){var vr=Sr[i]-s1*Tr[i]+((i%4==0)?pr:0),vi=Si[i]-s1*Ti[i];
   out[o+3+k*18+i]=vr/den;out[o+3+k*18+9+i]=vi/den;}}
}
var SZ=57;
function compute(par,anti,nE,nC,cT,cB){
 var MM=mixM(par[0],par[1],par[2],par[3],par[4],par[5],anti),Mr=MM[0],Mi=MM[1],sg=anti?-1:1;
 var pre=new Float64Array(nE*(NS+1)*SZ),Hr=new Float64Array(9),Hi=new Float64Array(9);
 for(var j=0;j<nE;j++){var E=EMIN*Math.pow(EMAX/EMIN,(j+0.5)/nE);
  for(var s=0;s<=NS;s++){for(var i=0;i<9;i++){Hr[i]=Mr[i]/E;Hi[i]=Mi[i]/E;}Hr[0]+=sg*SV[s];
   eig(Hr,Hi,pre,(j*(NS+1)+s)*SZ);}}
 var out=new Float32Array(nE*nC*3),segS=new Int32Array(64),segL=new Float64Array(64);
 for(var i=0;i<nC;i++){var c=cT+(cB-cT)*(i+0.5)/nC;if(c>0)c=0;if(c<-1)c=-1;var b=R*Math.sqrt(1-c*c);
  var Lt=-R*c+Math.sqrt(R*R*c*c+2*R*HATM+HATM*HATM),ns=0;
  segS[ns]=NS;segL[ns]=Lt+2*R*c;ns++;
  var m=0;while(m+1<NS&&RAD[m+1]>b)m++;
  function half(r){return r>b?Math.sqrt(r*r-b*b):0;}
  for(var s=0;s<m;s++){segS[ns]=s;segL[ns]=half(RAD[s])-half(RAD[s+1]);ns++;}
  segS[ns]=m;segL[ns]=2*half(RAD[m]);ns++;
  for(var s=m-1;s>=0;s--){segS[ns]=s;segL[ns]=half(RAD[s])-half(RAD[s+1]);ns++;}
  for(var j=0;j<nE;j++){var pr0=0,pi0=0,pr1=1,pi1=0,pr2=0,pi2=0,base=j*(NS+1)*SZ;
   for(var g=0;g<ns;g++){var Lg=segL[g];if(Lg<=0)continue;var o=base+segS[g]*SZ;
    var nr0=0,ni0=0,nr1=0,ni1=0,nr2=0,ni2=0;
    for(var k=0;k<3;k++){var ph=-pre[o+k]*Lg,cr=Math.cos(ph),ci=Math.sin(ph),q=o+3+k*18;
     // v = P psi
     var vr0=pre[q]*pr0-pre[q+9]*pi0+pre[q+1]*pr1-pre[q+10]*pi1+pre[q+2]*pr2-pre[q+11]*pi2;
     var vi0=pre[q]*pi0+pre[q+9]*pr0+pre[q+1]*pi1+pre[q+10]*pr1+pre[q+2]*pi2+pre[q+11]*pr2;
     var vr1=pre[q+3]*pr0-pre[q+12]*pi0+pre[q+4]*pr1-pre[q+13]*pi1+pre[q+5]*pr2-pre[q+14]*pi2;
     var vi1=pre[q+3]*pi0+pre[q+12]*pr0+pre[q+4]*pi1+pre[q+13]*pr1+pre[q+5]*pi2+pre[q+14]*pr2;
     var vr2=pre[q+6]*pr0-pre[q+15]*pi0+pre[q+7]*pr1-pre[q+16]*pi1+pre[q+8]*pr2-pre[q+17]*pi2;
     var vi2=pre[q+6]*pi0+pre[q+15]*pr0+pre[q+7]*pi1+pre[q+16]*pr1+pre[q+8]*pi2+pre[q+17]*pr2;
     nr0+=cr*vr0-ci*vi0;ni0+=cr*vi0+ci*vr0;nr1+=cr*vr1-ci*vi1;ni1+=cr*vi1+ci*vr1;nr2+=cr*vr2-ci*vi2;ni2+=cr*vi2+ci*vr2;}
    pr0=nr0;pi0=ni0;pr1=nr1;pi1=ni1;pr2=nr2;pi2=ni2;}
   var ix=(i*nE+j)*3;out[ix]=pr0*pr0+pi0*pi0;out[ix+1]=pr1*pr1+pi1*pi1;out[ix+2]=pr2*pr2+pi2*pi2;}}
 return out;}
function hot(x){if(x<0)x=0;if(x>1)x=1;var i=Math.min(255,Math.floor(x*256))/255;
 var r=i<0.365079?0.0416+(1-0.0416)*i/0.365079:1,g=i<0.365079?0:(i<0.746032?(i-0.365079)/(0.746032-0.365079):1),b=i<0.746032?0:(i-0.746032)/(1-0.746032);
 return [Math.round(r*255),Math.round(g*255),Math.round(b*255)];}
var LUT=[];for(var i=0;i<256;i++)LUT.push(hot((i+0.5)/256));
var cv=document.getElementById('c'),ctx=cv.getContext('2d');
ctx.fillStyle='#fff';ctx.fillRect(0,0,685,844);
var SSX=2,SSY=2,PW=182,PH=156,nE=PW*SSX,nC=PH*SSY;
var NO=[33.48,8.7,44.0,0,7.50e-5,2.457e-3],IO=[33.48,8.7,44.0,0,7.50e-5,-2.374e-3];
var COLX=[72.1,254.75,437.3],CW=181.45;
function drawFig(par,Y0){
 var rows=[[0,Y0,Y0+156.0,Y0+0.5,Y0+155.6],[1,Y0+157.0,Y0+312,Y0+156.6,Y0+311.5]];
 ctx.imageSmoothingEnabled=true;ctx.imageSmoothingQuality='high';
 for(var rr=0;rr<2;rr++){var ro=rows[rr],ax0=ro[3],ax1=ro[4],cT=-(ro[1]-ax0)/(ax1-ax0),cB=-(ro[2]-ax0)/(ax1-ax0);var res=compute(par,ro[0]==1,nE,nC,cT,cB);
  for(var f=0;f<3;f++){var oc=document.createElement('canvas');oc.width=nE;oc.height=nC;var oct=oc.getContext('2d'),id=oct.createImageData(nE,nC),d=id.data;
   for(var p=0;p<nE*nC;p++){var v=res[p*3+f],k=Math.floor(v*256);if(k<0)k=0;if(k>255)k=255;var c=LUT[k];d[p*4]=c[0];d[p*4+1]=c[1];d[p*4+2]=c[2];d[p*4+3]=255;}
   oct.putImageData(id,0,0);
   ctx.drawImage(oc,COLX[f],rows[rr][1],CW,rows[rr][2]-rows[rr][1]);}}
 // spines (thin dark lines inside panel edges)
 ctx.fillStyle='rgba(0,0,0,0.62)';
 for(var f=0;f<3;f++){var L=COLX[f],R=L+CW;
  ctx.fillRect(L,Y0,R-L,0.95);ctx.fillRect(L,Y0+311.05,R-L,0.95);
  ctx.fillRect(L,Y0,0.95,312);ctx.fillRect(R-0.95,Y0,0.95,312);
  ctx.fillRect(L,Y0+155.05,R-L,0.95);}
 ctx.fillStyle='#8f8f8f';ctx.fillRect(COLX[0],Y0+156.0,COLX[2]+CW-COLX[0],1.0);
 // colorbar
 var cx=620.9,cw=14.9,cy=Y0,ch=312;
 for(var y=0;y<ch;y++){var v=1-(y+0.5)/ch,c=LUT[Math.min(255,Math.floor(v*256))];ctx.fillStyle='rgb('+c[0]+','+c[1]+','+c[2]+')';ctx.fillRect(cx,cy+y,cw,(y<ch-1)?2:1);}
 ctx.fillStyle='rgba(0,0,0,0.6)';ctx.fillRect(cx,cy,cw,0.95);ctx.fillRect(cx,cy+ch-0.95,cw,0.95);ctx.fillRect(cx,cy,0.95,ch);ctx.fillRect(cx+cw-0.95,cy,0.95,ch);
 ctx.fillStyle='rgba(0,0,0,0.8)';for(var k=1;k<10;k++){var yy=cy+ch-k*ch/10-0.4;ctx.fillRect(cx+cw-3.5,yy,3,0.8);}
}
var t0=Date.now();
drawFig(NO,17.9);drawFig(IO,455.8);

})();
</script>

</body></html>
